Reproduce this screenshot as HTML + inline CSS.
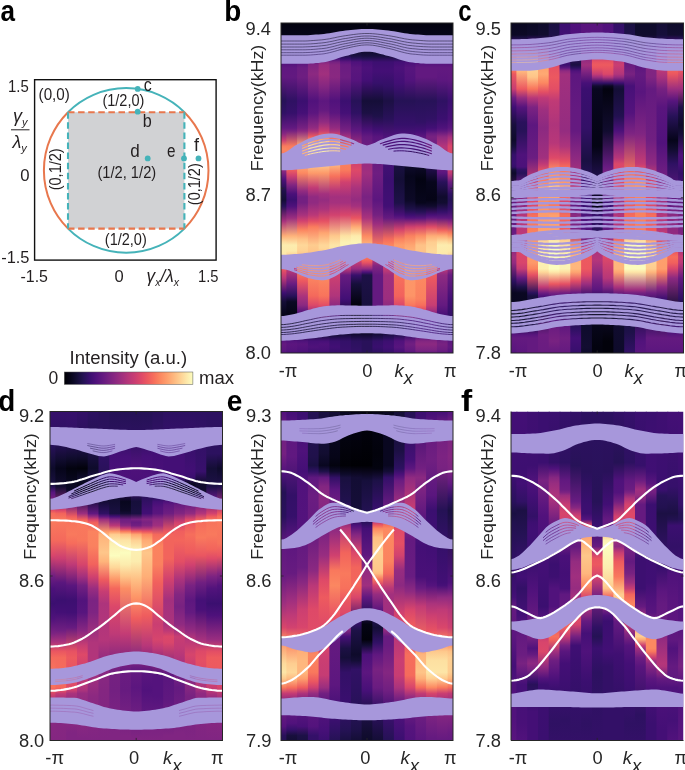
<!DOCTYPE html>
<html><head><meta charset="utf-8"><title>Figure</title>
<style>html,body{margin:0;padding:0;background:#fff}svg{display:block}
text{font-family:"Liberation Sans",sans-serif;fill:#231f20}
.t{font-size:18.3px;fill:#262626}
.pl{font-size:29.6px;font-weight:bold;fill:#000}
.s{font-size:14.5px}
</style></head><body>
<svg width="685" height="770" viewBox="0 0 685 770">
<defs><clipPath id="cpb"><rect x="281" y="23" width="172" height="330"/></clipPath><linearGradient id="b0" x1="0" y1="0" x2="0" y2="1"><stop offset="0" stop-color="#03030f"/><stop offset="0.073" stop-color="#0a0822"/><stop offset="0.1" stop-color="#1e1149"/><stop offset="0.118" stop-color="#4e117b"/><stop offset="0.136" stop-color="#601880"/><stop offset="0.164" stop-color="#621980"/><stop offset="0.236" stop-color="#271258"/><stop offset="0.273" stop-color="#311165"/><stop offset="0.318" stop-color="#621980"/><stop offset="0.336" stop-color="#882781"/><stop offset="0.355" stop-color="#c73d73"/><stop offset="0.373" stop-color="#f97b5d"/><stop offset="0.382" stop-color="#fb8761"/><stop offset="0.409" stop-color="#f7705c"/><stop offset="0.418" stop-color="#ee5b5e"/><stop offset="0.445" stop-color="#932b80"/><stop offset="0.473" stop-color="#51127c"/><stop offset="0.509" stop-color="#20114b"/><stop offset="0.536" stop-color="#140e36"/><stop offset="0.555" stop-color="#271258"/><stop offset="0.6" stop-color="#a6317d"/><stop offset="0.645" stop-color="#feae77"/><stop offset="0.664" stop-color="#fddea0"/><stop offset="0.673" stop-color="#fcecae"/><stop offset="0.7" stop-color="#fde9aa"/><stop offset="0.709" stop-color="#fdda9c"/><stop offset="0.736" stop-color="#f66c5c"/><stop offset="0.755" stop-color="#dc4869"/><stop offset="0.773" stop-color="#ba3878"/><stop offset="0.818" stop-color="#3d0f71"/><stop offset="0.845" stop-color="#140e36"/><stop offset="0.882" stop-color="#06051a"/><stop offset="0.927" stop-color="#0a0822"/><stop offset="0.936" stop-color="#0e0b2b"/><stop offset="0.945" stop-color="#1d1147"/><stop offset="0.964" stop-color="#5a167e"/><stop offset="0.973" stop-color="#641a80"/><stop offset="0.991" stop-color="#5d177f"/><stop offset="1" stop-color="#51127c"/></linearGradient><linearGradient id="b1" x1="0" y1="0" x2="0" y2="1"><stop offset="0" stop-color="#03030f"/><stop offset="0.073" stop-color="#0a0822"/><stop offset="0.1" stop-color="#1e1149"/><stop offset="0.118" stop-color="#4e117b"/><stop offset="0.136" stop-color="#601880"/><stop offset="0.164" stop-color="#621980"/><stop offset="0.236" stop-color="#2f1163"/><stop offset="0.273" stop-color="#36106b"/><stop offset="0.318" stop-color="#621980"/><stop offset="0.327" stop-color="#752181"/><stop offset="0.373" stop-color="#f97b5d"/><stop offset="0.391" stop-color="#fc8961"/><stop offset="0.418" stop-color="#fb835f"/><stop offset="0.445" stop-color="#ef5d5e"/><stop offset="0.464" stop-color="#cc3f71"/><stop offset="0.491" stop-color="#812581"/><stop offset="0.518" stop-color="#4a1079"/><stop offset="0.536" stop-color="#3b0f70"/><stop offset="0.555" stop-color="#4e117b"/><stop offset="0.591" stop-color="#9b2e7f"/><stop offset="0.645" stop-color="#feb27a"/><stop offset="0.673" stop-color="#fcecae"/><stop offset="0.691" stop-color="#fde9aa"/><stop offset="0.709" stop-color="#fec88c"/><stop offset="0.727" stop-color="#f8765c"/><stop offset="0.736" stop-color="#e04c67"/><stop offset="0.745" stop-color="#c23b75"/><stop offset="0.791" stop-color="#681c81"/><stop offset="0.827" stop-color="#29115a"/><stop offset="0.845" stop-color="#0b0924"/><stop offset="0.882" stop-color="#050416"/><stop offset="0.936" stop-color="#0e0b2b"/><stop offset="0.945" stop-color="#1c1044"/><stop offset="0.964" stop-color="#54137d"/><stop offset="0.973" stop-color="#5c167f"/><stop offset="0.991" stop-color="#56147d"/><stop offset="1" stop-color="#471078"/></linearGradient><linearGradient id="b2" x1="0" y1="0" x2="0" y2="1"><stop offset="0" stop-color="#03030f"/><stop offset="0.073" stop-color="#0a0822"/><stop offset="0.1" stop-color="#21114e"/><stop offset="0.109" stop-color="#36106b"/><stop offset="0.118" stop-color="#57157e"/><stop offset="0.136" stop-color="#6b1d81"/><stop offset="0.164" stop-color="#6e1e81"/><stop offset="0.236" stop-color="#3b0f70"/><stop offset="0.273" stop-color="#451077"/><stop offset="0.318" stop-color="#762181"/><stop offset="0.327" stop-color="#892881"/><stop offset="0.373" stop-color="#feaa74"/><stop offset="0.382" stop-color="#feb77e"/><stop offset="0.427" stop-color="#feae77"/><stop offset="0.455" stop-color="#fc8961"/><stop offset="0.509" stop-color="#932b80"/><stop offset="0.527" stop-color="#732081"/><stop offset="0.545" stop-color="#732081"/><stop offset="0.582" stop-color="#a8327d"/><stop offset="0.6" stop-color="#d2426f"/><stop offset="0.627" stop-color="#fb8560"/><stop offset="0.655" stop-color="#fec287"/><stop offset="0.673" stop-color="#fed799"/><stop offset="0.691" stop-color="#fed194"/><stop offset="0.727" stop-color="#fea36f"/><stop offset="0.755" stop-color="#f97b5d"/><stop offset="0.782" stop-color="#ec5860"/><stop offset="0.827" stop-color="#ab337c"/><stop offset="0.855" stop-color="#8b2981"/><stop offset="0.882" stop-color="#4a1079"/><stop offset="0.9" stop-color="#130d34"/><stop offset="0.927" stop-color="#0e0b2b"/><stop offset="0.936" stop-color="#0e0b2b"/><stop offset="0.945" stop-color="#180f3d"/><stop offset="0.964" stop-color="#4f127b"/><stop offset="0.973" stop-color="#59157e"/><stop offset="0.991" stop-color="#51127c"/><stop offset="1" stop-color="#440f76"/></linearGradient><linearGradient id="b3" x1="0" y1="0" x2="0" y2="1"><stop offset="0" stop-color="#03030f"/><stop offset="0.073" stop-color="#0a0822"/><stop offset="0.1" stop-color="#2c115f"/><stop offset="0.109" stop-color="#471078"/><stop offset="0.118" stop-color="#6d1d81"/><stop offset="0.127" stop-color="#802582"/><stop offset="0.155" stop-color="#8c2981"/><stop offset="0.191" stop-color="#752181"/><stop offset="0.236" stop-color="#51127c"/><stop offset="0.273" stop-color="#5c167f"/><stop offset="0.318" stop-color="#912b81"/><stop offset="0.327" stop-color="#a8327d"/><stop offset="0.345" stop-color="#ef5d5e"/><stop offset="0.355" stop-color="#fd9869"/><stop offset="0.364" stop-color="#fec287"/><stop offset="0.373" stop-color="#fde0a1"/><stop offset="0.391" stop-color="#fde3a5"/><stop offset="0.427" stop-color="#fec88c"/><stop offset="0.455" stop-color="#fd9a6a"/><stop offset="0.5" stop-color="#c03a76"/><stop offset="0.527" stop-color="#902a81"/><stop offset="0.545" stop-color="#902a81"/><stop offset="0.582" stop-color="#ba3878"/><stop offset="0.6" stop-color="#e04c67"/><stop offset="0.618" stop-color="#fa7d5e"/><stop offset="0.673" stop-color="#fecc8f"/><stop offset="0.691" stop-color="#fec68a"/><stop offset="0.764" stop-color="#fc8961"/><stop offset="0.827" stop-color="#f4695c"/><stop offset="0.855" stop-color="#dc4869"/><stop offset="0.873" stop-color="#a8327d"/><stop offset="0.882" stop-color="#842681"/><stop offset="0.9" stop-color="#20114b"/><stop offset="0.909" stop-color="#130d34"/><stop offset="0.936" stop-color="#0e0b2b"/><stop offset="0.945" stop-color="#160f3b"/><stop offset="0.964" stop-color="#471078"/><stop offset="0.982" stop-color="#4f127b"/><stop offset="1" stop-color="#3f0f72"/></linearGradient><linearGradient id="b4" x1="0" y1="0" x2="0" y2="1"><stop offset="0" stop-color="#03030f"/><stop offset="0.073" stop-color="#0a0822"/><stop offset="0.091" stop-color="#1e1149"/><stop offset="0.1" stop-color="#331067"/><stop offset="0.109" stop-color="#54137d"/><stop offset="0.118" stop-color="#832681"/><stop offset="0.127" stop-color="#982d80"/><stop offset="0.155" stop-color="#a1307e"/><stop offset="0.191" stop-color="#862781"/><stop offset="0.236" stop-color="#5d177f"/><stop offset="0.264" stop-color="#641a80"/><stop offset="0.3" stop-color="#912b81"/><stop offset="0.327" stop-color="#c83e73"/><stop offset="0.345" stop-color="#f7725c"/><stop offset="0.355" stop-color="#feb77e"/><stop offset="0.364" stop-color="#fddea0"/><stop offset="0.382" stop-color="#fcf0b2"/><stop offset="0.418" stop-color="#fddea0"/><stop offset="0.455" stop-color="#fd9a6a"/><stop offset="0.518" stop-color="#a3307e"/><stop offset="0.536" stop-color="#942c80"/><stop offset="0.564" stop-color="#ab337c"/><stop offset="0.6" stop-color="#e55064"/><stop offset="0.636" stop-color="#fea571"/><stop offset="0.673" stop-color="#fed799"/><stop offset="0.682" stop-color="#fed799"/><stop offset="0.727" stop-color="#fe9d6c"/><stop offset="0.791" stop-color="#fa815f"/><stop offset="0.827" stop-color="#f8745c"/><stop offset="0.855" stop-color="#e34e65"/><stop offset="0.873" stop-color="#b0357b"/><stop offset="0.882" stop-color="#8c2981"/><stop offset="0.9" stop-color="#21114e"/><stop offset="0.909" stop-color="#130d34"/><stop offset="0.936" stop-color="#0e0b2b"/><stop offset="0.945" stop-color="#160f3b"/><stop offset="0.964" stop-color="#471078"/><stop offset="0.973" stop-color="#4f127b"/><stop offset="0.991" stop-color="#491078"/><stop offset="1" stop-color="#3b0f70"/></linearGradient><linearGradient id="b5" x1="0" y1="0" x2="0" y2="1"><stop offset="0" stop-color="#03030f"/><stop offset="0.073" stop-color="#0a0822"/><stop offset="0.1" stop-color="#2a115c"/><stop offset="0.109" stop-color="#4a1079"/><stop offset="0.118" stop-color="#752181"/><stop offset="0.127" stop-color="#862781"/><stop offset="0.164" stop-color="#892881"/><stop offset="0.236" stop-color="#51127c"/><stop offset="0.273" stop-color="#5c167f"/><stop offset="0.318" stop-color="#932b80"/><stop offset="0.327" stop-color="#a6317d"/><stop offset="0.345" stop-color="#e75263"/><stop offset="0.355" stop-color="#fd9467"/><stop offset="0.364" stop-color="#fec185"/><stop offset="0.373" stop-color="#fed597"/><stop offset="0.4" stop-color="#fed395"/><stop offset="0.427" stop-color="#febb81"/><stop offset="0.464" stop-color="#f7725c"/><stop offset="0.509" stop-color="#b83779"/><stop offset="0.527" stop-color="#a3307e"/><stop offset="0.545" stop-color="#a5317e"/><stop offset="0.582" stop-color="#d2426f"/><stop offset="0.645" stop-color="#fec88c"/><stop offset="0.673" stop-color="#fde5a7"/><stop offset="0.682" stop-color="#fde5a7"/><stop offset="0.745" stop-color="#f1605d"/><stop offset="0.764" stop-color="#cd4071"/><stop offset="0.827" stop-color="#b0357b"/><stop offset="0.864" stop-color="#842681"/><stop offset="0.882" stop-color="#5f187f"/><stop offset="0.9" stop-color="#150e38"/><stop offset="0.918" stop-color="#0e0b2b"/><stop offset="0.936" stop-color="#0e0b2b"/><stop offset="0.945" stop-color="#150e38"/><stop offset="0.964" stop-color="#3b0f70"/><stop offset="0.982" stop-color="#420f75"/><stop offset="1" stop-color="#36106b"/></linearGradient><linearGradient id="b6" x1="0" y1="0" x2="0" y2="1"><stop offset="0" stop-color="#03030f"/><stop offset="0.073" stop-color="#0a0822"/><stop offset="0.1" stop-color="#21114e"/><stop offset="0.109" stop-color="#38106c"/><stop offset="0.118" stop-color="#5c167f"/><stop offset="0.127" stop-color="#6a1c81"/><stop offset="0.164" stop-color="#6e1e81"/><stop offset="0.236" stop-color="#3b0f70"/><stop offset="0.273" stop-color="#451077"/><stop offset="0.327" stop-color="#792282"/><stop offset="0.345" stop-color="#a3307e"/><stop offset="0.373" stop-color="#fa7d5e"/><stop offset="0.391" stop-color="#fc8961"/><stop offset="0.445" stop-color="#f97b5d"/><stop offset="0.464" stop-color="#ef5d5e"/><stop offset="0.482" stop-color="#d0416f"/><stop offset="0.527" stop-color="#a3307e"/><stop offset="0.545" stop-color="#a5317e"/><stop offset="0.582" stop-color="#d9466b"/><stop offset="0.645" stop-color="#fde2a3"/><stop offset="0.664" stop-color="#fcf2b4"/><stop offset="0.682" stop-color="#fcf2b4"/><stop offset="0.7" stop-color="#fec287"/><stop offset="0.727" stop-color="#e75263"/><stop offset="0.745" stop-color="#bf3a77"/><stop offset="0.764" stop-color="#671b80"/><stop offset="0.836" stop-color="#420f75"/><stop offset="0.9" stop-color="#0a0822"/><stop offset="0.936" stop-color="#0e0b2b"/><stop offset="0.964" stop-color="#341069"/><stop offset="0.991" stop-color="#38106c"/><stop offset="1" stop-color="#331067"/></linearGradient><linearGradient id="b7" x1="0" y1="0" x2="0" y2="1"><stop offset="0" stop-color="#03030f"/><stop offset="0.073" stop-color="#0a0822"/><stop offset="0.1" stop-color="#1a1042"/><stop offset="0.109" stop-color="#2c115f"/><stop offset="0.118" stop-color="#4e117b"/><stop offset="0.136" stop-color="#5a167e"/><stop offset="0.173" stop-color="#56147d"/><stop offset="0.236" stop-color="#271258"/><stop offset="0.273" stop-color="#2f1163"/><stop offset="0.327" stop-color="#601880"/><stop offset="0.391" stop-color="#bc3978"/><stop offset="0.445" stop-color="#de4968"/><stop offset="0.464" stop-color="#d2426f"/><stop offset="0.5" stop-color="#aa337d"/><stop offset="0.536" stop-color="#942c80"/><stop offset="0.555" stop-color="#a5317e"/><stop offset="0.591" stop-color="#e95462"/><stop offset="0.618" stop-color="#feac76"/><stop offset="0.645" stop-color="#fdebac"/><stop offset="0.664" stop-color="#fcf4b6"/><stop offset="0.682" stop-color="#fcf2b4"/><stop offset="0.691" stop-color="#fde0a1"/><stop offset="0.7" stop-color="#fec287"/><stop offset="0.709" stop-color="#fd9467"/><stop offset="0.718" stop-color="#e34e65"/><stop offset="0.727" stop-color="#c03a76"/><stop offset="0.745" stop-color="#962c80"/><stop offset="0.764" stop-color="#38106c"/><stop offset="0.791" stop-color="#160f3b"/><stop offset="0.855" stop-color="#02020b"/><stop offset="0.936" stop-color="#090720"/><stop offset="0.964" stop-color="#2c115f"/><stop offset="0.991" stop-color="#311165"/><stop offset="1" stop-color="#2d1161"/></linearGradient><linearGradient id="b8" x1="0" y1="0" x2="0" y2="1"><stop offset="0" stop-color="#03030f"/><stop offset="0.073" stop-color="#0a0822"/><stop offset="0.1" stop-color="#180f3d"/><stop offset="0.109" stop-color="#271258"/><stop offset="0.118" stop-color="#440f76"/><stop offset="0.136" stop-color="#4c117a"/><stop offset="0.173" stop-color="#440f76"/><stop offset="0.236" stop-color="#150e38"/><stop offset="0.273" stop-color="#1c1044"/><stop offset="0.327" stop-color="#4e117b"/><stop offset="0.345" stop-color="#641a80"/><stop offset="0.382" stop-color="#6e1e81"/><stop offset="0.427" stop-color="#992d80"/><stop offset="0.455" stop-color="#a02f7f"/><stop offset="0.527" stop-color="#792282"/><stop offset="0.555" stop-color="#802582"/><stop offset="0.591" stop-color="#aa337d"/><stop offset="0.645" stop-color="#fc8a62"/><stop offset="0.673" stop-color="#feb67c"/><stop offset="0.682" stop-color="#feb67c"/><stop offset="0.718" stop-color="#f4675c"/><stop offset="0.727" stop-color="#e55064"/><stop offset="0.745" stop-color="#902a81"/><stop offset="0.755" stop-color="#4c117a"/><stop offset="0.764" stop-color="#1d1147"/><stop offset="0.873" stop-color="#160f3b"/><stop offset="0.909" stop-color="#06051a"/><stop offset="0.936" stop-color="#090720"/><stop offset="0.964" stop-color="#29115a"/><stop offset="1" stop-color="#29115a"/></linearGradient><linearGradient id="b9" x1="0" y1="0" x2="0" y2="1"><stop offset="0" stop-color="#03030f"/><stop offset="0.073" stop-color="#0a0822"/><stop offset="0.1" stop-color="#180f3d"/><stop offset="0.118" stop-color="#3d0f71"/><stop offset="0.145" stop-color="#440f76"/><stop offset="0.182" stop-color="#36106b"/><stop offset="0.236" stop-color="#150e38"/><stop offset="0.282" stop-color="#1e1149"/><stop offset="0.327" stop-color="#440f76"/><stop offset="0.345" stop-color="#59157e"/><stop offset="0.455" stop-color="#6e1e81"/><stop offset="0.536" stop-color="#5c167f"/><stop offset="0.582" stop-color="#752181"/><stop offset="0.609" stop-color="#9c2e7f"/><stop offset="0.673" stop-color="#f8765c"/><stop offset="0.682" stop-color="#f9785d"/><stop offset="0.7" stop-color="#f05f5e"/><stop offset="0.709" stop-color="#df4a68"/><stop offset="0.718" stop-color="#b73779"/><stop offset="0.736" stop-color="#812581"/><stop offset="0.764" stop-color="#641a80"/><stop offset="0.855" stop-color="#641a80"/><stop offset="0.873" stop-color="#4f127b"/><stop offset="0.891" stop-color="#271258"/><stop offset="0.9" stop-color="#130d34"/><stop offset="0.936" stop-color="#0e0b2b"/><stop offset="0.955" stop-color="#221150"/><stop offset="0.964" stop-color="#341069"/><stop offset="0.982" stop-color="#390f6e"/><stop offset="1" stop-color="#2d1161"/></linearGradient><linearGradient id="b10" x1="0" y1="0" x2="0" y2="1"><stop offset="0" stop-color="#03030f"/><stop offset="0.073" stop-color="#0a0822"/><stop offset="0.1" stop-color="#180f3d"/><stop offset="0.118" stop-color="#3d0f71"/><stop offset="0.145" stop-color="#440f76"/><stop offset="0.191" stop-color="#331067"/><stop offset="0.236" stop-color="#1c1044"/><stop offset="0.291" stop-color="#29115a"/><stop offset="0.345" stop-color="#4f127b"/><stop offset="0.473" stop-color="#3b0f70"/><stop offset="0.555" stop-color="#420f75"/><stop offset="0.591" stop-color="#651a80"/><stop offset="0.655" stop-color="#f56b5c"/><stop offset="0.673" stop-color="#fb8560"/><stop offset="0.7" stop-color="#fc8961"/><stop offset="0.709" stop-color="#f97b5d"/><stop offset="0.718" stop-color="#ea5661"/><stop offset="0.727" stop-color="#d9466b"/><stop offset="0.745" stop-color="#c53c74"/><stop offset="0.764" stop-color="#a1307e"/><stop offset="0.836" stop-color="#9c2e7f"/><stop offset="0.864" stop-color="#892881"/><stop offset="0.882" stop-color="#681c81"/><stop offset="0.9" stop-color="#1c1044"/><stop offset="0.909" stop-color="#140e36"/><stop offset="0.936" stop-color="#140e36"/><stop offset="0.955" stop-color="#2a115c"/><stop offset="0.964" stop-color="#3d0f71"/><stop offset="0.982" stop-color="#420f75"/><stop offset="1" stop-color="#36106b"/></linearGradient><linearGradient id="b11" x1="0" y1="0" x2="0" y2="1"><stop offset="0" stop-color="#03030f"/><stop offset="0.073" stop-color="#0a0822"/><stop offset="0.1" stop-color="#180f3d"/><stop offset="0.109" stop-color="#271258"/><stop offset="0.118" stop-color="#440f76"/><stop offset="0.136" stop-color="#4c117a"/><stop offset="0.182" stop-color="#420f75"/><stop offset="0.236" stop-color="#251255"/><stop offset="0.309" stop-color="#36106b"/><stop offset="0.345" stop-color="#4f127b"/><stop offset="0.373" stop-color="#440f76"/><stop offset="0.391" stop-color="#3b0f70"/><stop offset="0.427" stop-color="#1a1042"/><stop offset="0.473" stop-color="#140e36"/><stop offset="0.545" stop-color="#1e1149"/><stop offset="0.582" stop-color="#4a1079"/><stop offset="0.591" stop-color="#5d177f"/><stop offset="0.627" stop-color="#d6456c"/><stop offset="0.655" stop-color="#fb835f"/><stop offset="0.673" stop-color="#fe9d6c"/><stop offset="0.718" stop-color="#fd9a6a"/><stop offset="0.773" stop-color="#f66e5c"/><stop offset="0.827" stop-color="#f2625d"/><stop offset="0.855" stop-color="#dc4869"/><stop offset="0.873" stop-color="#b73779"/><stop offset="0.882" stop-color="#9b2e7f"/><stop offset="0.9" stop-color="#311165"/><stop offset="0.909" stop-color="#20114b"/><stop offset="0.936" stop-color="#1a1042"/><stop offset="0.945" stop-color="#241253"/><stop offset="0.964" stop-color="#51127c"/><stop offset="0.982" stop-color="#57157e"/><stop offset="1" stop-color="#440f76"/></linearGradient><linearGradient id="b12" x1="0" y1="0" x2="0" y2="1"><stop offset="0" stop-color="#03030f"/><stop offset="0.073" stop-color="#0a0822"/><stop offset="0.1" stop-color="#1a1042"/><stop offset="0.109" stop-color="#2c115f"/><stop offset="0.118" stop-color="#4a1079"/><stop offset="0.136" stop-color="#57157e"/><stop offset="0.173" stop-color="#52137c"/><stop offset="0.236" stop-color="#251255"/><stop offset="0.309" stop-color="#36106b"/><stop offset="0.345" stop-color="#4f127b"/><stop offset="0.373" stop-color="#440f76"/><stop offset="0.382" stop-color="#420f75"/><stop offset="0.409" stop-color="#140e36"/><stop offset="0.464" stop-color="#07061c"/><stop offset="0.536" stop-color="#0c0926"/><stop offset="0.564" stop-color="#1e1149"/><stop offset="0.582" stop-color="#3d0f71"/><stop offset="0.591" stop-color="#54137d"/><stop offset="0.618" stop-color="#d0416f"/><stop offset="0.645" stop-color="#fa815f"/><stop offset="0.673" stop-color="#fea571"/><stop offset="0.7" stop-color="#feb77e"/><stop offset="0.773" stop-color="#fd9668"/><stop offset="0.827" stop-color="#fd9467"/><stop offset="0.855" stop-color="#f9785d"/><stop offset="0.864" stop-color="#f1605d"/><stop offset="0.882" stop-color="#b73779"/><stop offset="0.9" stop-color="#451077"/><stop offset="0.909" stop-color="#2f1163"/><stop offset="0.936" stop-color="#251255"/><stop offset="0.945" stop-color="#331067"/><stop offset="0.964" stop-color="#671b80"/><stop offset="0.973" stop-color="#701f81"/><stop offset="0.991" stop-color="#651a80"/><stop offset="1" stop-color="#54137d"/></linearGradient><linearGradient id="b13" x1="0" y1="0" x2="0" y2="1"><stop offset="0" stop-color="#03030f"/><stop offset="0.073" stop-color="#0a0822"/><stop offset="0.1" stop-color="#1e1149"/><stop offset="0.109" stop-color="#311165"/><stop offset="0.118" stop-color="#51127c"/><stop offset="0.136" stop-color="#621980"/><stop offset="0.164" stop-color="#621980"/><stop offset="0.236" stop-color="#271258"/><stop offset="0.3" stop-color="#311165"/><stop offset="0.327" stop-color="#440f76"/><stop offset="0.345" stop-color="#5c167f"/><stop offset="0.382" stop-color="#4a1079"/><stop offset="0.409" stop-color="#140e36"/><stop offset="0.473" stop-color="#030312"/><stop offset="0.545" stop-color="#07061c"/><stop offset="0.573" stop-color="#271258"/><stop offset="0.591" stop-color="#56147d"/><stop offset="0.618" stop-color="#d6456c"/><stop offset="0.645" stop-color="#fc9065"/><stop offset="0.673" stop-color="#fec287"/><stop offset="0.709" stop-color="#fec488"/><stop offset="0.764" stop-color="#fc8961"/><stop offset="0.836" stop-color="#fa815f"/><stop offset="0.855" stop-color="#f66e5c"/><stop offset="0.864" stop-color="#ec5860"/><stop offset="0.882" stop-color="#ae347b"/><stop offset="0.9" stop-color="#491078"/><stop offset="0.909" stop-color="#3b0f70"/><stop offset="0.936" stop-color="#3b0f70"/><stop offset="0.945" stop-color="#491078"/><stop offset="0.964" stop-color="#832681"/><stop offset="0.973" stop-color="#8c2981"/><stop offset="0.991" stop-color="#7b2382"/><stop offset="1" stop-color="#641a80"/></linearGradient><linearGradient id="b14" x1="0" y1="0" x2="0" y2="1"><stop offset="0" stop-color="#03030f"/><stop offset="0.073" stop-color="#0a0822"/><stop offset="0.1" stop-color="#1e1149"/><stop offset="0.109" stop-color="#311165"/><stop offset="0.118" stop-color="#51127c"/><stop offset="0.136" stop-color="#621980"/><stop offset="0.164" stop-color="#621980"/><stop offset="0.236" stop-color="#271258"/><stop offset="0.291" stop-color="#311165"/><stop offset="0.318" stop-color="#420f75"/><stop offset="0.327" stop-color="#52137c"/><stop offset="0.336" stop-color="#6b1d81"/><stop offset="0.345" stop-color="#782281"/><stop offset="0.382" stop-color="#6a1c81"/><stop offset="0.418" stop-color="#311165"/><stop offset="0.482" stop-color="#07061c"/><stop offset="0.536" stop-color="#050416"/><stop offset="0.555" stop-color="#100b2d"/><stop offset="0.582" stop-color="#491078"/><stop offset="0.591" stop-color="#641a80"/><stop offset="0.618" stop-color="#e04c67"/><stop offset="0.645" stop-color="#feac76"/><stop offset="0.664" stop-color="#fecd90"/><stop offset="0.691" stop-color="#fed89a"/><stop offset="0.709" stop-color="#fed597"/><stop offset="0.764" stop-color="#ee5b5e"/><stop offset="0.855" stop-color="#c83e73"/><stop offset="0.873" stop-color="#a02f7f"/><stop offset="0.9" stop-color="#4e117b"/><stop offset="0.918" stop-color="#3f0f72"/><stop offset="0.936" stop-color="#3b0f70"/><stop offset="0.945" stop-color="#491078"/><stop offset="0.964" stop-color="#832681"/><stop offset="0.973" stop-color="#8c2981"/><stop offset="0.991" stop-color="#7b2382"/><stop offset="1" stop-color="#641a80"/></linearGradient><linearGradient id="b15" x1="0" y1="0" x2="0" y2="1"><stop offset="0" stop-color="#03030f"/><stop offset="0.073" stop-color="#0a0822"/><stop offset="0.1" stop-color="#1e1149"/><stop offset="0.109" stop-color="#311165"/><stop offset="0.118" stop-color="#51127c"/><stop offset="0.136" stop-color="#621980"/><stop offset="0.173" stop-color="#5d177f"/><stop offset="0.236" stop-color="#2f1163"/><stop offset="0.291" stop-color="#3b0f70"/><stop offset="0.318" stop-color="#4f127b"/><stop offset="0.327" stop-color="#5d177f"/><stop offset="0.345" stop-color="#8e2a81"/><stop offset="0.373" stop-color="#b2357b"/><stop offset="0.382" stop-color="#b5367a"/><stop offset="0.427" stop-color="#792282"/><stop offset="0.455" stop-color="#5a167e"/><stop offset="0.482" stop-color="#29115a"/><stop offset="0.527" stop-color="#100b2d"/><stop offset="0.545" stop-color="#120d31"/><stop offset="0.573" stop-color="#36106b"/><stop offset="0.591" stop-color="#601880"/><stop offset="0.627" stop-color="#f05f5e"/><stop offset="0.645" stop-color="#feac76"/><stop offset="0.664" stop-color="#fddea0"/><stop offset="0.673" stop-color="#fcecae"/><stop offset="0.7" stop-color="#fde9aa"/><stop offset="0.709" stop-color="#fed799"/><stop offset="0.736" stop-color="#e04c67"/><stop offset="0.755" stop-color="#a3307e"/><stop offset="0.764" stop-color="#8e2a81"/><stop offset="0.855" stop-color="#641a80"/><stop offset="0.891" stop-color="#420f75"/><stop offset="0.909" stop-color="#331067"/><stop offset="0.936" stop-color="#331067"/><stop offset="0.945" stop-color="#3f0f72"/><stop offset="0.964" stop-color="#701f81"/><stop offset="0.973" stop-color="#782281"/><stop offset="0.991" stop-color="#6d1d81"/><stop offset="1" stop-color="#5c167f"/></linearGradient><linearGradient id="b16" x1="0" y1="0" x2="0" y2="1"><stop offset="0" stop-color="#03030f"/><stop offset="0.073" stop-color="#0a0822"/><stop offset="0.1" stop-color="#1e1149"/><stop offset="0.109" stop-color="#311165"/><stop offset="0.118" stop-color="#51127c"/><stop offset="0.136" stop-color="#621980"/><stop offset="0.173" stop-color="#5f187f"/><stop offset="0.236" stop-color="#3b0f70"/><stop offset="0.291" stop-color="#491078"/><stop offset="0.318" stop-color="#5a167e"/><stop offset="0.327" stop-color="#6a1c81"/><stop offset="0.345" stop-color="#a3307e"/><stop offset="0.373" stop-color="#d8456c"/><stop offset="0.409" stop-color="#de4968"/><stop offset="0.445" stop-color="#cc3f71"/><stop offset="0.455" stop-color="#bf3a77"/><stop offset="0.482" stop-color="#6b1d81"/><stop offset="0.518" stop-color="#2f1163"/><stop offset="0.536" stop-color="#251255"/><stop offset="0.564" stop-color="#341069"/><stop offset="0.591" stop-color="#5d177f"/><stop offset="0.609" stop-color="#a5317e"/><stop offset="0.636" stop-color="#f97b5d"/><stop offset="0.655" stop-color="#febf84"/><stop offset="0.673" stop-color="#fdebac"/><stop offset="0.691" stop-color="#fde9aa"/><stop offset="0.7" stop-color="#fddea0"/><stop offset="0.709" stop-color="#fec185"/><stop offset="0.727" stop-color="#e04c67"/><stop offset="0.745" stop-color="#962c80"/><stop offset="0.764" stop-color="#671b80"/><stop offset="0.836" stop-color="#440f76"/><stop offset="0.891" stop-color="#331067"/><stop offset="0.909" stop-color="#251255"/><stop offset="0.936" stop-color="#251255"/><stop offset="0.945" stop-color="#2f1163"/><stop offset="0.964" stop-color="#5d177f"/><stop offset="0.982" stop-color="#621980"/><stop offset="1" stop-color="#51127c"/></linearGradient><mask id="mb0" maskUnits="userSpaceOnUse" x="281" y="23" width="172" height="330"><path d="M281,35.3L283.7,35.3L286.4,35.3L289.1,35.3L291.8,35.3L294.4,35.3L297.1,35.3L299.8,35.3L302.5,35.3L305.2,35.2L307.9,35.2L310.6,35L313.2,34.8L315.9,34.6L318.6,34.4L321.3,34.2L324,33.9L326.7,33.6L329.4,33.2L332.1,32.7L334.8,32.3L337.4,31.8L340.1,31.3L342.8,30.9L345.5,30.6L348.2,30.3L350.9,30L353.6,29.7L356.2,29.4L358.9,29.2L361.6,29.1L364.3,28.9L367,28.9L369.7,28.9L372.4,29.1L375.1,29.2L377.8,29.4L380.4,29.7L383.1,30L385.8,30.3L388.5,30.6L391.2,30.9L393.9,31.3L396.6,31.8L399.2,32.3L401.9,32.7L404.6,33.2L407.3,33.6L410,33.9L412.7,34.2L415.4,34.4L418.1,34.6L420.8,34.8L423.4,35L426.1,35.2L428.8,35.2L431.5,35.3L434.2,35.3L436.9,35.3L439.6,35.3L442.2,35.3L444.9,35.3L447.6,35.3L450.3,35.3L453,35.3L453,63.8L450.3,63.8L447.6,63.8L444.9,63.8L442.2,63.8L439.6,63.8L436.9,63.8L434.2,63.8L431.5,63.8L428.8,63.8L426.1,63.7L423.4,63.5L420.8,63.4L418.1,63.1L415.4,62.9L412.7,62.6L410,62.3L407.3,61.8L404.6,61.1L401.9,60.3L399.2,59.4L396.6,58.5L393.9,57.6L391.2,56.8L388.5,56.1L385.8,55.4L383.1,54.6L380.4,53.9L377.8,53.2L375.1,52.6L372.4,52.1L369.7,51.8L367,51.7L364.3,51.8L361.6,52.1L358.9,52.6L356.2,53.2L353.6,53.9L350.9,54.6L348.2,55.4L345.5,56.1L342.8,56.8L340.1,57.6L337.4,58.5L334.8,59.4L332.1,60.3L329.4,61.1L326.7,61.8L324,62.3L321.3,62.6L318.6,62.9L315.9,63.1L313.2,63.4L310.6,63.5L307.9,63.7L305.2,63.8L302.5,63.8L299.8,63.8L297.1,63.8L294.4,63.8L291.8,63.8L289.1,63.8L286.4,63.8L283.7,63.8L281,63.8Z" fill="#fff"/><path d="M281,41L283.7,41L286.4,41L289.1,41L291.8,41L294.4,41L297.1,41L299.8,41L302.5,41L305.2,41L307.9,40.9L310.6,40.7L313.2,40.5L315.9,40.3L318.6,40.1L321.3,39.9L324,39.6L326.7,39.2L329.4,38.8L332.1,38.2L334.8,37.7L337.4,37.1L340.1,36.6L342.8,36.1L345.5,35.7L348.2,35.3L350.9,34.9L353.6,34.5L356.2,34.2L358.9,33.9L361.6,33.7L364.3,33.5L367,33.5L369.7,33.5L372.4,33.7L375.1,33.9L377.8,34.2L380.4,34.5L383.1,34.9L385.8,35.3L388.5,35.7L391.2,36.1L393.9,36.6L396.6,37.1L399.2,37.7L401.9,38.2L404.6,38.8L407.3,39.2L410,39.6L412.7,39.9L415.4,40.1L418.1,40.3L420.8,40.5L423.4,40.7L426.1,40.9L428.8,41L431.5,41L434.2,41L436.9,41L439.6,41L442.2,41L444.9,41L447.6,41L450.3,41L453,41" fill="none" stroke="#000" stroke-opacity="0.85" stroke-width="0.6" stroke-linecap="round"/><path d="M281,44.1L283.7,44.1L286.4,44.1L289.1,44.1L291.8,44.1L294.4,44.1L297.1,44.1L299.8,44.1L302.5,44.1L305.2,44.1L307.9,44L310.6,43.9L313.2,43.7L315.9,43.5L318.6,43.2L321.3,43L324,42.7L326.7,42.3L329.4,41.8L332.1,41.3L334.8,40.7L337.4,40.1L340.1,39.5L342.8,38.9L345.5,38.5L348.2,38.1L350.9,37.6L353.6,37.2L356.2,36.8L358.9,36.5L361.6,36.2L364.3,36L367,36L369.7,36L372.4,36.2L375.1,36.5L377.8,36.8L380.4,37.2L383.1,37.6L385.8,38.1L388.5,38.5L391.2,38.9L393.9,39.5L396.6,40.1L399.2,40.7L401.9,41.3L404.6,41.8L407.3,42.3L410,42.7L412.7,43L415.4,43.2L418.1,43.5L420.8,43.7L423.4,43.9L426.1,44L428.8,44.1L431.5,44.1L434.2,44.1L436.9,44.1L439.6,44.1L442.2,44.1L444.9,44.1L447.6,44.1L450.3,44.1L453,44.1" fill="none" stroke="#000" stroke-opacity="0.85" stroke-width="0.6" stroke-linecap="round"/><path d="M281,47L283.7,47L286.4,47L289.1,47L291.8,47L294.4,47L297.1,47L299.8,47L302.5,47L305.2,46.9L307.9,46.8L310.6,46.7L313.2,46.5L315.9,46.3L318.6,46.1L321.3,45.8L324,45.5L326.7,45.2L329.4,44.6L332.1,44L334.8,43.4L337.4,42.7L340.1,42.1L342.8,41.5L345.5,41.1L348.2,40.6L350.9,40.1L353.6,39.6L356.2,39.2L358.9,38.8L361.6,38.5L364.3,38.3L367,38.2L369.7,38.3L372.4,38.5L375.1,38.8L377.8,39.2L380.4,39.6L383.1,40.1L385.8,40.6L388.5,41.1L391.2,41.5L393.9,42.1L396.6,42.7L399.2,43.4L401.9,44L404.6,44.6L407.3,45.2L410,45.5L412.7,45.8L415.4,46.1L418.1,46.3L420.8,46.5L423.4,46.7L426.1,46.8L428.8,46.9L431.5,47L434.2,47L436.9,47L439.6,47L442.2,47L444.9,47L447.6,47L450.3,47L453,47" fill="none" stroke="#000" stroke-opacity="0.85" stroke-width="0.6" stroke-linecap="round"/><path d="M281,49.8L283.7,49.8L286.4,49.8L289.1,49.8L291.8,49.8L294.4,49.8L297.1,49.8L299.8,49.8L302.5,49.8L305.2,49.8L307.9,49.7L310.6,49.6L313.2,49.4L315.9,49.2L318.6,48.9L321.3,48.7L324,48.4L326.7,48L329.4,47.4L332.1,46.8L334.8,46.1L337.4,45.4L340.1,44.7L342.8,44.1L345.5,43.6L348.2,43.1L350.9,42.6L353.6,42L356.2,41.6L358.9,41.1L361.6,40.8L364.3,40.6L367,40.5L369.7,40.6L372.4,40.8L375.1,41.1L377.8,41.6L380.4,42L383.1,42.6L385.8,43.1L388.5,43.6L391.2,44.1L393.9,44.7L396.6,45.4L399.2,46.1L401.9,46.8L404.6,47.4L407.3,48L410,48.4L412.7,48.7L415.4,48.9L418.1,49.2L420.8,49.4L423.4,49.6L426.1,49.7L428.8,49.8L431.5,49.8L434.2,49.8L436.9,49.8L439.6,49.8L442.2,49.8L444.9,49.8L447.6,49.8L450.3,49.8L453,49.8" fill="none" stroke="#000" stroke-opacity="0.85" stroke-width="0.6" stroke-linecap="round"/><path d="M281,52.7L283.7,52.7L286.4,52.7L289.1,52.7L291.8,52.7L294.4,52.7L297.1,52.7L299.8,52.7L302.5,52.7L305.2,52.6L307.9,52.5L310.6,52.4L313.2,52.2L315.9,52L318.6,51.8L321.3,51.5L324,51.2L326.7,50.8L329.4,50.2L332.1,49.5L334.8,48.8L337.4,48.1L340.1,47.4L342.8,46.7L345.5,46.1L348.2,45.6L350.9,45L353.6,44.5L356.2,43.9L358.9,43.5L361.6,43.1L364.3,42.9L367,42.8L369.7,42.9L372.4,43.1L375.1,43.5L377.8,43.9L380.4,44.5L383.1,45L385.8,45.6L388.5,46.1L391.2,46.7L393.9,47.4L396.6,48.1L399.2,48.8L401.9,49.5L404.6,50.2L407.3,50.8L410,51.2L412.7,51.5L415.4,51.8L418.1,52L420.8,52.2L423.4,52.4L426.1,52.5L428.8,52.6L431.5,52.7L434.2,52.7L436.9,52.7L439.6,52.7L442.2,52.7L444.9,52.7L447.6,52.7L450.3,52.7L453,52.7" fill="none" stroke="#000" stroke-opacity="0.85" stroke-width="0.6" stroke-linecap="round"/><path d="M281,55.2L283.7,55.2L286.4,55.2L289.1,55.2L291.8,55.2L294.4,55.2L297.1,55.2L299.8,55.2L302.5,55.2L305.2,55.2L307.9,55.1L310.6,55L313.2,54.8L315.9,54.6L318.6,54.3L321.3,54.1L324,53.8L326.7,53.3L329.4,52.7L332.1,52L334.8,51.3L337.4,50.5L340.1,49.7L342.8,49L345.5,48.4L348.2,47.8L350.9,47.2L353.6,46.6L356.2,46.1L358.9,45.6L361.6,45.2L364.3,45L367,44.9L369.7,45L372.4,45.2L375.1,45.6L377.8,46.1L380.4,46.6L383.1,47.2L385.8,47.8L388.5,48.4L391.2,49L393.9,49.7L396.6,50.5L399.2,51.3L401.9,52L404.6,52.7L407.3,53.3L410,53.8L412.7,54.1L415.4,54.3L418.1,54.6L420.8,54.8L423.4,55L426.1,55.1L428.8,55.2L431.5,55.2L434.2,55.2L436.9,55.2L439.6,55.2L442.2,55.2L444.9,55.2L447.6,55.2L450.3,55.2L453,55.2" fill="none" stroke="#000" stroke-opacity="0.85" stroke-width="0.6" stroke-linecap="round"/></mask><mask id="mb1" maskUnits="userSpaceOnUse" x="281" y="23" width="172" height="330"><path d="M281,153.5L283.7,153L286.4,151.7L289.1,149.9L291.8,147.9L294.4,146.1L297.1,144.6L299.8,143.2L302.5,141.7L305.2,140.3L307.9,139.1L310.6,138L313.2,137L315.9,136.1L318.6,135.3L321.3,134.6L324,134.1L326.7,133.8L329.4,133.5L332.1,133.5L334.8,133.8L337.4,134.3L340.1,135L342.8,135.9L345.5,136.9L348.2,138L350.9,139L353.6,140.1L356.2,141.3L358.9,142.7L361.6,143.8L364.3,144.7L367,145.4L369.7,144.7L372.4,143.8L375.1,142.7L377.8,141.3L380.4,140.1L383.1,139L385.8,138L388.5,136.9L391.2,135.9L393.9,135L396.6,134.3L399.2,133.8L401.9,133.5L404.6,133.5L407.3,133.8L410,134.1L412.7,134.6L415.4,135.3L418.1,136.1L420.8,137L423.4,138L426.1,139.1L428.8,140.3L431.5,141.7L434.2,143.2L436.9,144.6L439.6,146.1L442.2,147.9L444.9,149.9L447.6,151.7L450.3,153L453,153.5L453,170.3L450.3,170.3L447.6,170.2L444.9,170.1L442.2,169.9L439.6,169.7L436.9,169.5L434.2,169.2L431.5,169L428.8,168.7L426.1,168.4L423.4,168.1L420.8,167.8L418.1,167.5L415.4,167.3L412.7,167L410,166.8L407.3,166.6L404.6,166.3L401.9,166.1L399.2,165.8L396.6,165.6L393.9,165.3L391.2,165L388.5,164.8L385.8,164.5L383.1,164.3L380.4,164.1L377.8,163.9L375.1,163.8L372.4,163.7L369.7,163.6L367,163.6L364.3,163.6L361.6,163.7L358.9,163.8L356.2,163.9L353.6,164.1L350.9,164.3L348.2,164.5L345.5,164.8L342.8,165L340.1,165.3L337.4,165.6L334.8,165.8L332.1,166.1L329.4,166.3L326.7,166.6L324,166.8L321.3,167L318.6,167.3L315.9,167.5L313.2,167.8L310.6,168.1L307.9,168.4L305.2,168.7L302.5,169L299.8,169.2L297.1,169.5L294.4,169.7L291.8,169.9L289.1,170.1L286.4,170.2L283.7,170.3L281,170.3Z" fill="#fff"/><path d="M380.4,143.7L383.1,142.8L385.8,141.9L388.5,141.1L391.2,140.3L393.9,139.5L396.6,139L399.2,138.6L401.9,138.4L404.6,138.4L407.3,138.7L410,139L412.7,139.5L415.4,140.1L418.1,140.8L420.8,141.6L423.4,142.5L426.1,143.5L428.8,144.6L431.5,145.8" fill="none" stroke="#000" stroke-opacity="1" stroke-width="1.2" stroke-linecap="round"/><path d="M302.5,145.8L305.2,144.6L307.9,143.5L310.6,142.5L313.2,141.6L315.9,140.8L318.6,140.1L321.3,139.5L324,139L326.7,138.7L329.4,138.4L332.1,138.4L334.8,138.6L337.4,139L340.1,139.5L342.8,140.3L345.5,141.1L348.2,141.9L350.9,142.8L353.6,143.7" fill="none" stroke="#000" stroke-opacity="1" stroke-width="1.2" stroke-linecap="round"/><path d="M383.1,145.1L385.8,144.3L388.5,143.6L391.2,142.9L393.9,142.3L396.6,141.8L399.2,141.5L401.9,141.3L404.6,141.4L407.3,141.6L410,142L412.7,142.4L415.4,143L418.1,143.7L420.8,144.4L423.4,145.2L426.1,146.1L428.8,147.1L431.5,148.2" fill="none" stroke="#000" stroke-opacity="1" stroke-width="1.2" stroke-linecap="round"/><path d="M302.5,148.2L305.2,147.1L307.9,146.1L310.6,145.2L313.2,144.4L315.9,143.7L318.6,143L321.3,142.4L324,142L326.7,141.6L329.4,141.4L332.1,141.3L334.8,141.5L337.4,141.8L340.1,142.3L342.8,142.9L345.5,143.6L348.2,144.3L350.9,145.1" fill="none" stroke="#000" stroke-opacity="1" stroke-width="1.2" stroke-linecap="round"/><path d="M385.8,147L388.5,146.4L391.2,145.8L393.9,145.3L396.6,144.9L399.2,144.7L401.9,144.6L404.6,144.7L407.3,144.9L410,145.2L412.7,145.7L415.4,146.2L418.1,146.8L420.8,147.5L423.4,148.2L426.1,149L428.8,150L431.5,151" fill="none" stroke="#000" stroke-opacity="1" stroke-width="1.2" stroke-linecap="round"/><path d="M302.5,151L305.2,150L307.9,149L310.6,148.2L313.2,147.5L315.9,146.8L318.6,146.2L321.3,145.7L324,145.2L326.7,144.9L329.4,144.7L332.1,144.6L334.8,144.7L337.4,144.9L340.1,145.3L342.8,145.8L345.5,146.4L348.2,147" fill="none" stroke="#000" stroke-opacity="1" stroke-width="1.2" stroke-linecap="round"/><path d="M388.5,149.2L391.2,148.7L393.9,148.3L396.6,148.1L399.2,147.9L401.9,147.8L404.6,148L407.3,148.2L410,148.5L412.7,148.9L415.4,149.4L418.1,149.9L420.8,150.6L423.4,151.2L426.1,152L428.8,152.8L431.5,153.7" fill="none" stroke="#000" stroke-opacity="1" stroke-width="1.1" stroke-linecap="round"/><path d="M302.5,153.7L305.2,152.8L307.9,152L310.6,151.2L313.2,150.6L315.9,149.9L318.6,149.4L321.3,148.9L324,148.5L326.7,148.2L329.4,148L332.1,147.8L334.8,147.9L337.4,148.1L340.1,148.3L342.8,148.7L345.5,149.2" fill="none" stroke="#000" stroke-opacity="1" stroke-width="1.1" stroke-linecap="round"/><path d="M393.9,151.1L396.6,150.9L399.2,150.8L401.9,150.8L404.6,150.9L407.3,151.2L410,151.4L412.7,151.8L415.4,152.3L418.1,152.8L420.8,153.3L423.4,153.9L426.1,154.6L428.8,155.4" fill="none" stroke="#000" stroke-opacity="1" stroke-width="1.0" stroke-linecap="round"/><path d="M305.2,155.4L307.9,154.6L310.6,153.9L313.2,153.3L315.9,152.8L318.6,152.3L321.3,151.8L324,151.4L326.7,151.2L329.4,150.9L332.1,150.8L334.8,150.8L337.4,150.9L340.1,151.1" fill="none" stroke="#000" stroke-opacity="1" stroke-width="1.0" stroke-linecap="round"/></mask><mask id="mb2" maskUnits="userSpaceOnUse" x="281" y="23" width="172" height="330"><path d="M281,254.8L283.7,254.8L286.4,254.7L289.1,254.5L291.8,254.3L294.4,254.1L297.1,253.9L299.8,253.7L302.5,253.4L305.2,253.1L307.9,252.8L310.6,252.4L313.2,252L315.9,251.6L318.6,251.1L321.3,250.7L324,250.2L326.7,249.7L329.4,249.1L332.1,248.4L334.8,247.7L337.4,247.1L340.1,246.4L342.8,245.9L345.5,245.4L348.2,245L350.9,244.6L353.6,244.2L356.2,243.9L358.9,243.6L361.6,243.4L364.3,243.2L367,243.2L369.7,243.2L372.4,243.4L375.1,243.6L377.8,243.9L380.4,244.2L383.1,244.6L385.8,245L388.5,245.4L391.2,245.9L393.9,246.4L396.6,247.1L399.2,247.7L401.9,248.4L404.6,249.1L407.3,249.7L410,250.2L412.7,250.7L415.4,251.1L418.1,251.6L420.8,252L423.4,252.4L426.1,252.8L428.8,253.1L431.5,253.4L434.2,253.7L436.9,253.9L439.6,254.1L442.2,254.4L444.9,254.5L447.6,254.7L450.3,254.8L453,254.8L453,269L450.3,269.2L447.6,269.8L444.9,270.6L442.2,271.5L439.6,272.4L436.9,273.5L434.2,274.7L431.5,276L428.8,277.1L426.1,277.9L423.4,278.6L420.8,279.3L418.1,279.8L415.4,280.1L412.7,280.3L410,280.2L407.3,279.7L404.6,278.9L401.9,277.8L399.2,276.6L396.6,275.1L393.9,273.3L391.2,271.5L388.5,269.6L385.8,267.9L383.1,266.3L380.4,264.7L377.8,263.2L375.1,261.7L372.4,260.3L369.7,258.9L367,257.5L364.3,258.9L361.6,260.3L358.9,261.7L356.2,263.2L353.6,264.7L350.9,266.3L348.2,267.9L345.5,269.6L342.8,271.5L340.1,273.3L337.4,275.1L334.8,276.6L332.1,277.8L329.4,278.9L326.7,279.7L324,280.2L321.3,280.3L318.6,280.1L315.9,279.8L313.2,279.3L310.6,278.6L307.9,277.9L305.2,277.1L302.5,276L299.8,274.7L297.1,273.5L294.4,272.4L291.8,271.5L289.1,270.6L286.4,269.8L283.7,269.2L281,269Z" fill="#fff"/><path d="M393.9,259.9L396.6,261.1L399.2,262.2L401.9,263.1L404.6,264L407.3,264.7L410,265.2L412.7,265.5L415.4,265.6L418.1,265.7L420.8,265.6L423.4,265.5L426.1,265.4L428.8,265.1L431.5,264.7" fill="none" stroke="#000" stroke-opacity="1" stroke-width="0.7" stroke-linecap="round"/><path d="M302.5,264.7L305.2,265.1L307.9,265.4L310.6,265.5L313.2,265.6L315.9,265.7L318.6,265.6L321.3,265.5L324,265.2L326.7,264.7L329.4,264L332.1,263.1L334.8,262.2L337.4,261.1L340.1,259.9" fill="none" stroke="#000" stroke-opacity="1" stroke-width="0.7" stroke-linecap="round"/><path d="M391.2,261.2L393.9,262.6L396.6,263.9L399.2,265.1L401.9,266.1L404.6,266.9L407.3,267.7L410,268.2L412.7,268.4L415.4,268.5L418.1,268.5L420.8,268.4L423.4,268.2L426.1,267.9L428.8,267.5L431.5,266.9L434.2,266.3" fill="none" stroke="#000" stroke-opacity="1" stroke-width="0.8" stroke-linecap="round"/><path d="M299.8,266.3L302.5,266.9L305.2,267.5L307.9,267.9L310.6,268.2L313.2,268.4L315.9,268.5L318.6,268.5L321.3,268.4L324,268.2L326.7,267.7L329.4,266.9L332.1,266.1L334.8,265.1L337.4,263.9L340.1,262.6L342.8,261.2" fill="none" stroke="#000" stroke-opacity="1" stroke-width="0.8" stroke-linecap="round"/><path d="M388.5,262.1L391.2,263.5L393.9,265L396.6,266.4L399.2,267.6L401.9,268.7L404.6,269.6L407.3,270.4L410,270.9L412.7,271.1L415.4,271.1L418.1,271L420.8,270.8L423.4,270.5L426.1,270.1L428.8,269.6L431.5,269L434.2,268.2L436.9,267.4" fill="none" stroke="#000" stroke-opacity="1" stroke-width="0.9" stroke-linecap="round"/><path d="M297.1,267.4L299.8,268.2L302.5,269L305.2,269.6L307.9,270.1L310.6,270.5L313.2,270.8L315.9,271L318.6,271.1L321.3,271.1L324,270.9L326.7,270.4L329.4,269.6L332.1,268.7L334.8,267.6L337.4,266.4L340.1,265L342.8,263.5L345.5,262.1" fill="none" stroke="#000" stroke-opacity="1" stroke-width="0.9" stroke-linecap="round"/><path d="M388.5,264.3L391.2,265.9L393.9,267.4L396.6,268.9L399.2,270.2L401.9,271.4L404.6,272.3L407.3,273.1L410,273.6L412.7,273.8L415.4,273.7L418.1,273.6L420.8,273.3L423.4,272.9L426.1,272.4L428.8,271.8L431.5,271L434.2,270.1L436.9,269.2L439.6,268.4" fill="none" stroke="#000" stroke-opacity="1" stroke-width="0.9" stroke-linecap="round"/><path d="M294.4,268.4L297.1,269.2L299.8,270.1L302.5,271L305.2,271.8L307.9,272.4L310.6,272.9L313.2,273.3L315.9,273.6L318.6,273.7L321.3,273.8L324,273.6L326.7,273.1L329.4,272.3L332.1,271.4L334.8,270.2L337.4,268.9L340.1,267.4L342.8,265.9L345.5,264.3" fill="none" stroke="#000" stroke-opacity="1" stroke-width="0.9" stroke-linecap="round"/><path d="M385.8,264.7L388.5,266.2L391.2,267.9L393.9,269.6L396.6,271.1L399.2,272.6L401.9,273.7L404.6,274.7L407.3,275.5L410,276L412.7,276.1L415.4,276.1L418.1,275.8L420.8,275.4L423.4,275L426.1,274.4L428.8,273.7L431.5,272.8L434.2,271.8L436.9,270.7L439.6,269.8" fill="none" stroke="#000" stroke-opacity="1" stroke-width="0.8" stroke-linecap="round"/><path d="M294.4,269.8L297.1,270.7L299.8,271.8L302.5,272.8L305.2,273.7L307.9,274.4L310.6,275L313.2,275.4L315.9,275.8L318.6,276.1L321.3,276.1L324,276L326.7,275.5L329.4,274.7L332.1,273.7L334.8,272.6L337.4,271.1L340.1,269.6L342.8,267.9L345.5,266.2L348.2,264.7" fill="none" stroke="#000" stroke-opacity="1" stroke-width="0.8" stroke-linecap="round"/></mask><mask id="mb3" maskUnits="userSpaceOnUse" x="281" y="23" width="172" height="330"><path d="M281,316L283.7,315.9L286.4,315.6L289.1,315.1L291.8,314.6L294.4,314L297.1,313.3L299.8,312.5L302.5,311.7L305.2,310.8L307.9,310.1L310.6,309.4L313.2,308.6L315.9,307.9L318.6,307.2L321.3,306.7L324,306.3L326.7,306L329.4,305.8L332.1,305.6L334.8,305.4L337.4,305.3L340.1,305.3L342.8,305.3L345.5,305.4L348.2,305.4L350.9,305.5L353.6,305.6L356.2,305.6L358.9,305.7L361.6,305.8L364.3,305.8L367,305.8L369.7,305.8L372.4,305.8L375.1,305.7L377.8,305.6L380.4,305.6L383.1,305.5L385.8,305.4L388.5,305.4L391.2,305.3L393.9,305.3L396.6,305.3L399.2,305.4L401.9,305.6L404.6,305.8L407.3,306L410,306.3L412.7,306.7L415.4,307.2L418.1,307.9L420.8,308.6L423.4,309.4L426.1,310.1L428.8,310.8L431.5,311.7L434.2,312.5L436.9,313.3L439.6,314L442.2,314.6L444.9,315.1L447.6,315.6L450.3,315.9L453,316L453,340.7L450.3,340.7L447.6,340.6L444.9,340.5L442.2,340.3L439.6,340.1L436.9,339.9L434.2,339.7L431.5,339.4L428.8,339.1L426.1,338.8L423.4,338.5L420.8,338.2L418.1,337.9L415.4,337.6L412.7,337.2L410,336.8L407.3,336.4L404.6,336L401.9,335.6L399.2,335.2L396.6,334.9L393.9,334.6L391.2,334.4L388.5,334.2L385.8,334L383.1,333.8L380.4,333.6L377.8,333.5L375.1,333.4L372.4,333.3L369.7,333.2L367,333.2L364.3,333.2L361.6,333.3L358.9,333.4L356.2,333.5L353.6,333.6L350.9,333.8L348.2,334L345.5,334.2L342.8,334.4L340.1,334.6L337.4,334.9L334.8,335.2L332.1,335.6L329.4,336L326.7,336.4L324,336.8L321.3,337.2L318.6,337.6L315.9,337.9L313.2,338.2L310.6,338.5L307.9,338.8L305.2,339.1L302.5,339.4L299.8,339.7L297.1,339.9L294.4,340.1L291.8,340.3L289.1,340.5L286.4,340.6L283.7,340.7L281,340.7Z" fill="#fff"/><path d="M281,324.6L283.7,324.6L286.4,324.3L289.1,324L291.8,323.6L294.4,323.1L297.1,322.6L299.8,322L302.5,321.4L305.2,320.7L307.9,320.2L310.6,319.6L313.2,319L315.9,318.4L318.6,317.9L321.3,317.4L324,317L326.7,316.7L329.4,316.4L332.1,316.1L334.8,315.9L337.4,315.7L340.1,315.5L342.8,315.5L345.5,315.4L348.2,315.4L350.9,315.4L353.6,315.4L356.2,315.4L358.9,315.4L361.6,315.4L364.3,315.4L367,315.4L369.7,315.4L372.4,315.4L375.1,315.4L377.8,315.4L380.4,315.4L383.1,315.4L385.8,315.4L388.5,315.4L391.2,315.5L393.9,315.5L396.6,315.7L399.2,315.9L401.9,316.1L404.6,316.4L407.3,316.7L410,317L412.7,317.4L415.4,317.9L418.1,318.4L420.8,319L423.4,319.6L426.1,320.2L428.8,320.7L431.5,321.4L434.2,322L436.9,322.6L439.6,323.1L442.2,323.6L444.9,324L447.6,324.3L450.3,324.6L453,324.6" fill="none" stroke="#000" stroke-opacity="1" stroke-width="0.75" stroke-linecap="round"/><path d="M281,327.4L283.7,327.3L286.4,327.1L289.1,326.8L291.8,326.4L294.4,326L297.1,325.5L299.8,325L302.5,324.4L305.2,323.8L307.9,323.3L310.6,322.8L313.2,322.2L315.9,321.7L318.6,321.2L321.3,320.7L324,320.4L326.7,320L329.4,319.7L332.1,319.4L334.8,319.1L337.4,318.9L340.1,318.8L342.8,318.7L345.5,318.6L348.2,318.6L350.9,318.5L353.6,318.5L356.2,318.4L358.9,318.4L361.6,318.4L364.3,318.4L367,318.4L369.7,318.4L372.4,318.4L375.1,318.4L377.8,318.4L380.4,318.5L383.1,318.5L385.8,318.6L388.5,318.6L391.2,318.7L393.9,318.8L396.6,318.9L399.2,319.1L401.9,319.4L404.6,319.7L407.3,320L410,320.4L412.7,320.7L415.4,321.2L418.1,321.7L420.8,322.2L423.4,322.8L426.1,323.3L428.8,323.8L431.5,324.4L434.2,325L436.9,325.5L439.6,326L442.2,326.4L444.9,326.8L447.6,327.1L450.3,327.3L453,327.4" fill="none" stroke="#000" stroke-opacity="1" stroke-width="0.75" stroke-linecap="round"/><path d="M281,330.1L283.7,330L286.4,329.8L289.1,329.6L291.8,329.2L294.4,328.9L297.1,328.5L299.8,328L302.5,327.5L305.2,327L307.9,326.5L310.6,326L313.2,325.5L315.9,325L318.6,324.5L321.3,324.1L324,323.7L326.7,323.4L329.4,323L332.1,322.7L334.8,322.4L337.4,322.2L340.1,322L342.8,321.9L345.5,321.8L348.2,321.7L350.9,321.6L353.6,321.6L356.2,321.5L358.9,321.5L361.6,321.4L364.3,321.4L367,321.4L369.7,321.4L372.4,321.4L375.1,321.5L377.8,321.5L380.4,321.6L383.1,321.6L385.8,321.7L388.5,321.8L391.2,321.9L393.9,322L396.6,322.2L399.2,322.4L401.9,322.7L404.6,323L407.3,323.4L410,323.7L412.7,324.1L415.4,324.5L418.1,325L420.8,325.5L423.4,326L426.1,326.5L428.8,327L431.5,327.5L434.2,328L436.9,328.5L439.6,328.9L442.2,329.2L444.9,329.6L447.6,329.8L450.3,330L453,330.1" fill="none" stroke="#000" stroke-opacity="1" stroke-width="0.75" stroke-linecap="round"/><path d="M281,332.5L283.7,332.5L286.4,332.3L289.1,332.1L291.8,331.8L294.4,331.5L297.1,331.1L299.8,330.7L302.5,330.2L305.2,329.8L307.9,329.3L310.6,328.9L313.2,328.5L315.9,328L318.6,327.6L321.3,327.2L324,326.8L326.7,326.4L329.4,326L332.1,325.7L334.8,325.4L337.4,325.1L340.1,324.9L342.8,324.8L345.5,324.7L348.2,324.5L350.9,324.4L353.6,324.4L356.2,324.3L358.9,324.2L361.6,324.2L364.3,324.2L367,324.2L369.7,324.2L372.4,324.2L375.1,324.2L377.8,324.3L380.4,324.4L383.1,324.4L385.8,324.5L388.5,324.7L391.2,324.8L393.9,324.9L396.6,325.1L399.2,325.4L401.9,325.7L404.6,326L407.3,326.4L410,326.8L412.7,327.2L415.4,327.6L418.1,328L420.8,328.5L423.4,328.9L426.1,329.3L428.8,329.8L431.5,330.2L434.2,330.7L436.9,331.1L439.6,331.5L442.2,331.8L444.9,332.1L447.6,332.3L450.3,332.5L453,332.5" fill="none" stroke="#000" stroke-opacity="1" stroke-width="0.75" stroke-linecap="round"/><path d="M281,334.5L283.7,334.5L286.4,334.3L289.1,334.1L291.8,333.9L294.4,333.6L297.1,333.2L299.8,332.9L302.5,332.5L305.2,332L307.9,331.6L310.6,331.2L313.2,330.8L315.9,330.4L318.6,330L321.3,329.6L324,329.2L326.7,328.8L329.4,328.5L332.1,328.1L334.8,327.8L337.4,327.5L340.1,327.3L342.8,327.1L345.5,327L348.2,326.8L350.9,326.7L353.6,326.6L356.2,326.5L358.9,326.4L361.6,326.4L364.3,326.4L367,326.4L369.7,326.4L372.4,326.4L375.1,326.4L377.8,326.5L380.4,326.6L383.1,326.7L385.8,326.8L388.5,327L391.2,327.1L393.9,327.3L396.6,327.5L399.2,327.8L401.9,328.1L404.6,328.5L407.3,328.8L410,329.2L412.7,329.6L415.4,330L418.1,330.4L420.8,330.8L423.4,331.2L426.1,331.6L428.8,332L431.5,332.5L434.2,332.9L436.9,333.2L439.6,333.6L442.2,333.9L444.9,334.1L447.6,334.3L450.3,334.5L453,334.5" fill="none" stroke="#000" stroke-opacity="1" stroke-width="0.75" stroke-linecap="round"/></mask><clipPath id="cpc"><rect x="511" y="23" width="172.5" height="330"/></clipPath><linearGradient id="c0" x1="0" y1="0" x2="0" y2="1"><stop offset="0" stop-color="#090720"/><stop offset="0.036" stop-color="#0b0924"/><stop offset="0.055" stop-color="#2f1163"/><stop offset="0.064" stop-color="#51127c"/><stop offset="0.091" stop-color="#e55064"/><stop offset="0.1" stop-color="#fa7d5e"/><stop offset="0.118" stop-color="#feae77"/><stop offset="0.127" stop-color="#feb77e"/><stop offset="0.136" stop-color="#fe9f6d"/><stop offset="0.145" stop-color="#f7705c"/><stop offset="0.155" stop-color="#eb5760"/><stop offset="0.2" stop-color="#c73d73"/><stop offset="0.227" stop-color="#6b1d81"/><stop offset="0.255" stop-color="#400f74"/><stop offset="0.309" stop-color="#180f3d"/><stop offset="0.355" stop-color="#0e0b2b"/><stop offset="0.373" stop-color="#160f3b"/><stop offset="0.4" stop-color="#36106b"/><stop offset="0.427" stop-color="#3b0f70"/><stop offset="0.436" stop-color="#341069"/><stop offset="0.445" stop-color="#160f3b"/><stop offset="0.455" stop-color="#0e0b2b"/><stop offset="0.545" stop-color="#641a80"/><stop offset="0.636" stop-color="#681c81"/><stop offset="0.709" stop-color="#a1307e"/><stop offset="0.727" stop-color="#932b80"/><stop offset="0.782" stop-color="#2c115f"/><stop offset="0.818" stop-color="#090720"/><stop offset="0.891" stop-color="#0a0822"/><stop offset="0.918" stop-color="#160f3b"/><stop offset="0.945" stop-color="#59157e"/><stop offset="0.955" stop-color="#641a80"/><stop offset="0.991" stop-color="#5a167e"/><stop offset="1" stop-color="#51127c"/></linearGradient><linearGradient id="c1" x1="0" y1="0" x2="0" y2="1"><stop offset="0" stop-color="#090720"/><stop offset="0.036" stop-color="#0c0926"/><stop offset="0.045" stop-color="#1a1042"/><stop offset="0.064" stop-color="#5c167f"/><stop offset="0.082" stop-color="#bf3a77"/><stop offset="0.1" stop-color="#fd9266"/><stop offset="0.118" stop-color="#fecd90"/><stop offset="0.127" stop-color="#fed89a"/><stop offset="0.145" stop-color="#feb97f"/><stop offset="0.2" stop-color="#ec5860"/><stop offset="0.227" stop-color="#942c80"/><stop offset="0.255" stop-color="#56147d"/><stop offset="0.3" stop-color="#2a115c"/><stop offset="0.327" stop-color="#271258"/><stop offset="0.4" stop-color="#4f127b"/><stop offset="0.436" stop-color="#4c117a"/><stop offset="0.445" stop-color="#2f1163"/><stop offset="0.455" stop-color="#271258"/><stop offset="0.491" stop-color="#6b1d81"/><stop offset="0.527" stop-color="#812581"/><stop offset="0.555" stop-color="#902a81"/><stop offset="0.582" stop-color="#b5367a"/><stop offset="0.636" stop-color="#bc3978"/><stop offset="0.691" stop-color="#db476a"/><stop offset="0.727" stop-color="#d8456c"/><stop offset="0.745" stop-color="#c53c74"/><stop offset="0.773" stop-color="#641a80"/><stop offset="0.8" stop-color="#1e1149"/><stop offset="0.818" stop-color="#0a0822"/><stop offset="0.882" stop-color="#07061c"/><stop offset="0.918" stop-color="#160f3b"/><stop offset="0.945" stop-color="#59157e"/><stop offset="0.955" stop-color="#641a80"/><stop offset="1" stop-color="#5c167f"/></linearGradient><linearGradient id="c2" x1="0" y1="0" x2="0" y2="1"><stop offset="0" stop-color="#0b0924"/><stop offset="0.036" stop-color="#0e0b2b"/><stop offset="0.055" stop-color="#3b0f70"/><stop offset="0.073" stop-color="#842681"/><stop offset="0.1" stop-color="#fc8961"/><stop offset="0.118" stop-color="#fecc8f"/><stop offset="0.127" stop-color="#fed89a"/><stop offset="0.164" stop-color="#fec488"/><stop offset="0.2" stop-color="#f8745c"/><stop offset="0.227" stop-color="#b73779"/><stop offset="0.255" stop-color="#7c2382"/><stop offset="0.309" stop-color="#5d177f"/><stop offset="0.409" stop-color="#6b1d81"/><stop offset="0.491" stop-color="#d5446d"/><stop offset="0.5" stop-color="#e24d66"/><stop offset="0.555" stop-color="#df4a68"/><stop offset="0.582" stop-color="#f66e5c"/><stop offset="0.636" stop-color="#fb835f"/><stop offset="0.673" stop-color="#fe9f6d"/><stop offset="0.727" stop-color="#fd9869"/><stop offset="0.745" stop-color="#fb835f"/><stop offset="0.764" stop-color="#e44f64"/><stop offset="0.818" stop-color="#2a115c"/><stop offset="0.827" stop-color="#1a1042"/><stop offset="0.873" stop-color="#0e0b2b"/><stop offset="0.918" stop-color="#1d1147"/><stop offset="0.945" stop-color="#59157e"/><stop offset="0.955" stop-color="#641a80"/><stop offset="1" stop-color="#641a80"/></linearGradient><linearGradient id="c3" x1="0" y1="0" x2="0" y2="1"><stop offset="0" stop-color="#0e0b2b"/><stop offset="0.036" stop-color="#110c2f"/><stop offset="0.055" stop-color="#341069"/><stop offset="0.073" stop-color="#6e1e81"/><stop offset="0.1" stop-color="#e55064"/><stop offset="0.118" stop-color="#fc8e64"/><stop offset="0.127" stop-color="#fe9f6d"/><stop offset="0.155" stop-color="#fea973"/><stop offset="0.182" stop-color="#fb8761"/><stop offset="0.209" stop-color="#e44f64"/><stop offset="0.227" stop-color="#bf3a77"/><stop offset="0.264" stop-color="#9e2f7f"/><stop offset="0.318" stop-color="#8c2981"/><stop offset="0.409" stop-color="#a1307e"/><stop offset="0.427" stop-color="#c03a76"/><stop offset="0.455" stop-color="#f05f5e"/><stop offset="0.482" stop-color="#fb835f"/><stop offset="0.5" stop-color="#feb27a"/><stop offset="0.509" stop-color="#feb67c"/><stop offset="0.545" stop-color="#fc8961"/><stop offset="0.573" stop-color="#fd9a6a"/><stop offset="0.627" stop-color="#fea16e"/><stop offset="0.673" stop-color="#fde3a5"/><stop offset="0.727" stop-color="#fcf0b2"/><stop offset="0.745" stop-color="#fceeb0"/><stop offset="0.755" stop-color="#fed799"/><stop offset="0.8" stop-color="#c23b75"/><stop offset="0.818" stop-color="#6d1d81"/><stop offset="0.827" stop-color="#4f127b"/><stop offset="0.855" stop-color="#21114e"/><stop offset="0.873" stop-color="#1c1044"/><stop offset="0.945" stop-color="#6d1d81"/><stop offset="0.991" stop-color="#6a1c81"/><stop offset="1" stop-color="#641a80"/></linearGradient><linearGradient id="c4" x1="0" y1="0" x2="0" y2="1"><stop offset="0" stop-color="#1a1042"/><stop offset="0.036" stop-color="#1d1147"/><stop offset="0.082" stop-color="#641a80"/><stop offset="0.118" stop-color="#cd4071"/><stop offset="0.136" stop-color="#e75263"/><stop offset="0.164" stop-color="#ec5860"/><stop offset="0.2" stop-color="#e34e65"/><stop offset="0.236" stop-color="#c03a76"/><stop offset="0.309" stop-color="#ae347b"/><stop offset="0.364" stop-color="#b83779"/><stop offset="0.409" stop-color="#de4968"/><stop offset="0.445" stop-color="#fc8c63"/><stop offset="0.482" stop-color="#fea772"/><stop offset="0.491" stop-color="#feb77e"/><stop offset="0.5" stop-color="#fed395"/><stop offset="0.509" stop-color="#fed799"/><stop offset="0.527" stop-color="#feaa74"/><stop offset="0.545" stop-color="#f97b5d"/><stop offset="0.555" stop-color="#f97b5d"/><stop offset="0.582" stop-color="#fe9f6d"/><stop offset="0.627" stop-color="#fea36f"/><stop offset="0.664" stop-color="#fcf0b2"/><stop offset="0.682" stop-color="#fcfdbf"/><stop offset="0.745" stop-color="#fcfdbf"/><stop offset="0.755" stop-color="#fde7a9"/><stop offset="0.791" stop-color="#ea5661"/><stop offset="0.818" stop-color="#782281"/><stop offset="0.827" stop-color="#5a167e"/><stop offset="0.855" stop-color="#2d1161"/><stop offset="0.873" stop-color="#251255"/><stop offset="0.9" stop-color="#4f127b"/><stop offset="0.927" stop-color="#6d1d81"/><stop offset="0.964" stop-color="#782281"/><stop offset="1" stop-color="#641a80"/></linearGradient><linearGradient id="c5" x1="0" y1="0" x2="0" y2="1"><stop offset="0" stop-color="#3b0f70"/><stop offset="0.091" stop-color="#491078"/><stop offset="0.109" stop-color="#4e117b"/><stop offset="0.127" stop-color="#3b0f70"/><stop offset="0.136" stop-color="#5a167e"/><stop offset="0.145" stop-color="#8e2a81"/><stop offset="0.155" stop-color="#a1307e"/><stop offset="0.236" stop-color="#9b2e7f"/><stop offset="0.327" stop-color="#942c80"/><stop offset="0.373" stop-color="#ad347c"/><stop offset="0.418" stop-color="#e44f64"/><stop offset="0.436" stop-color="#f56b5c"/><stop offset="0.491" stop-color="#fea16e"/><stop offset="0.5" stop-color="#feb47b"/><stop offset="0.509" stop-color="#feb47b"/><stop offset="0.518" stop-color="#fd9a6a"/><stop offset="0.536" stop-color="#e34e65"/><stop offset="0.545" stop-color="#cf4070"/><stop offset="0.555" stop-color="#cd4071"/><stop offset="0.582" stop-color="#f66e5c"/><stop offset="0.618" stop-color="#ed5a5f"/><stop offset="0.627" stop-color="#f05f5e"/><stop offset="0.636" stop-color="#f97b5d"/><stop offset="0.655" stop-color="#feca8d"/><stop offset="0.682" stop-color="#fde9aa"/><stop offset="0.727" stop-color="#fcf4b6"/><stop offset="0.745" stop-color="#fcf2b4"/><stop offset="0.755" stop-color="#fddea0"/><stop offset="0.791" stop-color="#e44f64"/><stop offset="0.818" stop-color="#721f81"/><stop offset="0.827" stop-color="#57157e"/><stop offset="0.855" stop-color="#2d1161"/><stop offset="0.873" stop-color="#251255"/><stop offset="0.918" stop-color="#5f187f"/><stop offset="0.955" stop-color="#701f81"/><stop offset="1" stop-color="#641a80"/></linearGradient><linearGradient id="c6" x1="0" y1="0" x2="0" y2="1"><stop offset="0" stop-color="#51127c"/><stop offset="0.073" stop-color="#4c117a"/><stop offset="0.127" stop-color="#1a1042"/><stop offset="0.136" stop-color="#2c115f"/><stop offset="0.145" stop-color="#4f127b"/><stop offset="0.155" stop-color="#5d177f"/><stop offset="0.264" stop-color="#641a80"/><stop offset="0.327" stop-color="#651a80"/><stop offset="0.4" stop-color="#892881"/><stop offset="0.464" stop-color="#aa337d"/><stop offset="0.5" stop-color="#bd3977"/><stop offset="0.509" stop-color="#bc3978"/><stop offset="0.527" stop-color="#912b81"/><stop offset="0.545" stop-color="#671b80"/><stop offset="0.555" stop-color="#651a80"/><stop offset="0.582" stop-color="#8b2981"/><stop offset="0.618" stop-color="#792282"/><stop offset="0.627" stop-color="#7b2382"/><stop offset="0.636" stop-color="#912b81"/><stop offset="0.673" stop-color="#fc9065"/><stop offset="0.691" stop-color="#feae77"/><stop offset="0.736" stop-color="#feb77e"/><stop offset="0.745" stop-color="#feb67c"/><stop offset="0.755" stop-color="#fea571"/><stop offset="0.782" stop-color="#e04c67"/><stop offset="0.818" stop-color="#651a80"/><stop offset="0.855" stop-color="#1d1147"/><stop offset="0.873" stop-color="#140e36"/><stop offset="0.927" stop-color="#2f1163"/><stop offset="0.955" stop-color="#440f76"/><stop offset="0.991" stop-color="#390f6e"/><stop offset="1" stop-color="#331067"/></linearGradient><linearGradient id="c7" x1="0" y1="0" x2="0" y2="1"><stop offset="0" stop-color="#59157e"/><stop offset="0.082" stop-color="#5c167f"/><stop offset="0.1" stop-color="#882781"/><stop offset="0.127" stop-color="#a1307e"/><stop offset="0.145" stop-color="#842681"/><stop offset="0.182" stop-color="#471078"/><stop offset="0.2" stop-color="#3b0f70"/><stop offset="0.318" stop-color="#331067"/><stop offset="0.418" stop-color="#1a1042"/><stop offset="0.445" stop-color="#21114e"/><stop offset="0.482" stop-color="#3b0f70"/><stop offset="0.555" stop-color="#3b0f70"/><stop offset="0.591" stop-color="#51127c"/><stop offset="0.627" stop-color="#51127c"/><stop offset="0.655" stop-color="#732081"/><stop offset="0.664" stop-color="#8e2a81"/><stop offset="0.673" stop-color="#ba3878"/><stop offset="0.691" stop-color="#df4a68"/><stop offset="0.709" stop-color="#ed5a5f"/><stop offset="0.745" stop-color="#ec5860"/><stop offset="0.764" stop-color="#db476a"/><stop offset="0.791" stop-color="#9b2e7f"/><stop offset="0.827" stop-color="#390f6e"/><stop offset="0.855" stop-color="#140e36"/><stop offset="0.891" stop-color="#0e0b2b"/><stop offset="0.982" stop-color="#120d31"/><stop offset="1" stop-color="#0e0b2b"/></linearGradient><linearGradient id="c8" x1="0" y1="0" x2="0" y2="1"><stop offset="0" stop-color="#59157e"/><stop offset="0.073" stop-color="#5c167f"/><stop offset="0.082" stop-color="#641a80"/><stop offset="0.091" stop-color="#892881"/><stop offset="0.1" stop-color="#c03a76"/><stop offset="0.118" stop-color="#e85362"/><stop offset="0.127" stop-color="#ed5a5f"/><stop offset="0.136" stop-color="#e85362"/><stop offset="0.155" stop-color="#c53c74"/><stop offset="0.164" stop-color="#9c2e7f"/><stop offset="0.182" stop-color="#331067"/><stop offset="0.191" stop-color="#110c2f"/><stop offset="0.2" stop-color="#090720"/><stop offset="0.336" stop-color="#050416"/><stop offset="0.373" stop-color="#040414"/><stop offset="0.482" stop-color="#251255"/><stop offset="0.545" stop-color="#030312"/><stop offset="0.555" stop-color="#040414"/><stop offset="0.582" stop-color="#390f6e"/><stop offset="0.627" stop-color="#271258"/><stop offset="0.645" stop-color="#491078"/><stop offset="0.673" stop-color="#962c80"/><stop offset="0.691" stop-color="#ad347c"/><stop offset="0.718" stop-color="#b5367a"/><stop offset="0.755" stop-color="#912b81"/><stop offset="0.782" stop-color="#721f81"/><stop offset="0.809" stop-color="#5a167e"/><stop offset="0.836" stop-color="#221150"/><stop offset="0.864" stop-color="#0b0924"/><stop offset="0.982" stop-color="#03030f"/><stop offset="1" stop-color="#03030f"/></linearGradient><linearGradient id="c9" x1="0" y1="0" x2="0" y2="1"><stop offset="0" stop-color="#51127c"/><stop offset="0.073" stop-color="#54137d"/><stop offset="0.082" stop-color="#5c167f"/><stop offset="0.091" stop-color="#842681"/><stop offset="0.1" stop-color="#bf3a77"/><stop offset="0.118" stop-color="#e85362"/><stop offset="0.127" stop-color="#ed5a5f"/><stop offset="0.155" stop-color="#db476a"/><stop offset="0.164" stop-color="#b3367a"/><stop offset="0.182" stop-color="#331067"/><stop offset="0.191" stop-color="#0a0822"/><stop offset="0.2" stop-color="#03030f"/><stop offset="0.327" stop-color="#110c2f"/><stop offset="0.436" stop-color="#681c81"/><stop offset="0.455" stop-color="#782281"/><stop offset="0.509" stop-color="#762181"/><stop offset="0.545" stop-color="#3d0f71"/><stop offset="0.555" stop-color="#3d0f71"/><stop offset="0.582" stop-color="#641a80"/><stop offset="0.627" stop-color="#5f187f"/><stop offset="0.645" stop-color="#842681"/><stop offset="0.673" stop-color="#c43c75"/><stop offset="0.709" stop-color="#de4968"/><stop offset="0.773" stop-color="#b73779"/><stop offset="0.8" stop-color="#802582"/><stop offset="0.827" stop-color="#390f6e"/><stop offset="0.864" stop-color="#110c2f"/><stop offset="0.964" stop-color="#02020b"/><stop offset="1" stop-color="#02020b"/></linearGradient><linearGradient id="c10" x1="0" y1="0" x2="0" y2="1"><stop offset="0" stop-color="#331067"/><stop offset="0.064" stop-color="#3b0f70"/><stop offset="0.082" stop-color="#440f76"/><stop offset="0.091" stop-color="#651a80"/><stop offset="0.1" stop-color="#962c80"/><stop offset="0.118" stop-color="#c23b75"/><stop offset="0.127" stop-color="#ca3e72"/><stop offset="0.155" stop-color="#b2357b"/><stop offset="0.164" stop-color="#942c80"/><stop offset="0.182" stop-color="#3d0f71"/><stop offset="0.191" stop-color="#1c1044"/><stop offset="0.2" stop-color="#140e36"/><stop offset="0.282" stop-color="#221150"/><stop offset="0.327" stop-color="#4c117a"/><stop offset="0.373" stop-color="#8b2981"/><stop offset="0.409" stop-color="#b73779"/><stop offset="0.427" stop-color="#db476a"/><stop offset="0.509" stop-color="#e34e65"/><stop offset="0.545" stop-color="#a3307e"/><stop offset="0.564" stop-color="#a8327d"/><stop offset="0.591" stop-color="#b73779"/><stop offset="0.627" stop-color="#b83779"/><stop offset="0.645" stop-color="#e55064"/><stop offset="0.673" stop-color="#fd9869"/><stop offset="0.709" stop-color="#feb77e"/><stop offset="0.745" stop-color="#feb67c"/><stop offset="0.755" stop-color="#fea571"/><stop offset="0.8" stop-color="#ab337c"/><stop offset="0.827" stop-color="#4f127b"/><stop offset="0.855" stop-color="#1e1149"/><stop offset="0.891" stop-color="#110c2f"/><stop offset="1" stop-color="#0e0b2b"/></linearGradient><linearGradient id="c11" x1="0" y1="0" x2="0" y2="1"><stop offset="0" stop-color="#1a1042"/><stop offset="0.055" stop-color="#21114e"/><stop offset="0.082" stop-color="#331067"/><stop offset="0.1" stop-color="#59157e"/><stop offset="0.155" stop-color="#782281"/><stop offset="0.191" stop-color="#471078"/><stop offset="0.273" stop-color="#54137d"/><stop offset="0.336" stop-color="#7e2482"/><stop offset="0.455" stop-color="#f7725c"/><stop offset="0.491" stop-color="#fc9065"/><stop offset="0.5" stop-color="#fe9d6c"/><stop offset="0.509" stop-color="#fe9d6c"/><stop offset="0.545" stop-color="#ee5b5e"/><stop offset="0.564" stop-color="#f1605d"/><stop offset="0.591" stop-color="#f7705c"/><stop offset="0.627" stop-color="#f7725c"/><stop offset="0.645" stop-color="#feaa74"/><stop offset="0.673" stop-color="#fcf9bb"/><stop offset="0.745" stop-color="#fcfbbd"/><stop offset="0.755" stop-color="#fde5a7"/><stop offset="0.809" stop-color="#9c2e7f"/><stop offset="0.818" stop-color="#762181"/><stop offset="0.836" stop-color="#471078"/><stop offset="0.855" stop-color="#241253"/><stop offset="0.873" stop-color="#1a1042"/><stop offset="0.936" stop-color="#1e1149"/><stop offset="1" stop-color="#331067"/></linearGradient><linearGradient id="c12" x1="0" y1="0" x2="0" y2="1"><stop offset="0" stop-color="#0e0b2b"/><stop offset="0.036" stop-color="#100b2d"/><stop offset="0.109" stop-color="#54137d"/><stop offset="0.155" stop-color="#641a80"/><stop offset="0.209" stop-color="#59157e"/><stop offset="0.336" stop-color="#802582"/><stop offset="0.427" stop-color="#c53c74"/><stop offset="0.445" stop-color="#e44f64"/><stop offset="0.482" stop-color="#fd9467"/><stop offset="0.509" stop-color="#fe9f6d"/><stop offset="0.545" stop-color="#f7725c"/><stop offset="0.573" stop-color="#fa815f"/><stop offset="0.6" stop-color="#fb835f"/><stop offset="0.627" stop-color="#fa7d5e"/><stop offset="0.645" stop-color="#feb67c"/><stop offset="0.664" stop-color="#fde7a9"/><stop offset="0.673" stop-color="#fcf9bb"/><stop offset="0.745" stop-color="#fcfbbd"/><stop offset="0.755" stop-color="#fde5a7"/><stop offset="0.809" stop-color="#9c2e7f"/><stop offset="0.818" stop-color="#762181"/><stop offset="0.836" stop-color="#471078"/><stop offset="0.855" stop-color="#241253"/><stop offset="0.873" stop-color="#1a1042"/><stop offset="0.964" stop-color="#52137c"/><stop offset="1" stop-color="#59157e"/></linearGradient><linearGradient id="c13" x1="0" y1="0" x2="0" y2="1"><stop offset="0" stop-color="#0e0b2b"/><stop offset="0.036" stop-color="#100b2d"/><stop offset="0.064" stop-color="#331067"/><stop offset="0.091" stop-color="#6a1c81"/><stop offset="0.118" stop-color="#812581"/><stop offset="0.164" stop-color="#802582"/><stop offset="0.2" stop-color="#641a80"/><stop offset="0.355" stop-color="#701f81"/><stop offset="0.427" stop-color="#902a81"/><stop offset="0.482" stop-color="#dc4869"/><stop offset="0.509" stop-color="#e44f64"/><stop offset="0.555" stop-color="#df4a68"/><stop offset="0.582" stop-color="#f66e5c"/><stop offset="0.627" stop-color="#ee5b5e"/><stop offset="0.655" stop-color="#fd9a6a"/><stop offset="0.673" stop-color="#fec88c"/><stop offset="0.709" stop-color="#fed89a"/><stop offset="0.745" stop-color="#fecc8f"/><stop offset="0.755" stop-color="#feb67c"/><stop offset="0.818" stop-color="#6e1e81"/><stop offset="0.845" stop-color="#311165"/><stop offset="0.864" stop-color="#1c1044"/><stop offset="0.891" stop-color="#241253"/><stop offset="0.955" stop-color="#641a80"/><stop offset="0.991" stop-color="#5d177f"/><stop offset="1" stop-color="#59157e"/></linearGradient><linearGradient id="c14" x1="0" y1="0" x2="0" y2="1"><stop offset="0" stop-color="#140e36"/><stop offset="0.036" stop-color="#160f3b"/><stop offset="0.055" stop-color="#2d1161"/><stop offset="0.064" stop-color="#440f76"/><stop offset="0.082" stop-color="#8c2981"/><stop offset="0.1" stop-color="#ba3878"/><stop offset="0.127" stop-color="#ca3e72"/><stop offset="0.164" stop-color="#a8327d"/><stop offset="0.2" stop-color="#762181"/><stop offset="0.255" stop-color="#59157e"/><stop offset="0.364" stop-color="#51127c"/><stop offset="0.455" stop-color="#6e1e81"/><stop offset="0.491" stop-color="#902a81"/><stop offset="0.564" stop-color="#aa337d"/><stop offset="0.591" stop-color="#b73779"/><stop offset="0.627" stop-color="#b73779"/><stop offset="0.655" stop-color="#db476a"/><stop offset="0.682" stop-color="#fa7f5e"/><stop offset="0.709" stop-color="#fe9f6d"/><stop offset="0.745" stop-color="#fe9d6c"/><stop offset="0.755" stop-color="#fb8761"/><stop offset="0.8" stop-color="#8c2981"/><stop offset="0.836" stop-color="#3d0f71"/><stop offset="0.864" stop-color="#150e38"/><stop offset="0.882" stop-color="#180f3d"/><stop offset="0.955" stop-color="#641a80"/><stop offset="0.991" stop-color="#5d177f"/><stop offset="1" stop-color="#59157e"/></linearGradient><linearGradient id="c15" x1="0" y1="0" x2="0" y2="1"><stop offset="0" stop-color="#0e0b2b"/><stop offset="0.036" stop-color="#120d31"/><stop offset="0.055" stop-color="#3d0f71"/><stop offset="0.064" stop-color="#5c167f"/><stop offset="0.082" stop-color="#b73779"/><stop offset="0.1" stop-color="#ea5661"/><stop offset="0.127" stop-color="#f7705c"/><stop offset="0.155" stop-color="#eb5760"/><stop offset="0.2" stop-color="#9c2e7f"/><stop offset="0.236" stop-color="#57157e"/><stop offset="0.282" stop-color="#271258"/><stop offset="0.355" stop-color="#06051a"/><stop offset="0.382" stop-color="#110c2f"/><stop offset="0.427" stop-color="#2f1163"/><stop offset="0.518" stop-color="#5f187f"/><stop offset="0.555" stop-color="#671b80"/><stop offset="0.582" stop-color="#8b2981"/><stop offset="0.636" stop-color="#902a81"/><stop offset="0.664" stop-color="#ab337c"/><stop offset="0.7" stop-color="#f2625d"/><stop offset="0.709" stop-color="#f66e5c"/><stop offset="0.727" stop-color="#f1605d"/><stop offset="0.745" stop-color="#d8456c"/><stop offset="0.773" stop-color="#8c2981"/><stop offset="0.864" stop-color="#150e38"/><stop offset="0.891" stop-color="#1c1044"/><stop offset="0.927" stop-color="#420f75"/><stop offset="0.955" stop-color="#641a80"/><stop offset="0.991" stop-color="#5d177f"/><stop offset="1" stop-color="#59157e"/></linearGradient><linearGradient id="c16" x1="0" y1="0" x2="0" y2="1"><stop offset="0" stop-color="#0e0b2b"/><stop offset="0.036" stop-color="#120d31"/><stop offset="0.045" stop-color="#221150"/><stop offset="0.064" stop-color="#641a80"/><stop offset="0.082" stop-color="#bf3a77"/><stop offset="0.1" stop-color="#f2625d"/><stop offset="0.127" stop-color="#f7705c"/><stop offset="0.145" stop-color="#e85362"/><stop offset="0.2" stop-color="#9c2e7f"/><stop offset="0.255" stop-color="#1e1149"/><stop offset="0.309" stop-color="#0e0b2b"/><stop offset="0.336" stop-color="#150e38"/><stop offset="0.4" stop-color="#4e117b"/><stop offset="0.427" stop-color="#471078"/><stop offset="0.455" stop-color="#331067"/><stop offset="0.518" stop-color="#4c117a"/><stop offset="0.582" stop-color="#782281"/><stop offset="0.636" stop-color="#7c2382"/><stop offset="0.682" stop-color="#a5317e"/><stop offset="0.709" stop-color="#ca3e72"/><stop offset="0.727" stop-color="#bc3978"/><stop offset="0.773" stop-color="#641a80"/><stop offset="0.836" stop-color="#2f1163"/><stop offset="0.864" stop-color="#150e38"/><stop offset="0.891" stop-color="#1c1044"/><stop offset="0.927" stop-color="#420f75"/><stop offset="0.955" stop-color="#641a80"/><stop offset="0.991" stop-color="#5d177f"/><stop offset="1" stop-color="#59157e"/></linearGradient><mask id="mc0" maskUnits="userSpaceOnUse" x="511" y="23" width="172.5" height="330"><path d="M511,39.3L513.7,39.3L516.4,39.2L519.1,39.2L521.8,39.1L524.5,39L527.2,38.9L529.9,38.7L532.6,38.6L535.3,38.4L538,38.2L540.6,38L543.3,37.8L546,37.6L548.7,37.3L551.4,36.9L554.1,36.5L556.8,36L559.5,35.5L562.2,35L564.9,34.6L567.6,34.2L570.3,33.9L573,33.7L575.7,33.5L578.4,33.3L581.1,33.1L583.8,32.9L586.5,32.8L589.2,32.7L591.9,32.6L594.6,32.5L597.2,32.5L599.9,32.5L602.6,32.6L605.3,32.7L608,32.8L610.7,32.9L613.4,33.1L616.1,33.3L618.8,33.5L621.5,33.7L624.2,33.9L626.9,34.2L629.6,34.6L632.3,35L635,35.5L637.7,36L640.4,36.5L643.1,36.9L645.8,37.3L648.5,37.6L651.2,37.8L653.9,38L656.5,38.2L659.2,38.4L661.9,38.6L664.6,38.7L667.3,38.9L670,39L672.7,39.1L675.4,39.2L678.1,39.2L680.8,39.3L683.5,39.3L683.5,70.7L680.8,70.7L678.1,70.7L675.4,70.7L672.7,70.7L670,70.7L667.3,70.7L664.6,70.7L661.9,70.5L659.2,70.2L656.5,69.9L653.9,69.4L651.2,68.9L648.5,68.4L645.8,67.9L643.1,67.4L640.4,66.7L637.7,65.9L635,65.1L632.3,64.2L629.6,63.4L626.9,62.7L624.2,62.1L621.5,61.6L618.8,61.2L616.1,60.9L613.4,60.5L610.7,60.2L608,59.9L605.3,59.7L602.6,59.5L599.9,59.4L597.2,59.4L594.6,59.4L591.9,59.5L589.2,59.7L586.5,59.9L583.8,60.2L581.1,60.5L578.4,60.9L575.7,61.2L573,61.6L570.3,62.1L567.6,62.7L564.9,63.4L562.2,64.2L559.5,65.1L556.8,65.9L554.1,66.7L551.4,67.4L548.7,67.9L546,68.4L543.3,68.9L540.6,69.4L538,69.9L535.3,70.2L532.6,70.5L529.9,70.7L527.2,70.7L524.5,70.7L521.8,70.7L519.1,70.7L516.4,70.7L513.7,70.7L511,70.7Z" fill="#fff"/><path d="M511,45L513.7,44.9L516.4,44.9L519.1,44.9L521.8,44.8L524.5,44.7L527.2,44.6L529.9,44.5L532.6,44.3L535.3,44.1L538,43.9L540.6,43.6L543.3,43.4L546,43.1L548.7,42.8L551.4,42.4L554.1,41.9L556.8,41.4L559.5,40.8L562.2,40.3L564.9,39.8L567.6,39.3L570.3,39L573,38.7L575.7,38.5L578.4,38.2L581.1,38L583.8,37.8L586.5,37.7L589.2,37.5L591.9,37.4L594.6,37.4L597.2,37.3L599.9,37.4L602.6,37.4L605.3,37.5L608,37.7L610.7,37.8L613.4,38L616.1,38.2L618.8,38.5L621.5,38.7L624.2,39L626.9,39.3L629.6,39.8L632.3,40.3L635,40.8L637.7,41.4L640.4,41.9L643.1,42.4L645.8,42.8L648.5,43.1L651.2,43.4L653.9,43.6L656.5,43.9L659.2,44.1L661.9,44.3L664.6,44.5L667.3,44.6L670,44.7L672.7,44.8L675.4,44.9L678.1,44.9L680.8,44.9L683.5,45" fill="none" stroke="#000" stroke-opacity="0.7" stroke-width="0.65" stroke-linecap="round"/><path d="M511,47.8L513.7,47.8L516.4,47.7L519.1,47.7L521.8,47.6L524.5,47.5L527.2,47.5L529.9,47.3L532.6,47.2L535.3,47L538,46.7L540.6,46.5L543.3,46.2L546,45.9L548.7,45.5L551.4,45.1L554.1,44.6L556.8,44.1L559.5,43.5L562.2,42.9L564.9,42.4L567.6,41.9L570.3,41.5L573,41.2L575.7,41L578.4,40.7L581.1,40.5L583.8,40.3L586.5,40.1L589.2,40L591.9,39.9L594.6,39.8L597.2,39.8L599.9,39.8L602.6,39.9L605.3,40L608,40.1L610.7,40.3L613.4,40.5L616.1,40.7L618.8,41L621.5,41.2L624.2,41.5L626.9,41.9L629.6,42.4L632.3,42.9L635,43.5L637.7,44.1L640.4,44.6L643.1,45.1L645.8,45.5L648.5,45.9L651.2,46.2L653.9,46.5L656.5,46.7L659.2,47L661.9,47.2L664.6,47.3L667.3,47.5L670,47.5L672.7,47.6L675.4,47.7L678.1,47.7L680.8,47.8L683.5,47.8" fill="none" stroke="#000" stroke-opacity="0.7" stroke-width="0.65" stroke-linecap="round"/><path d="M511,50.9L513.7,50.9L516.4,50.9L519.1,50.8L521.8,50.8L524.5,50.7L527.2,50.6L529.9,50.5L532.6,50.4L535.3,50.2L538,49.9L540.6,49.6L543.3,49.3L546,49L548.7,48.6L551.4,48.2L554.1,47.6L556.8,47.1L559.5,46.4L562.2,45.8L564.9,45.3L567.6,44.7L570.3,44.3L573,44L575.7,43.7L578.4,43.5L581.1,43.2L583.8,43L586.5,42.8L589.2,42.7L591.9,42.5L594.6,42.5L597.2,42.5L599.9,42.5L602.6,42.5L605.3,42.7L608,42.8L610.7,43L613.4,43.2L616.1,43.5L618.8,43.7L621.5,44L624.2,44.3L626.9,44.7L629.6,45.3L632.3,45.8L635,46.4L637.7,47.1L640.4,47.6L643.1,48.2L645.8,48.6L648.5,49L651.2,49.3L653.9,49.6L656.5,49.9L659.2,50.2L661.9,50.4L664.6,50.5L667.3,50.6L670,50.7L672.7,50.8L675.4,50.8L678.1,50.9L680.8,50.9L683.5,50.9" fill="none" stroke="#000" stroke-opacity="0.7" stroke-width="0.65" stroke-linecap="round"/><path d="M511,54.1L513.7,54.1L516.4,54L519.1,54L521.8,53.9L524.5,53.9L527.2,53.8L529.9,53.7L532.6,53.6L535.3,53.4L538,53.1L540.6,52.8L543.3,52.4L546,52.1L548.7,51.7L551.4,51.2L554.1,50.7L556.8,50.1L559.5,49.4L562.2,48.8L564.9,48.1L567.6,47.6L570.3,47.1L573,46.8L575.7,46.5L578.4,46.2L581.1,46L583.8,45.7L586.5,45.5L589.2,45.4L591.9,45.2L594.6,45.2L597.2,45.1L599.9,45.2L602.6,45.2L605.3,45.4L608,45.5L610.7,45.7L613.4,46L616.1,46.2L618.8,46.5L621.5,46.8L624.2,47.1L626.9,47.6L629.6,48.1L632.3,48.8L635,49.4L637.7,50.1L640.4,50.7L643.1,51.2L645.8,51.7L648.5,52.1L651.2,52.4L653.9,52.8L656.5,53.1L659.2,53.4L661.9,53.6L664.6,53.7L667.3,53.8L670,53.9L672.7,53.9L675.4,54L678.1,54L680.8,54.1L683.5,54.1" fill="none" stroke="#000" stroke-opacity="0.7" stroke-width="0.65" stroke-linecap="round"/><path d="M511,57.2L513.7,57.2L516.4,57.2L519.1,57.1L521.8,57.1L524.5,57.1L527.2,57L529.9,56.9L532.6,56.8L535.3,56.5L538,56.2L540.6,55.9L543.3,55.5L546,55.1L548.7,54.7L551.4,54.3L554.1,53.7L556.8,53L559.5,52.4L562.2,51.7L564.9,51L567.6,50.4L570.3,50L573,49.6L575.7,49.3L578.4,49L581.1,48.7L583.8,48.5L586.5,48.2L589.2,48.1L591.9,47.9L594.6,47.9L597.2,47.8L599.9,47.9L602.6,47.9L605.3,48.1L608,48.2L610.7,48.5L613.4,48.7L616.1,49L618.8,49.3L621.5,49.6L624.2,50L626.9,50.4L629.6,51L632.3,51.7L635,52.4L637.7,53L640.4,53.7L643.1,54.3L645.8,54.7L648.5,55.1L651.2,55.5L653.9,55.9L656.5,56.2L659.2,56.5L661.9,56.8L664.6,56.9L667.3,57L670,57.1L672.7,57.1L675.4,57.1L678.1,57.2L680.8,57.2L683.5,57.2" fill="none" stroke="#000" stroke-opacity="0.7" stroke-width="0.65" stroke-linecap="round"/><path d="M511,60L513.7,60L516.4,60L519.1,60L521.8,60L524.5,59.9L527.2,59.9L529.9,59.8L532.6,59.6L535.3,59.4L538,59.1L540.6,58.7L543.3,58.3L546,57.9L548.7,57.5L551.4,57L554.1,56.4L556.8,55.7L559.5,55L562.2,54.3L564.9,53.6L567.6,53L570.3,52.5L573,52.1L575.7,51.8L578.4,51.5L581.1,51.2L583.8,50.9L586.5,50.7L589.2,50.5L591.9,50.4L594.6,50.3L597.2,50.3L599.9,50.3L602.6,50.4L605.3,50.5L608,50.7L610.7,50.9L613.4,51.2L616.1,51.5L618.8,51.8L621.5,52.1L624.2,52.5L626.9,53L629.6,53.6L632.3,54.3L635,55L637.7,55.7L640.4,56.4L643.1,57L645.8,57.5L648.5,57.9L651.2,58.3L653.9,58.7L656.5,59.1L659.2,59.4L661.9,59.6L664.6,59.8L667.3,59.9L670,59.9L672.7,60L675.4,60L678.1,60L680.8,60L683.5,60" fill="none" stroke="#000" stroke-opacity="0.7" stroke-width="0.65" stroke-linecap="round"/><path d="M511,62.5L513.7,62.5L516.4,62.5L519.1,62.5L521.8,62.5L524.5,62.5L527.2,62.4L529.9,62.4L532.6,62.2L535.3,62L538,61.6L540.6,61.3L543.3,60.8L546,60.4L548.7,59.9L551.4,59.4L554.1,58.8L556.8,58.1L559.5,57.4L562.2,56.6L564.9,55.9L567.6,55.3L570.3,54.8L573,54.4L575.7,54L578.4,53.7L581.1,53.4L583.8,53.1L586.5,52.9L589.2,52.7L591.9,52.5L594.6,52.4L597.2,52.4L599.9,52.4L602.6,52.5L605.3,52.7L608,52.9L610.7,53.1L613.4,53.4L616.1,53.7L618.8,54L621.5,54.4L624.2,54.8L626.9,55.3L629.6,55.9L632.3,56.6L635,57.4L637.7,58.1L640.4,58.8L643.1,59.4L645.8,59.9L648.5,60.4L651.2,60.8L653.9,61.3L656.5,61.6L659.2,62L661.9,62.2L664.6,62.4L667.3,62.4L670,62.5L672.7,62.5L675.4,62.5L678.1,62.5L680.8,62.5L683.5,62.5" fill="none" stroke="#000" stroke-opacity="0.7" stroke-width="0.65" stroke-linecap="round"/></mask><mask id="mc1" maskUnits="userSpaceOnUse" x="511" y="23" width="172.5" height="330"><path d="M511,302L513.7,301.9L516.4,301.7L519.1,301.4L521.8,301L524.5,300.5L527.2,300L529.9,299.4L532.6,298.9L535.3,298.5L538,298L540.6,297.6L543.3,297.2L546,296.7L548.7,296.2L551.4,295.8L554.1,295.4L556.8,295L559.5,294.7L562.2,294.4L564.9,294.3L567.6,294.1L570.3,293.9L573,293.8L575.7,293.7L578.4,293.6L581.1,293.5L583.8,293.4L586.5,293.3L589.2,293.3L591.9,293.2L594.6,293.2L597.2,293.2L599.9,293.2L602.6,293.2L605.3,293.3L608,293.3L610.7,293.4L613.4,293.5L616.1,293.6L618.8,293.7L621.5,293.8L624.2,293.9L626.9,294.1L629.6,294.3L632.3,294.4L635,294.7L637.7,295L640.4,295.4L643.1,295.8L645.8,296.2L648.5,296.7L651.2,297.2L653.9,297.6L656.5,298L659.2,298.5L661.9,298.9L664.6,299.4L667.3,300L670,300.5L672.7,301L675.4,301.4L678.1,301.7L680.8,301.9L683.5,302L683.5,333.4L680.8,333.4L678.1,333.2L675.4,333.1L672.7,332.8L670,332.5L667.3,332.2L664.6,331.8L661.9,331.5L659.2,331.1L656.5,330.7L653.9,330.3L651.2,329.8L648.5,329.3L645.8,328.7L643.1,328.1L640.4,327.6L637.7,327.1L635,326.7L632.3,326.4L629.6,326.1L626.9,325.9L624.2,325.7L621.5,325.5L618.8,325.3L616.1,325.2L613.4,325L610.7,324.9L608,324.8L605.3,324.7L602.6,324.6L599.9,324.6L597.2,324.6L594.6,324.6L591.9,324.6L589.2,324.7L586.5,324.8L583.8,324.9L581.1,325L578.4,325.2L575.7,325.3L573,325.5L570.3,325.7L567.6,325.9L564.9,326.1L562.2,326.4L559.5,326.7L556.8,327.1L554.1,327.6L551.4,328.1L548.7,328.7L546,329.3L543.3,329.8L540.6,330.3L538,330.7L535.3,331.1L532.6,331.5L529.9,331.8L527.2,332.2L524.5,332.5L521.8,332.8L519.1,333.1L516.4,333.2L513.7,333.4L511,333.4Z" fill="#fff"/><path d="M511,310.5L513.7,310.4L516.4,310.2L519.1,309.9L521.8,309.6L524.5,309.1L527.2,308.7L529.9,308.2L532.6,307.7L535.3,307.3L538,306.9L540.6,306.4L543.3,306L546,305.5L548.7,305L551.4,304.5L554.1,304.1L556.8,303.7L559.5,303.3L562.2,303.1L564.9,302.9L567.6,302.7L570.3,302.5L573,302.3L575.7,302.2L578.4,302.1L581.1,302L583.8,301.9L586.5,301.8L589.2,301.8L591.9,301.7L594.6,301.7L597.2,301.7L599.9,301.7L602.6,301.7L605.3,301.8L608,301.8L610.7,301.9L613.4,302L616.1,302.1L618.8,302.2L621.5,302.3L624.2,302.5L626.9,302.7L629.6,302.9L632.3,303.1L635,303.3L637.7,303.7L640.4,304.1L643.1,304.5L645.8,305L648.5,305.5L651.2,306L653.9,306.4L656.5,306.9L659.2,307.3L661.9,307.7L664.6,308.2L667.3,308.7L670,309.1L672.7,309.6L675.4,309.9L678.1,310.2L680.8,310.4L683.5,310.5" fill="none" stroke="#000" stroke-opacity="0.9" stroke-width="1.1" stroke-linecap="round"/><path d="M511,313.9L513.7,313.9L516.4,313.7L519.1,313.4L521.8,313.1L524.5,312.7L527.2,312.2L529.9,311.7L532.6,311.3L535.3,310.9L538,310.5L540.6,310L543.3,309.6L546,309.1L548.7,308.6L551.4,308.1L554.1,307.6L556.8,307.2L559.5,306.8L562.2,306.6L564.9,306.4L567.6,306.2L570.3,306L573,305.8L575.7,305.7L578.4,305.6L581.1,305.4L583.8,305.4L586.5,305.3L589.2,305.2L591.9,305.2L594.6,305.1L597.2,305.1L599.9,305.1L602.6,305.2L605.3,305.2L608,305.3L610.7,305.4L613.4,305.4L616.1,305.6L618.8,305.7L621.5,305.8L624.2,306L626.9,306.2L629.6,306.4L632.3,306.6L635,306.8L637.7,307.2L640.4,307.6L643.1,308.1L645.8,308.6L648.5,309.1L651.2,309.6L653.9,310L656.5,310.5L659.2,310.9L661.9,311.3L664.6,311.7L667.3,312.2L670,312.7L672.7,313.1L675.4,313.4L678.1,313.7L680.8,313.9L683.5,313.9" fill="none" stroke="#000" stroke-opacity="0.9" stroke-width="1.1" stroke-linecap="round"/><path d="M511,317.1L513.7,317L516.4,316.8L519.1,316.6L521.8,316.2L524.5,315.9L527.2,315.4L529.9,315L532.6,314.6L535.3,314.1L538,313.7L540.6,313.3L543.3,312.8L546,312.3L548.7,311.8L551.4,311.3L554.1,310.8L556.8,310.4L559.5,310L562.2,309.8L564.9,309.5L567.6,309.3L570.3,309.2L573,309L575.7,308.9L578.4,308.7L581.1,308.6L583.8,308.5L586.5,308.4L589.2,308.4L591.9,308.3L594.6,308.3L597.2,308.3L599.9,308.3L602.6,308.3L605.3,308.4L608,308.4L610.7,308.5L613.4,308.6L616.1,308.7L618.8,308.9L621.5,309L624.2,309.2L626.9,309.3L629.6,309.5L632.3,309.8L635,310L637.7,310.4L640.4,310.8L643.1,311.3L645.8,311.8L648.5,312.3L651.2,312.8L653.9,313.3L656.5,313.7L659.2,314.1L661.9,314.6L664.6,315L667.3,315.4L670,315.9L672.7,316.2L675.4,316.6L678.1,316.8L680.8,317L683.5,317.1" fill="none" stroke="#000" stroke-opacity="0.9" stroke-width="1.1" stroke-linecap="round"/><path d="M511,320.5L513.7,320.5L516.4,320.3L519.1,320.1L521.8,319.7L524.5,319.4L527.2,319L529.9,318.6L532.6,318.1L535.3,317.7L538,317.3L540.6,316.9L543.3,316.4L546,315.9L548.7,315.4L551.4,314.9L554.1,314.4L556.8,313.9L559.5,313.6L562.2,313.3L564.9,313L567.6,312.8L570.3,312.7L573,312.5L575.7,312.3L578.4,312.2L581.1,312.1L583.8,312L586.5,311.9L589.2,311.8L591.9,311.8L594.6,311.7L597.2,311.7L599.9,311.7L602.6,311.8L605.3,311.8L608,311.9L610.7,312L613.4,312.1L616.1,312.2L618.8,312.3L621.5,312.5L624.2,312.7L626.9,312.8L629.6,313L632.3,313.3L635,313.6L637.7,313.9L640.4,314.4L643.1,314.9L645.8,315.4L648.5,315.9L651.2,316.4L653.9,316.9L656.5,317.3L659.2,317.7L661.9,318.1L664.6,318.6L667.3,319L670,319.4L672.7,319.7L675.4,320.1L678.1,320.3L680.8,320.5L683.5,320.5" fill="none" stroke="#000" stroke-opacity="0.9" stroke-width="1.1" stroke-linecap="round"/><path d="M511,323.4L513.7,323.3L516.4,323.1L519.1,322.9L521.8,322.6L524.5,322.3L527.2,321.9L529.9,321.5L532.6,321.1L535.3,320.7L538,320.3L540.6,319.8L543.3,319.4L546,318.8L548.7,318.3L551.4,317.8L554.1,317.3L556.8,316.8L559.5,316.4L562.2,316.1L564.9,315.9L567.6,315.7L570.3,315.5L573,315.3L575.7,315.2L578.4,315L581.1,314.9L583.8,314.8L586.5,314.7L589.2,314.6L591.9,314.6L594.6,314.6L597.2,314.6L599.9,314.6L602.6,314.6L605.3,314.6L608,314.7L610.7,314.8L613.4,314.9L616.1,315L618.8,315.2L621.5,315.3L624.2,315.5L626.9,315.7L629.6,315.9L632.3,316.1L635,316.4L637.7,316.8L640.4,317.3L643.1,317.8L645.8,318.3L648.5,318.8L651.2,319.4L653.9,319.8L656.5,320.3L659.2,320.7L661.9,321.1L664.6,321.5L667.3,321.9L670,322.3L672.7,322.6L675.4,322.9L678.1,323.1L680.8,323.3L683.5,323.4" fill="none" stroke="#000" stroke-opacity="0.9" stroke-width="1.1" stroke-linecap="round"/><path d="M511,326.8L513.7,326.8L516.4,326.6L519.1,326.4L521.8,326.1L524.5,325.8L527.2,325.4L529.9,325L532.6,324.6L535.3,324.3L538,323.9L540.6,323.4L543.3,323L546,322.4L548.7,321.9L551.4,321.3L554.1,320.8L556.8,320.4L559.5,320L562.2,319.6L564.9,319.4L567.6,319.2L570.3,319L573,318.8L575.7,318.7L578.4,318.5L581.1,318.4L583.8,318.3L586.5,318.2L589.2,318.1L591.9,318L594.6,318L597.2,318L599.9,318L602.6,318L605.3,318.1L608,318.2L610.7,318.3L613.4,318.4L616.1,318.5L618.8,318.7L621.5,318.8L624.2,319L626.9,319.2L629.6,319.4L632.3,319.6L635,320L637.7,320.4L640.4,320.8L643.1,321.3L645.8,321.9L648.5,322.4L651.2,323L653.9,323.4L656.5,323.9L659.2,324.3L661.9,324.6L664.6,325L667.3,325.4L670,325.8L672.7,326.1L675.4,326.4L678.1,326.6L680.8,326.8L683.5,326.8" fill="none" stroke="#000" stroke-opacity="0.9" stroke-width="1.1" stroke-linecap="round"/></mask><clipPath id="cpd"><rect x="50" y="411.5" width="172.5" height="329"/></clipPath><linearGradient id="d0" x1="0" y1="0" x2="0" y2="1"><stop offset="0" stop-color="#36106b"/><stop offset="0.091" stop-color="#2d1161"/><stop offset="0.146" stop-color="#180f3d"/><stop offset="0.173" stop-color="#0e0b2b"/><stop offset="0.219" stop-color="#19103f"/><stop offset="0.228" stop-color="#21114e"/><stop offset="0.246" stop-color="#57157e"/><stop offset="0.283" stop-color="#902a81"/><stop offset="0.301" stop-color="#e44f64"/><stop offset="0.31" stop-color="#f66c5c"/><stop offset="0.337" stop-color="#f9795d"/><stop offset="0.392" stop-color="#f4695c"/><stop offset="0.438" stop-color="#d8456c"/><stop offset="0.502" stop-color="#6e1e81"/><stop offset="0.538" stop-color="#4c117a"/><stop offset="0.584" stop-color="#3b0f70"/><stop offset="0.629" stop-color="#4f127b"/><stop offset="0.675" stop-color="#7c2382"/><stop offset="0.702" stop-color="#ad347c"/><stop offset="0.729" stop-color="#ea5661"/><stop offset="0.748" stop-color="#f4695c"/><stop offset="0.812" stop-color="#f9795d"/><stop offset="0.839" stop-color="#f7705c"/><stop offset="0.848" stop-color="#ee5b5e"/><stop offset="0.857" stop-color="#d6456c"/><stop offset="0.884" stop-color="#a1307e"/><stop offset="0.921" stop-color="#892881"/><stop offset="1" stop-color="#842681"/></linearGradient><linearGradient id="d1" x1="0" y1="0" x2="0" y2="1"><stop offset="0" stop-color="#36106b"/><stop offset="0.082" stop-color="#2d1161"/><stop offset="0.146" stop-color="#110c2f"/><stop offset="0.173" stop-color="#06051a"/><stop offset="0.228" stop-color="#110c2f"/><stop offset="0.283" stop-color="#892881"/><stop offset="0.301" stop-color="#dc4869"/><stop offset="0.31" stop-color="#f2645c"/><stop offset="0.328" stop-color="#f9795d"/><stop offset="0.392" stop-color="#f4695c"/><stop offset="0.447" stop-color="#cc3f71"/><stop offset="0.52" stop-color="#5a167e"/><stop offset="0.574" stop-color="#3b0f70"/><stop offset="0.611" stop-color="#440f76"/><stop offset="0.666" stop-color="#701f81"/><stop offset="0.702" stop-color="#ad347c"/><stop offset="0.729" stop-color="#ea5661"/><stop offset="0.748" stop-color="#f4695c"/><stop offset="0.821" stop-color="#f66e5c"/><stop offset="0.839" stop-color="#f4675c"/><stop offset="0.848" stop-color="#e44f64"/><stop offset="0.857" stop-color="#c23b75"/><stop offset="0.875" stop-color="#a5317e"/><stop offset="0.93" stop-color="#862781"/><stop offset="1" stop-color="#842681"/></linearGradient><linearGradient id="d2" x1="0" y1="0" x2="0" y2="1"><stop offset="0" stop-color="#36106b"/><stop offset="0.073" stop-color="#311165"/><stop offset="0.137" stop-color="#120d31"/><stop offset="0.173" stop-color="#03030f"/><stop offset="0.21" stop-color="#08071e"/><stop offset="0.237" stop-color="#0b0924"/><stop offset="0.255" stop-color="#1e1149"/><stop offset="0.283" stop-color="#701f81"/><stop offset="0.319" stop-color="#ef5d5e"/><stop offset="0.328" stop-color="#f7725c"/><stop offset="0.374" stop-color="#f9795d"/><stop offset="0.401" stop-color="#f66c5c"/><stop offset="0.465" stop-color="#bf3a77"/><stop offset="0.529" stop-color="#5a167e"/><stop offset="0.574" stop-color="#3d0f71"/><stop offset="0.611" stop-color="#420f75"/><stop offset="0.657" stop-color="#671b80"/><stop offset="0.729" stop-color="#e75263"/><stop offset="0.748" stop-color="#ed5a5f"/><stop offset="0.83" stop-color="#e04c67"/><stop offset="0.839" stop-color="#de4968"/><stop offset="0.848" stop-color="#ca3e72"/><stop offset="0.857" stop-color="#aa337d"/><stop offset="0.875" stop-color="#9b2e7f"/><stop offset="0.976" stop-color="#802582"/><stop offset="1" stop-color="#802582"/></linearGradient><linearGradient id="d3" x1="0" y1="0" x2="0" y2="1"><stop offset="0" stop-color="#331067"/><stop offset="0.082" stop-color="#2a115c"/><stop offset="0.137" stop-color="#110c2f"/><stop offset="0.173" stop-color="#02020b"/><stop offset="0.201" stop-color="#0e0b2b"/><stop offset="0.228" stop-color="#050416"/><stop offset="0.246" stop-color="#08071e"/><stop offset="0.264" stop-color="#221150"/><stop offset="0.31" stop-color="#9b2e7f"/><stop offset="0.328" stop-color="#f05f5e"/><stop offset="0.337" stop-color="#f9785d"/><stop offset="0.392" stop-color="#f8765c"/><stop offset="0.465" stop-color="#d6456c"/><stop offset="0.502" stop-color="#a3307e"/><stop offset="0.529" stop-color="#732081"/><stop offset="0.574" stop-color="#52137c"/><stop offset="0.611" stop-color="#57157e"/><stop offset="0.666" stop-color="#882781"/><stop offset="0.711" stop-color="#c83e73"/><stop offset="0.739" stop-color="#de4968"/><stop offset="0.784" stop-color="#cc3f71"/><stop offset="0.83" stop-color="#b83779"/><stop offset="0.848" stop-color="#aa337d"/><stop offset="0.857" stop-color="#982d80"/><stop offset="0.994" stop-color="#802582"/><stop offset="1" stop-color="#802582"/></linearGradient><linearGradient id="d4" x1="0" y1="0" x2="0" y2="1"><stop offset="0" stop-color="#2d1161"/><stop offset="0.091" stop-color="#251255"/><stop offset="0.173" stop-color="#0e0b2b"/><stop offset="0.201" stop-color="#1a1042"/><stop offset="0.228" stop-color="#060518"/><stop offset="0.246" stop-color="#050416"/><stop offset="0.264" stop-color="#150e38"/><stop offset="0.31" stop-color="#601880"/><stop offset="0.319" stop-color="#932b80"/><stop offset="0.328" stop-color="#d2426f"/><stop offset="0.337" stop-color="#f05f5e"/><stop offset="0.365" stop-color="#fb835f"/><stop offset="0.41" stop-color="#fa815f"/><stop offset="0.465" stop-color="#f2625d"/><stop offset="0.502" stop-color="#d0416f"/><stop offset="0.538" stop-color="#992d80"/><stop offset="0.574" stop-color="#7b2382"/><stop offset="0.611" stop-color="#7e2482"/><stop offset="0.702" stop-color="#b0357b"/><stop offset="0.757" stop-color="#b2357b"/><stop offset="0.866" stop-color="#8c2981"/><stop offset="1" stop-color="#802582"/></linearGradient><linearGradient id="d5" x1="0" y1="0" x2="0" y2="1"><stop offset="0" stop-color="#29115a"/><stop offset="0.137" stop-color="#2f1163"/><stop offset="0.182" stop-color="#29115a"/><stop offset="0.201" stop-color="#331067"/><stop offset="0.21" stop-color="#251255"/><stop offset="0.219" stop-color="#130d34"/><stop offset="0.237" stop-color="#07061c"/><stop offset="0.264" stop-color="#0e0b2b"/><stop offset="0.31" stop-color="#2f1163"/><stop offset="0.319" stop-color="#5d177f"/><stop offset="0.328" stop-color="#9b2e7f"/><stop offset="0.365" stop-color="#fd9869"/><stop offset="0.374" stop-color="#feb27a"/><stop offset="0.429" stop-color="#fec68a"/><stop offset="0.456" stop-color="#feb47b"/><stop offset="0.511" stop-color="#ee5b5e"/><stop offset="0.547" stop-color="#c73d73"/><stop offset="0.584" stop-color="#ad347c"/><stop offset="0.693" stop-color="#b5367a"/><stop offset="0.766" stop-color="#8c2981"/><stop offset="0.848" stop-color="#842681"/><stop offset="1" stop-color="#802582"/></linearGradient><linearGradient id="d6" x1="0" y1="0" x2="0" y2="1"><stop offset="0" stop-color="#251255"/><stop offset="0.064" stop-color="#2a115c"/><stop offset="0.119" stop-color="#440f76"/><stop offset="0.191" stop-color="#491078"/><stop offset="0.201" stop-color="#4c117a"/><stop offset="0.21" stop-color="#420f75"/><stop offset="0.237" stop-color="#120d31"/><stop offset="0.274" stop-color="#130d34"/><stop offset="0.31" stop-color="#1a1042"/><stop offset="0.319" stop-color="#440f76"/><stop offset="0.328" stop-color="#7e2482"/><stop offset="0.337" stop-color="#982d80"/><stop offset="0.347" stop-color="#bd3977"/><stop offset="0.365" stop-color="#fe9d6c"/><stop offset="0.374" stop-color="#fecd90"/><stop offset="0.401" stop-color="#fcf0b2"/><stop offset="0.438" stop-color="#fcfdbf"/><stop offset="0.474" stop-color="#fed799"/><stop offset="0.511" stop-color="#fd9668"/><stop offset="0.538" stop-color="#f4675c"/><stop offset="0.593" stop-color="#db476a"/><stop offset="0.675" stop-color="#bf3a77"/><stop offset="0.784" stop-color="#752181"/><stop offset="0.848" stop-color="#732081"/><stop offset="0.976" stop-color="#802582"/><stop offset="1" stop-color="#802582"/></linearGradient><linearGradient id="d7" x1="0" y1="0" x2="0" y2="1"><stop offset="0" stop-color="#251255"/><stop offset="0.073" stop-color="#2d1161"/><stop offset="0.137" stop-color="#471078"/><stop offset="0.21" stop-color="#4e117b"/><stop offset="0.228" stop-color="#3f0f72"/><stop offset="0.274" stop-color="#08071e"/><stop offset="0.301" stop-color="#0c0926"/><stop offset="0.31" stop-color="#130d34"/><stop offset="0.328" stop-color="#6e1e81"/><stop offset="0.337" stop-color="#752181"/><stop offset="0.347" stop-color="#8c2981"/><stop offset="0.356" stop-color="#ca3e72"/><stop offset="0.365" stop-color="#fa7d5e"/><stop offset="0.374" stop-color="#fec185"/><stop offset="0.392" stop-color="#fde3a5"/><stop offset="0.429" stop-color="#fcfdbf"/><stop offset="0.465" stop-color="#fcecae"/><stop offset="0.502" stop-color="#fec488"/><stop offset="0.538" stop-color="#fc8e64"/><stop offset="0.675" stop-color="#c43c75"/><stop offset="0.784" stop-color="#6a1c81"/><stop offset="0.848" stop-color="#671b80"/><stop offset="0.985" stop-color="#802582"/><stop offset="1" stop-color="#802582"/></linearGradient><linearGradient id="d8" x1="0" y1="0" x2="0" y2="1"><stop offset="0" stop-color="#251255"/><stop offset="0.073" stop-color="#2c115f"/><stop offset="0.164" stop-color="#4f127b"/><stop offset="0.228" stop-color="#491078"/><stop offset="0.274" stop-color="#160f3b"/><stop offset="0.31" stop-color="#1a1042"/><stop offset="0.328" stop-color="#782281"/><stop offset="0.337" stop-color="#671b80"/><stop offset="0.347" stop-color="#721f81"/><stop offset="0.356" stop-color="#ad347c"/><stop offset="0.365" stop-color="#f05f5e"/><stop offset="0.374" stop-color="#fea772"/><stop offset="0.392" stop-color="#fed194"/><stop offset="0.419" stop-color="#fcf0b2"/><stop offset="0.456" stop-color="#fcecae"/><stop offset="0.511" stop-color="#febf84"/><stop offset="0.565" stop-color="#fd9467"/><stop offset="0.629" stop-color="#ef5d5e"/><stop offset="0.748" stop-color="#862781"/><stop offset="0.784" stop-color="#641a80"/><stop offset="0.839" stop-color="#5c167f"/><stop offset="0.921" stop-color="#6e1e81"/><stop offset="0.994" stop-color="#802582"/><stop offset="1" stop-color="#802582"/></linearGradient><linearGradient id="d9" x1="0" y1="0" x2="0" y2="1"><stop offset="0" stop-color="#251255"/><stop offset="0.073" stop-color="#2d1161"/><stop offset="0.137" stop-color="#471078"/><stop offset="0.21" stop-color="#4e117b"/><stop offset="0.228" stop-color="#3d0f71"/><stop offset="0.237" stop-color="#2a115c"/><stop offset="0.255" stop-color="#29115a"/><stop offset="0.301" stop-color="#3f0f72"/><stop offset="0.31" stop-color="#420f75"/><stop offset="0.328" stop-color="#842681"/><stop offset="0.337" stop-color="#792282"/><stop offset="0.347" stop-color="#832681"/><stop offset="0.356" stop-color="#b2357b"/><stop offset="0.365" stop-color="#e95462"/><stop offset="0.374" stop-color="#fc8961"/><stop offset="0.392" stop-color="#feaa74"/><stop offset="0.429" stop-color="#fec68a"/><stop offset="0.502" stop-color="#feae77"/><stop offset="0.62" stop-color="#ef5d5e"/><stop offset="0.711" stop-color="#b83779"/><stop offset="0.793" stop-color="#59157e"/><stop offset="0.848" stop-color="#51127c"/><stop offset="0.912" stop-color="#5f187f"/><stop offset="0.967" stop-color="#7c2382"/><stop offset="1" stop-color="#802582"/></linearGradient><linearGradient id="d10" x1="0" y1="0" x2="0" y2="1"><stop offset="0" stop-color="#29115a"/><stop offset="0.073" stop-color="#311165"/><stop offset="0.128" stop-color="#440f76"/><stop offset="0.191" stop-color="#491078"/><stop offset="0.201" stop-color="#4c117a"/><stop offset="0.21" stop-color="#420f75"/><stop offset="0.237" stop-color="#120d31"/><stop offset="0.246" stop-color="#100b2d"/><stop offset="0.264" stop-color="#2f1163"/><stop offset="0.274" stop-color="#451077"/><stop offset="0.292" stop-color="#54137d"/><stop offset="0.31" stop-color="#5a167e"/><stop offset="0.328" stop-color="#8e2a81"/><stop offset="0.347" stop-color="#a02f7f"/><stop offset="0.374" stop-color="#f4695c"/><stop offset="0.41" stop-color="#fb835f"/><stop offset="0.465" stop-color="#fa815f"/><stop offset="0.52" stop-color="#f1605d"/><stop offset="0.647" stop-color="#ca3e72"/><stop offset="0.693" stop-color="#d6456c"/><stop offset="0.72" stop-color="#bf3a77"/><stop offset="0.802" stop-color="#54137d"/><stop offset="0.866" stop-color="#54137d"/><stop offset="0.912" stop-color="#5f187f"/><stop offset="0.967" stop-color="#7c2382"/><stop offset="1" stop-color="#802582"/></linearGradient><linearGradient id="d11" x1="0" y1="0" x2="0" y2="1"><stop offset="0" stop-color="#2d1161"/><stop offset="0.073" stop-color="#341069"/><stop offset="0.137" stop-color="#440f76"/><stop offset="0.201" stop-color="#440f76"/><stop offset="0.21" stop-color="#311165"/><stop offset="0.219" stop-color="#150e38"/><stop offset="0.237" stop-color="#07061c"/><stop offset="0.246" stop-color="#07061c"/><stop offset="0.255" stop-color="#140e36"/><stop offset="0.274" stop-color="#4e117b"/><stop offset="0.283" stop-color="#5d177f"/><stop offset="0.31" stop-color="#6e1e81"/><stop offset="0.365" stop-color="#eb5760"/><stop offset="0.374" stop-color="#f2645c"/><stop offset="0.447" stop-color="#f2645c"/><stop offset="0.511" stop-color="#d0416f"/><stop offset="0.574" stop-color="#a3307e"/><stop offset="0.647" stop-color="#ab337c"/><stop offset="0.666" stop-color="#bd3977"/><stop offset="0.684" stop-color="#db476a"/><stop offset="0.702" stop-color="#d9466b"/><stop offset="0.775" stop-color="#882781"/><stop offset="0.793" stop-color="#651a80"/><stop offset="0.812" stop-color="#5a167e"/><stop offset="0.875" stop-color="#5f187f"/><stop offset="0.985" stop-color="#802582"/><stop offset="1" stop-color="#802582"/></linearGradient><linearGradient id="d12" x1="0" y1="0" x2="0" y2="1"><stop offset="0" stop-color="#2d1161"/><stop offset="0.073" stop-color="#341069"/><stop offset="0.137" stop-color="#440f76"/><stop offset="0.201" stop-color="#440f76"/><stop offset="0.21" stop-color="#2c115f"/><stop offset="0.219" stop-color="#0c0926"/><stop offset="0.237" stop-color="#050416"/><stop offset="0.246" stop-color="#060518"/><stop offset="0.255" stop-color="#130d34"/><stop offset="0.274" stop-color="#52137c"/><stop offset="0.283" stop-color="#671b80"/><stop offset="0.31" stop-color="#812581"/><stop offset="0.337" stop-color="#d0416f"/><stop offset="0.365" stop-color="#f05f5e"/><stop offset="0.392" stop-color="#f3655c"/><stop offset="0.456" stop-color="#e34e65"/><stop offset="0.511" stop-color="#ab337c"/><stop offset="0.556" stop-color="#832681"/><stop offset="0.593" stop-color="#782281"/><stop offset="0.647" stop-color="#902a81"/><stop offset="0.666" stop-color="#a6317d"/><stop offset="0.684" stop-color="#c73d73"/><stop offset="0.72" stop-color="#c03a76"/><stop offset="0.775" stop-color="#a5317e"/><stop offset="0.802" stop-color="#752181"/><stop offset="0.839" stop-color="#641a80"/><stop offset="0.903" stop-color="#6e1e81"/><stop offset="0.976" stop-color="#802582"/><stop offset="1" stop-color="#802582"/></linearGradient><linearGradient id="d13" x1="0" y1="0" x2="0" y2="1"><stop offset="0" stop-color="#2d1161"/><stop offset="0.109" stop-color="#38106c"/><stop offset="0.182" stop-color="#420f75"/><stop offset="0.201" stop-color="#3b0f70"/><stop offset="0.219" stop-color="#0a0822"/><stop offset="0.246" stop-color="#07061c"/><stop offset="0.255" stop-color="#150e38"/><stop offset="0.274" stop-color="#59157e"/><stop offset="0.283" stop-color="#6e1e81"/><stop offset="0.31" stop-color="#912b81"/><stop offset="0.328" stop-color="#db476a"/><stop offset="0.337" stop-color="#ea5661"/><stop offset="0.374" stop-color="#f66e5c"/><stop offset="0.429" stop-color="#ee5b5e"/><stop offset="0.465" stop-color="#d2426f"/><stop offset="0.529" stop-color="#792282"/><stop offset="0.574" stop-color="#5d177f"/><stop offset="0.611" stop-color="#641a80"/><stop offset="0.666" stop-color="#932b80"/><stop offset="0.693" stop-color="#b83779"/><stop offset="0.739" stop-color="#d6456c"/><stop offset="0.766" stop-color="#cc3f71"/><stop offset="0.802" stop-color="#962c80"/><stop offset="0.866" stop-color="#782281"/><stop offset="1" stop-color="#802582"/></linearGradient><linearGradient id="d14" x1="0" y1="0" x2="0" y2="1"><stop offset="0" stop-color="#2d1161"/><stop offset="0.182" stop-color="#38106c"/><stop offset="0.219" stop-color="#100b2d"/><stop offset="0.246" stop-color="#100b2d"/><stop offset="0.255" stop-color="#1e1149"/><stop offset="0.283" stop-color="#7b2382"/><stop offset="0.31" stop-color="#b2357b"/><stop offset="0.328" stop-color="#ef5d5e"/><stop offset="0.337" stop-color="#f66c5c"/><stop offset="0.383" stop-color="#f9795d"/><stop offset="0.438" stop-color="#ea5661"/><stop offset="0.52" stop-color="#701f81"/><stop offset="0.574" stop-color="#451077"/><stop offset="0.602" stop-color="#491078"/><stop offset="0.693" stop-color="#a5317e"/><stop offset="0.729" stop-color="#de4968"/><stop offset="0.757" stop-color="#e44f64"/><stop offset="0.775" stop-color="#e04c67"/><stop offset="0.802" stop-color="#bf3a77"/><stop offset="0.839" stop-color="#ad347c"/><stop offset="0.857" stop-color="#902a81"/><stop offset="0.903" stop-color="#842681"/><stop offset="1" stop-color="#802582"/></linearGradient><linearGradient id="d15" x1="0" y1="0" x2="0" y2="1"><stop offset="0" stop-color="#2d1161"/><stop offset="0.128" stop-color="#2c115f"/><stop offset="0.173" stop-color="#140e36"/><stop offset="0.228" stop-color="#1d1147"/><stop offset="0.264" stop-color="#5d177f"/><stop offset="0.31" stop-color="#d2426f"/><stop offset="0.319" stop-color="#ed5a5f"/><stop offset="0.328" stop-color="#f7725c"/><stop offset="0.374" stop-color="#f9795d"/><stop offset="0.419" stop-color="#f2645c"/><stop offset="0.447" stop-color="#df4a68"/><stop offset="0.502" stop-color="#7c2382"/><stop offset="0.538" stop-color="#52137c"/><stop offset="0.584" stop-color="#3b0f70"/><stop offset="0.62" stop-color="#4e117b"/><stop offset="0.693" stop-color="#992d80"/><stop offset="0.729" stop-color="#e34e65"/><stop offset="0.748" stop-color="#ee5b5e"/><stop offset="0.775" stop-color="#ed5a5f"/><stop offset="0.812" stop-color="#d3436e"/><stop offset="0.839" stop-color="#ca3e72"/><stop offset="0.866" stop-color="#9c2e7f"/><stop offset="0.921" stop-color="#882781"/><stop offset="1" stop-color="#802582"/></linearGradient><linearGradient id="d16" x1="0" y1="0" x2="0" y2="1"><stop offset="0" stop-color="#2d1161"/><stop offset="0.128" stop-color="#2c115f"/><stop offset="0.173" stop-color="#0e0b2b"/><stop offset="0.228" stop-color="#20114b"/><stop offset="0.283" stop-color="#992d80"/><stop offset="0.31" stop-color="#eb5760"/><stop offset="0.319" stop-color="#f66e5c"/><stop offset="0.328" stop-color="#f9795d"/><stop offset="0.401" stop-color="#f7725c"/><stop offset="0.438" stop-color="#e95462"/><stop offset="0.492" stop-color="#812581"/><stop offset="0.529" stop-color="#52137c"/><stop offset="0.584" stop-color="#3b0f70"/><stop offset="0.62" stop-color="#4e117b"/><stop offset="0.693" stop-color="#992d80"/><stop offset="0.729" stop-color="#e34e65"/><stop offset="0.748" stop-color="#ee5b5e"/><stop offset="0.775" stop-color="#ee5b5e"/><stop offset="0.812" stop-color="#dc4869"/><stop offset="0.839" stop-color="#d6456c"/><stop offset="0.875" stop-color="#9c2e7f"/><stop offset="0.903" stop-color="#8b2981"/><stop offset="1" stop-color="#802582"/></linearGradient><mask id="md0" maskUnits="userSpaceOnUse" x="50" y="411.5" width="172.5" height="329"><path d="M50,427L52.7,427L55.4,427L58.1,427.1L60.8,427.2L63.5,427.2L66.2,427.3L68.9,427.4L71.6,427.6L74.3,427.7L77,427.8L79.6,427.9L82.3,428.1L85,428.2L87.7,428.3L90.4,428.4L93.1,428.5L95.8,428.6L98.5,428.7L101.2,428.8L103.9,428.9L106.6,429.1L109.3,429.2L112,429.3L114.7,429.4L117.4,429.6L120.1,429.7L122.8,429.8L125.5,429.8L128.2,429.9L130.9,430L133.6,430L136.2,430L138.9,430L141.6,430L144.3,429.9L147,429.8L149.7,429.8L152.4,429.7L155.1,429.6L157.8,429.4L160.5,429.3L163.2,429.2L165.9,429.1L168.6,428.9L171.3,428.8L174,428.7L176.7,428.6L179.4,428.5L182.1,428.4L184.8,428.3L187.5,428.2L190.2,428.1L192.9,427.9L195.5,427.8L198.2,427.7L200.9,427.6L203.6,427.4L206.3,427.3L209,427.2L211.7,427.2L214.4,427.1L217.1,427L219.8,427L222.5,427L222.5,444.8L219.8,444.9L217.1,445.2L214.4,445.6L211.7,446.1L209,446.6L206.3,447.1L203.6,447.7L200.9,448.4L198.2,449.1L195.5,449.8L192.9,450.5L190.2,451.4L187.5,452.2L184.8,453L182.1,453.8L179.4,454.5L176.7,455.2L174,455.9L171.3,456.3L168.6,456.5L165.9,456.1L163.2,455.3L160.5,454.5L157.8,453.6L155.1,452.6L152.4,451.6L149.7,450.7L147,449.9L144.3,449.1L141.6,448.3L138.9,447.6L136.2,447L133.6,447.6L130.9,448.3L128.2,449.1L125.5,449.9L122.8,450.7L120.1,451.6L117.4,452.6L114.7,453.6L112,454.5L109.3,455.3L106.6,456.1L103.9,456.5L101.2,456.3L98.5,455.9L95.8,455.2L93.1,454.5L90.4,453.8L87.7,453L85,452.2L82.3,451.4L79.6,450.5L77,449.8L74.3,449.1L71.6,448.4L68.9,447.7L66.2,447.1L63.5,446.6L60.8,446.1L58.1,445.6L55.4,445.2L52.7,444.9L50,444.8Z" fill="#fff"/><path d="M157.8,444.4L160.5,444.9L163.2,445.4L165.9,445.8L168.6,446L171.3,445.9L174,445.5L176.7,445.1L179.4,444.6L182.1,444.1L184.8,443.6" fill="none" stroke="#000" stroke-opacity="0.6" stroke-width="0.6" stroke-linecap="round"/><path d="M87.7,443.6L90.4,444.1L93.1,444.6L95.8,445.1L98.5,445.5L101.2,445.9L103.9,446L106.6,445.8L109.3,445.4L112,444.9L114.7,444.4" fill="none" stroke="#000" stroke-opacity="0.6" stroke-width="0.6" stroke-linecap="round"/><path d="M157.8,446.3L160.5,447L163.2,447.5L165.9,448L168.6,448.2L171.3,448.1L174,447.7L176.7,447.2L179.4,446.7L182.1,446.2L184.8,445.6" fill="none" stroke="#000" stroke-opacity="0.7" stroke-width="0.7" stroke-linecap="round"/><path d="M87.7,445.6L90.4,446.2L93.1,446.7L95.8,447.2L98.5,447.7L101.2,448.1L103.9,448.2L106.6,448L109.3,447.5L112,447L114.7,446.3" fill="none" stroke="#000" stroke-opacity="0.7" stroke-width="0.7" stroke-linecap="round"/><path d="M157.8,448.3L160.5,449L163.2,449.6L165.9,450.1L168.6,450.4L171.3,450.3L174,449.9L176.7,449.3L179.4,448.8L182.1,448.2" fill="none" stroke="#000" stroke-opacity="0.7" stroke-width="0.7" stroke-linecap="round"/><path d="M90.4,448.2L93.1,448.8L95.8,449.3L98.5,449.9L101.2,450.3L103.9,450.4L106.6,450.1L109.3,449.6L112,449L114.7,448.3" fill="none" stroke="#000" stroke-opacity="0.7" stroke-width="0.7" stroke-linecap="round"/><path d="M160.5,451L163.2,451.7L165.9,452.3L168.6,452.6L171.3,452.5L174,452.1L176.7,451.5L179.4,450.9" fill="none" stroke="#000" stroke-opacity="0.7" stroke-width="0.6" stroke-linecap="round"/><path d="M93.1,450.9L95.8,451.5L98.5,452.1L101.2,452.5L103.9,452.6L106.6,452.3L109.3,451.7L112,451" fill="none" stroke="#000" stroke-opacity="0.7" stroke-width="0.6" stroke-linecap="round"/></mask><mask id="md1" maskUnits="userSpaceOnUse" x="50" y="411.5" width="172.5" height="329"><path d="M50,498.8L52.7,498.5L55.4,497.6L58.1,496.5L60.8,495.3L63.5,494.1L66.2,492.7L68.9,491.3L71.6,489.9L74.3,488.5L77,487.2L79.6,485.8L82.3,484.5L85,483.1L87.7,481.8L90.4,480.5L93.1,479.2L95.8,477.9L98.5,476.7L101.2,475.6L103.9,474.7L106.6,473.8L109.3,473.3L112,473.4L114.7,473.9L117.4,474.7L120.1,475.5L122.8,476.5L125.5,477.4L128.2,478.4L130.9,479.5L133.6,480.7L136.2,482L138.9,480.7L141.6,479.5L144.3,478.4L147,477.4L149.7,476.5L152.4,475.5L155.1,474.7L157.8,473.9L160.5,473.4L163.2,473.3L165.9,473.8L168.6,474.7L171.3,475.6L174,476.7L176.7,477.9L179.4,479.2L182.1,480.5L184.8,481.8L187.5,483.1L190.2,484.5L192.9,485.8L195.5,487.2L198.2,488.5L200.9,489.9L203.6,491.3L206.3,492.7L209,494.1L211.7,495.3L214.4,496.5L217.1,497.6L219.8,498.5L222.5,498.8L222.5,509.8L219.8,509.7L217.1,509.6L214.4,509.3L211.7,509L209,508.7L206.3,508.4L203.6,508.1L200.9,507.7L198.2,507.3L195.5,506.8L192.9,506.4L190.2,505.9L187.5,505.4L184.8,504.9L182.1,504.4L179.4,503.8L176.7,503.1L174,502.4L171.3,501.7L168.6,501L165.9,500.4L163.2,499.8L160.5,499.3L157.8,498.8L155.1,498.3L152.4,497.8L149.7,497.4L147,497L144.3,496.7L141.6,496.4L138.9,496.3L136.2,496.2L133.6,496.3L130.9,496.4L128.2,496.7L125.5,497L122.8,497.4L120.1,497.8L117.4,498.3L114.7,498.8L112,499.3L109.3,499.8L106.6,500.4L103.9,501L101.2,501.7L98.5,502.4L95.8,503.1L93.1,503.8L90.4,504.4L87.7,504.9L85,505.4L82.3,505.9L79.6,506.4L77,506.8L74.3,507.3L71.6,507.7L68.9,508.1L66.2,508.4L63.5,508.7L60.8,509L58.1,509.3L55.4,509.6L52.7,509.7L50,509.8Z" fill="#fff"/><path d="M147,480L149.7,479.2L152.4,478.4L155.1,477.7L157.8,477.2L160.5,476.8L163.2,476.8L165.9,477.3L168.6,478.1L171.3,479L174,480.1L176.7,481.2L179.4,482.4L182.1,483.6L184.8,484.8L187.5,486L190.2,487.3L192.9,488.5L195.5,489.7L198.2,491" fill="none" stroke="#000" stroke-opacity="1" stroke-width="1.0" stroke-linecap="round"/><path d="M74.3,491L77,489.7L79.6,488.5L82.3,487.3L85,486L87.7,484.8L90.4,483.6L93.1,482.4L95.8,481.2L98.5,480.1L101.2,479L103.9,478.1L106.6,477.3L109.3,476.8L112,476.8L114.7,477.2L117.4,477.7L120.1,478.4L122.8,479.2L125.5,480" fill="none" stroke="#000" stroke-opacity="1" stroke-width="1.0" stroke-linecap="round"/><path d="M147,481.7L149.7,481.1L152.4,480.5L155.1,479.9L157.8,479.4L160.5,479.1L163.2,479.1L165.9,479.7L168.6,480.5L171.3,481.4L174,482.4L176.7,483.5L179.4,484.6L182.1,485.8L184.8,486.9L187.5,488L190.2,489.2L192.9,490.4L195.5,491.5L198.2,492.7L200.9,493.8" fill="none" stroke="#000" stroke-opacity="1" stroke-width="1.0" stroke-linecap="round"/><path d="M71.6,493.8L74.3,492.7L77,491.5L79.6,490.4L82.3,489.2L85,488L87.7,486.9L90.4,485.8L93.1,484.6L95.8,483.5L98.5,482.4L101.2,481.4L103.9,480.5L106.6,479.7L109.3,479.1L112,479.1L114.7,479.4L117.4,479.9L120.1,480.5L122.8,481.1L125.5,481.7" fill="none" stroke="#000" stroke-opacity="1" stroke-width="1.0" stroke-linecap="round"/><path d="M147,483.5L149.7,483L152.4,482.5L155.1,482L157.8,481.6L160.5,481.5L163.2,481.5L165.9,482L168.6,482.8L171.3,483.7L174,484.7L176.7,485.7L179.4,486.8L182.1,487.9L184.8,489L187.5,490L190.2,491.1L192.9,492.2L195.5,493.3L198.2,494.4L200.9,495.4L203.6,496.5" fill="none" stroke="#000" stroke-opacity="1" stroke-width="1.0" stroke-linecap="round"/><path d="M68.9,496.5L71.6,495.4L74.3,494.4L77,493.3L79.6,492.2L82.3,491.1L85,490L87.7,489L90.4,487.9L93.1,486.8L95.8,485.7L98.5,484.7L101.2,483.7L103.9,482.8L106.6,482L109.3,481.5L112,481.5L114.7,481.6L117.4,482L120.1,482.5L122.8,483L125.5,483.5" fill="none" stroke="#000" stroke-opacity="1" stroke-width="1.0" stroke-linecap="round"/><path d="M149.7,484.9L152.4,484.5L155.1,484.1L157.8,483.9L160.5,483.8L163.2,483.9L165.9,484.4L168.6,485.2L171.3,486L174,487L176.7,488L179.4,489L182.1,490.1L184.8,491L187.5,492L190.2,493L192.9,494.1L195.5,495.1L198.2,496L200.9,497L203.6,498" fill="none" stroke="#000" stroke-opacity="1" stroke-width="0.9" stroke-linecap="round"/><path d="M68.9,498L71.6,497L74.3,496L77,495.1L79.6,494.1L82.3,493L85,492L87.7,491L90.4,490.1L93.1,489L95.8,488L98.5,487L101.2,486L103.9,485.2L106.6,484.4L109.3,483.9L112,483.8L114.7,483.9L117.4,484.1L120.1,484.5L122.8,484.9" fill="none" stroke="#000" stroke-opacity="1" stroke-width="0.9" stroke-linecap="round"/><path d="M155.1,486.2L157.8,486.1L160.5,486.1L163.2,486.3L165.9,486.8L168.6,487.6L171.3,488.4L174,489.3L176.7,490.3L179.4,491.3L182.1,492.2L184.8,493.1L187.5,494L190.2,495L192.9,495.9L195.5,496.8L198.2,497.7L200.9,498.6" fill="none" stroke="#000" stroke-opacity="1" stroke-width="0.8" stroke-linecap="round"/><path d="M71.6,498.6L74.3,497.7L77,496.8L79.6,495.9L82.3,495L85,494L87.7,493.1L90.4,492.2L93.1,491.3L95.8,490.3L98.5,489.3L101.2,488.4L103.9,487.6L106.6,486.8L109.3,486.3L112,486.1L114.7,486.1L117.4,486.2" fill="none" stroke="#000" stroke-opacity="1" stroke-width="0.8" stroke-linecap="round"/></mask><mask id="md2" maskUnits="userSpaceOnUse" x="50" y="411.5" width="172.5" height="329"><path d="M50,668.7L52.7,668.7L55.4,668.6L58.1,668.4L60.8,668.2L63.5,668L66.2,667.6L68.9,667.2L71.6,666.7L74.3,666.1L77,665.4L79.6,664.8L82.3,664.1L85,663.4L87.7,662.6L90.4,661.7L93.1,660.7L95.8,659.7L98.5,658.7L101.2,657.7L103.9,656.8L106.6,655.9L109.3,655.2L112,654.7L114.7,654.1L117.4,653.6L120.1,653.1L122.8,652.7L125.5,652.3L128.2,652L130.9,651.8L133.6,651.6L136.2,651.6L138.9,651.6L141.6,651.8L144.3,652L147,652.3L149.7,652.7L152.4,653.1L155.1,653.6L157.8,654.1L160.5,654.7L163.2,655.2L165.9,655.9L168.6,656.8L171.3,657.7L174,658.7L176.7,659.7L179.4,660.7L182.1,661.7L184.8,662.6L187.5,663.4L190.2,664.1L192.9,664.8L195.5,665.4L198.2,666.1L200.9,666.7L203.6,667.2L206.3,667.6L209,668L211.7,668.2L214.4,668.4L217.1,668.6L219.8,668.7L222.5,668.7L222.5,685L219.8,685L217.1,684.9L214.4,684.7L211.7,684.5L209,684.3L206.3,684L203.6,683.7L200.9,683.3L198.2,682.8L195.5,682.2L192.9,681.5L190.2,680.6L187.5,679.7L184.8,678.7L182.1,677.8L179.4,676.8L176.7,675.8L174,674.6L171.3,673.4L168.6,672.2L165.9,671L163.2,669.9L160.5,668.8L157.8,668L155.1,667.3L152.4,666.6L149.7,665.9L147,665.4L144.3,664.9L141.6,664.5L138.9,664.3L136.2,664.2L133.6,664.3L130.9,664.5L128.2,664.9L125.5,665.4L122.8,665.9L120.1,666.6L117.4,667.3L114.7,668L112,668.8L109.3,669.9L106.6,671L103.9,672.2L101.2,673.4L98.5,674.6L95.8,675.8L93.1,676.8L90.4,677.8L87.7,678.7L85,679.7L82.3,680.6L79.6,681.5L77,682.2L74.3,682.8L71.6,683.3L68.9,683.7L66.2,684L63.5,684.3L60.8,684.5L58.1,684.7L55.4,684.9L52.7,685L50,685Z" fill="#fff"/><path d="M190.2,675.7L192.9,676.5L195.5,677.2L198.2,677.8L200.9,678.3L203.6,678.7L206.3,679.1L209,679.4L211.7,679.6L214.4,679.8L217.1,680" fill="none" stroke="#000" stroke-opacity="0.6" stroke-width="0.5" stroke-linecap="round"/><path d="M55.4,680L58.1,679.8L60.8,679.6L63.5,679.4L66.2,679.1L68.9,678.7L71.6,678.3L74.3,677.8L77,677.2L79.6,676.5L82.3,675.7" fill="none" stroke="#000" stroke-opacity="0.6" stroke-width="0.5" stroke-linecap="round"/><path d="M190.2,677.3L192.9,678.1L195.5,678.9L198.2,679.5L200.9,680L203.6,680.4L206.3,680.7L209,681L211.7,681.2L214.4,681.5L217.1,681.6" fill="none" stroke="#000" stroke-opacity="0.6" stroke-width="0.5" stroke-linecap="round"/><path d="M55.4,681.6L58.1,681.5L60.8,681.2L63.5,681L66.2,680.7L68.9,680.4L71.6,680L74.3,679.5L77,678.9L79.6,678.1L82.3,677.3" fill="none" stroke="#000" stroke-opacity="0.6" stroke-width="0.5" stroke-linecap="round"/></mask><mask id="md3" maskUnits="userSpaceOnUse" x="50" y="411.5" width="172.5" height="329"><path d="M50,697.6L52.7,697.6L55.4,697.6L58.1,697.6L60.8,697.6L63.5,697.6L66.2,697.7L68.9,697.7L71.6,697.7L74.3,697.8L77,698.1L79.6,698.8L82.3,699.7L85,700.6L87.7,701.6L90.4,702.4L93.1,703.3L95.8,704.2L98.5,705.1L101.2,706L103.9,706.9L106.6,707.6L109.3,708.3L112,708.8L114.7,709.3L117.4,709.7L120.1,710.1L122.8,710.5L125.5,710.8L128.2,711.1L130.9,711.2L133.6,711.4L136.2,711.4L138.9,711.4L141.6,711.2L144.3,711.1L147,710.8L149.7,710.5L152.4,710.1L155.1,709.7L157.8,709.3L160.5,708.8L163.2,708.3L165.9,707.6L168.6,706.9L171.3,706L174,705.1L176.7,704.2L179.4,703.3L182.1,702.4L184.8,701.6L187.5,700.6L190.2,699.7L192.9,698.8L195.5,698.1L198.2,697.8L200.9,697.7L203.6,697.7L206.3,697.7L209,697.6L211.7,697.6L214.4,697.6L217.1,697.6L219.8,697.6L222.5,697.6L222.5,722.7L219.8,722.7L217.1,722.8L214.4,722.9L211.7,723.1L209,723.3L206.3,723.5L203.6,723.8L200.9,724.1L198.2,724.3L195.5,724.6L192.9,725L190.2,725.4L187.5,725.8L184.8,726.3L182.1,726.8L179.4,727.2L176.7,727.6L174,728L171.3,728.3L168.6,728.5L165.9,728.6L163.2,728.8L160.5,729L157.8,729.1L155.1,729.2L152.4,729.4L149.7,729.5L147,729.5L144.3,729.6L141.6,729.7L138.9,729.7L136.2,729.7L133.6,729.7L130.9,729.7L128.2,729.6L125.5,729.5L122.8,729.5L120.1,729.4L117.4,729.2L114.7,729.1L112,729L109.3,728.8L106.6,728.6L103.9,728.5L101.2,728.3L98.5,728L95.8,727.6L93.1,727.2L90.4,726.8L87.7,726.3L85,725.8L82.3,725.4L79.6,725L77,724.6L74.3,724.3L71.6,724.1L68.9,723.8L66.2,723.5L63.5,723.3L60.8,723.1L58.1,722.9L55.4,722.8L52.7,722.7L50,722.7Z" fill="#fff"/><path d="M179.4,710.5L182.1,709.7L184.8,709L187.5,708.2L190.2,707.4L192.9,706.6L195.5,706.1L198.2,705.8L200.9,705.6L203.6,705.5L206.3,705.4L209,705.3L211.7,705.3L214.4,705.2L217.1,705.2L219.8,705.1L222.5,705.1" fill="none" stroke="#000" stroke-opacity="0.5" stroke-width="0.5" stroke-linecap="round"/><path d="M50,705.1L52.7,705.1L55.4,705.2L58.1,705.2L60.8,705.3L63.5,705.3L66.2,705.4L68.9,705.5L71.6,705.6L74.3,705.8L77,706.1L79.6,706.6L82.3,707.4L85,708.2L87.7,709L90.4,709.7L93.1,710.5" fill="none" stroke="#000" stroke-opacity="0.5" stroke-width="0.5" stroke-linecap="round"/><path d="M179.4,713.3L182.1,712.6L184.8,712L187.5,711.2L190.2,710.5L192.9,709.8L195.5,709.2L198.2,708.9L200.9,708.8L203.6,708.7L206.3,708.5L209,708.4L211.7,708.3L214.4,708.3L217.1,708.2L219.8,708.2L222.5,708.1" fill="none" stroke="#000" stroke-opacity="0.5" stroke-width="0.5" stroke-linecap="round"/><path d="M50,708.1L52.7,708.2L55.4,708.2L58.1,708.3L60.8,708.3L63.5,708.4L66.2,708.5L68.9,708.7L71.6,708.8L74.3,708.9L77,709.2L79.6,709.8L82.3,710.5L85,711.2L87.7,712L90.4,712.6L93.1,713.3" fill="none" stroke="#000" stroke-opacity="0.5" stroke-width="0.5" stroke-linecap="round"/><path d="M179.4,716.2L182.1,715.6L184.8,714.9L187.5,714.2L190.2,713.5L192.9,712.9L195.5,712.4L198.2,712.1L200.9,712L203.6,711.8L206.3,711.6L209,711.5L211.7,711.4L214.4,711.3L217.1,711.2L219.8,711.2L222.5,711.2" fill="none" stroke="#000" stroke-opacity="0.5" stroke-width="0.5" stroke-linecap="round"/><path d="M50,711.2L52.7,711.2L55.4,711.2L58.1,711.3L60.8,711.4L63.5,711.5L66.2,711.6L68.9,711.8L71.6,712L74.3,712.1L77,712.4L79.6,712.9L82.3,713.5L85,714.2L87.7,714.9L90.4,715.6L93.1,716.2" fill="none" stroke="#000" stroke-opacity="0.5" stroke-width="0.5" stroke-linecap="round"/></mask><clipPath id="cpe"><rect x="281" y="411.5" width="172" height="329"/></clipPath><linearGradient id="e0" x1="0" y1="0" x2="0" y2="1"><stop offset="0" stop-color="#51127c"/><stop offset="0.055" stop-color="#701f81"/><stop offset="0.128" stop-color="#752181"/><stop offset="0.191" stop-color="#4e117b"/><stop offset="0.246" stop-color="#251255"/><stop offset="0.319" stop-color="#2a115c"/><stop offset="0.401" stop-color="#5f187f"/><stop offset="0.502" stop-color="#6a1c81"/><stop offset="0.584" stop-color="#9e2f7f"/><stop offset="0.657" stop-color="#d9466b"/><stop offset="0.693" stop-color="#fc8c63"/><stop offset="0.766" stop-color="#fdda9c"/><stop offset="0.793" stop-color="#fde5a7"/><stop offset="0.812" stop-color="#feca8d"/><stop offset="0.839" stop-color="#f97b5d"/><stop offset="0.857" stop-color="#c53c74"/><stop offset="0.884" stop-color="#812581"/><stop offset="0.903" stop-color="#6b1d81"/><stop offset="0.957" stop-color="#56147d"/><stop offset="0.985" stop-color="#29115a"/><stop offset="1" stop-color="#251255"/></linearGradient><linearGradient id="e1" x1="0" y1="0" x2="0" y2="1"><stop offset="0" stop-color="#440f76"/><stop offset="0.073" stop-color="#5f187f"/><stop offset="0.137" stop-color="#601880"/><stop offset="0.255" stop-color="#331067"/><stop offset="0.319" stop-color="#36106b"/><stop offset="0.392" stop-color="#5c167f"/><stop offset="0.492" stop-color="#671b80"/><stop offset="0.574" stop-color="#a02f7f"/><stop offset="0.62" stop-color="#bf3a77"/><stop offset="0.657" stop-color="#d2426f"/><stop offset="0.693" stop-color="#fa7d5e"/><stop offset="0.766" stop-color="#fecd90"/><stop offset="0.793" stop-color="#fed799"/><stop offset="0.812" stop-color="#febb81"/><stop offset="0.839" stop-color="#f66e5c"/><stop offset="0.857" stop-color="#c43c75"/><stop offset="0.884" stop-color="#7c2382"/><stop offset="0.903" stop-color="#641a80"/><stop offset="0.948" stop-color="#51127c"/><stop offset="0.967" stop-color="#36106b"/><stop offset="0.985" stop-color="#180f3d"/><stop offset="1" stop-color="#140e36"/></linearGradient><linearGradient id="e2" x1="0" y1="0" x2="0" y2="1"><stop offset="0" stop-color="#3b0f70"/><stop offset="0.119" stop-color="#4f127b"/><stop offset="0.182" stop-color="#440f76"/><stop offset="0.21" stop-color="#51127c"/><stop offset="0.356" stop-color="#54137d"/><stop offset="0.401" stop-color="#641a80"/><stop offset="0.474" stop-color="#6b1d81"/><stop offset="0.52" stop-color="#892881"/><stop offset="0.602" stop-color="#cc3f71"/><stop offset="0.657" stop-color="#d8456c"/><stop offset="0.702" stop-color="#f97b5d"/><stop offset="0.729" stop-color="#feae77"/><stop offset="0.757" stop-color="#feb77e"/><stop offset="0.793" stop-color="#feb77e"/><stop offset="0.812" stop-color="#fe9f6d"/><stop offset="0.839" stop-color="#ee5b5e"/><stop offset="0.857" stop-color="#ae347b"/><stop offset="0.884" stop-color="#6e1e81"/><stop offset="0.903" stop-color="#5c167f"/><stop offset="0.957" stop-color="#491078"/><stop offset="0.985" stop-color="#1d1147"/><stop offset="1" stop-color="#1a1042"/></linearGradient><linearGradient id="e3" x1="0" y1="0" x2="0" y2="1"><stop offset="0" stop-color="#251255"/><stop offset="0.137" stop-color="#20114b"/><stop offset="0.164" stop-color="#1a1042"/><stop offset="0.182" stop-color="#2f1163"/><stop offset="0.201" stop-color="#5f187f"/><stop offset="0.255" stop-color="#6b1d81"/><stop offset="0.356" stop-color="#641a80"/><stop offset="0.483" stop-color="#8b2981"/><stop offset="0.529" stop-color="#ba3878"/><stop offset="0.602" stop-color="#de4968"/><stop offset="0.666" stop-color="#e04c67"/><stop offset="0.739" stop-color="#fb8761"/><stop offset="0.793" stop-color="#f9785d"/><stop offset="0.821" stop-color="#ea5661"/><stop offset="0.839" stop-color="#cf4070"/><stop offset="0.857" stop-color="#962c80"/><stop offset="0.884" stop-color="#681c81"/><stop offset="0.912" stop-color="#5a167e"/><stop offset="0.957" stop-color="#54137d"/><stop offset="0.985" stop-color="#341069"/><stop offset="1" stop-color="#331067"/></linearGradient><linearGradient id="e4" x1="0" y1="0" x2="0" y2="1"><stop offset="0" stop-color="#1a1042"/><stop offset="0.128" stop-color="#120d31"/><stop offset="0.164" stop-color="#090720"/><stop offset="0.182" stop-color="#1e1149"/><stop offset="0.201" stop-color="#641a80"/><stop offset="0.228" stop-color="#832681"/><stop offset="0.264" stop-color="#8b2981"/><stop offset="0.365" stop-color="#792282"/><stop offset="0.438" stop-color="#982d80"/><stop offset="0.511" stop-color="#de4968"/><stop offset="0.565" stop-color="#ed5a5f"/><stop offset="0.657" stop-color="#de4968"/><stop offset="0.711" stop-color="#d8456c"/><stop offset="0.757" stop-color="#ca3e72"/><stop offset="0.802" stop-color="#c53c74"/><stop offset="0.839" stop-color="#9b2e7f"/><stop offset="0.857" stop-color="#721f81"/><stop offset="0.894" stop-color="#56147d"/><stop offset="0.967" stop-color="#471078"/><stop offset="1" stop-color="#3b0f70"/></linearGradient><linearGradient id="e5" x1="0" y1="0" x2="0" y2="1"><stop offset="0" stop-color="#140e36"/><stop offset="0.064" stop-color="#090720"/><stop offset="0.137" stop-color="#060518"/><stop offset="0.164" stop-color="#03030f"/><stop offset="0.182" stop-color="#0d0a29"/><stop offset="0.201" stop-color="#331067"/><stop offset="0.237" stop-color="#5c167f"/><stop offset="0.365" stop-color="#932b80"/><stop offset="0.438" stop-color="#d0416f"/><stop offset="0.483" stop-color="#f9785d"/><stop offset="0.529" stop-color="#fb8761"/><stop offset="0.62" stop-color="#e95462"/><stop offset="0.657" stop-color="#d9466b"/><stop offset="0.666" stop-color="#bc3978"/><stop offset="0.684" stop-color="#6d1d81"/><stop offset="0.702" stop-color="#641a80"/><stop offset="0.83" stop-color="#5d177f"/><stop offset="0.921" stop-color="#400f74"/><stop offset="0.967" stop-color="#311165"/><stop offset="1" stop-color="#251255"/></linearGradient><linearGradient id="e6" x1="0" y1="0" x2="0" y2="1"><stop offset="0" stop-color="#090720"/><stop offset="0.082" stop-color="#03030f"/><stop offset="0.164" stop-color="#010106"/><stop offset="0.191" stop-color="#0e0b2b"/><stop offset="0.201" stop-color="#19103f"/><stop offset="0.274" stop-color="#21114e"/><stop offset="0.31" stop-color="#451077"/><stop offset="0.356" stop-color="#b73779"/><stop offset="0.429" stop-color="#f2645c"/><stop offset="0.492" stop-color="#f9795d"/><stop offset="0.538" stop-color="#f7705c"/><stop offset="0.574" stop-color="#ea5661"/><stop offset="0.611" stop-color="#df4a68"/><stop offset="0.647" stop-color="#ad347c"/><stop offset="0.666" stop-color="#802582"/><stop offset="0.684" stop-color="#471078"/><stop offset="0.72" stop-color="#1c1044"/><stop offset="0.748" stop-color="#150e38"/><stop offset="0.793" stop-color="#331067"/><stop offset="0.875" stop-color="#390f6e"/><stop offset="0.967" stop-color="#251255"/><stop offset="1" stop-color="#1a1042"/></linearGradient><linearGradient id="e7" x1="0" y1="0" x2="0" y2="1"><stop offset="0" stop-color="#050416"/><stop offset="0.164" stop-color="#000004"/><stop offset="0.201" stop-color="#130d34"/><stop offset="0.31" stop-color="#150e38"/><stop offset="0.328" stop-color="#241253"/><stop offset="0.347" stop-color="#4e117b"/><stop offset="0.374" stop-color="#832681"/><stop offset="0.429" stop-color="#db476a"/><stop offset="0.474" stop-color="#f2645c"/><stop offset="0.529" stop-color="#f3655c"/><stop offset="0.565" stop-color="#d9466b"/><stop offset="0.638" stop-color="#3b0f70"/><stop offset="0.666" stop-color="#1d1147"/><stop offset="0.739" stop-color="#0e0b2b"/><stop offset="0.757" stop-color="#140e36"/><stop offset="0.784" stop-color="#311165"/><stop offset="0.848" stop-color="#2c115f"/><stop offset="0.921" stop-color="#251255"/><stop offset="0.967" stop-color="#1e1149"/><stop offset="1" stop-color="#140e36"/></linearGradient><linearGradient id="e8" x1="0" y1="0" x2="0" y2="1"><stop offset="0" stop-color="#03030f"/><stop offset="0.164" stop-color="#000004"/><stop offset="0.21" stop-color="#160f3b"/><stop offset="0.319" stop-color="#251255"/><stop offset="0.337" stop-color="#2a115c"/><stop offset="0.356" stop-color="#440f76"/><stop offset="0.438" stop-color="#5f187f"/><stop offset="0.483" stop-color="#932b80"/><stop offset="0.529" stop-color="#9e2f7f"/><stop offset="0.565" stop-color="#601880"/><stop offset="0.611" stop-color="#2a115c"/><stop offset="0.647" stop-color="#040414"/><stop offset="0.693" stop-color="#02020b"/><stop offset="0.711" stop-color="#130d34"/><stop offset="0.739" stop-color="#4c117a"/><stop offset="0.793" stop-color="#5c167f"/><stop offset="0.848" stop-color="#471078"/><stop offset="0.903" stop-color="#21114e"/><stop offset="0.976" stop-color="#120d31"/><stop offset="1" stop-color="#0e0b2b"/></linearGradient><linearGradient id="e9" x1="0" y1="0" x2="0" y2="1"><stop offset="0" stop-color="#050416"/><stop offset="0.128" stop-color="#02020b"/><stop offset="0.173" stop-color="#03030f"/><stop offset="0.21" stop-color="#1d1147"/><stop offset="0.301" stop-color="#390f6e"/><stop offset="0.31" stop-color="#471078"/><stop offset="0.337" stop-color="#c83e73"/><stop offset="0.347" stop-color="#f1605d"/><stop offset="0.356" stop-color="#fc8961"/><stop offset="0.383" stop-color="#febd82"/><stop offset="0.429" stop-color="#fecf92"/><stop offset="0.483" stop-color="#fec68a"/><stop offset="0.492" stop-color="#febd82"/><stop offset="0.511" stop-color="#f8745c"/><stop offset="0.529" stop-color="#d2426f"/><stop offset="0.556" stop-color="#962c80"/><stop offset="0.611" stop-color="#54137d"/><stop offset="0.638" stop-color="#1e1149"/><stop offset="0.657" stop-color="#140e36"/><stop offset="0.702" stop-color="#311165"/><stop offset="0.739" stop-color="#601880"/><stop offset="0.784" stop-color="#782281"/><stop offset="0.839" stop-color="#6a1c81"/><stop offset="0.903" stop-color="#311165"/><stop offset="1" stop-color="#140e36"/></linearGradient><linearGradient id="e10" x1="0" y1="0" x2="0" y2="1"><stop offset="0" stop-color="#090720"/><stop offset="0.164" stop-color="#090720"/><stop offset="0.182" stop-color="#130d34"/><stop offset="0.201" stop-color="#341069"/><stop offset="0.292" stop-color="#6a1c81"/><stop offset="0.31" stop-color="#842681"/><stop offset="0.347" stop-color="#f8745c"/><stop offset="0.356" stop-color="#fc8961"/><stop offset="0.456" stop-color="#fb835f"/><stop offset="0.492" stop-color="#f4695c"/><stop offset="0.538" stop-color="#b73779"/><stop offset="0.556" stop-color="#a3307e"/><stop offset="0.657" stop-color="#a02f7f"/><stop offset="0.684" stop-color="#681c81"/><stop offset="0.711" stop-color="#6a1c81"/><stop offset="0.793" stop-color="#842681"/><stop offset="0.848" stop-color="#701f81"/><stop offset="0.912" stop-color="#3f0f72"/><stop offset="1" stop-color="#251255"/></linearGradient><linearGradient id="e11" x1="0" y1="0" x2="0" y2="1"><stop offset="0" stop-color="#140e36"/><stop offset="0.119" stop-color="#1c1044"/><stop offset="0.173" stop-color="#2d1161"/><stop offset="0.191" stop-color="#4a1079"/><stop offset="0.21" stop-color="#6a1c81"/><stop offset="0.283" stop-color="#a1307e"/><stop offset="0.356" stop-color="#de4968"/><stop offset="0.401" stop-color="#e44f64"/><stop offset="0.438" stop-color="#d2426f"/><stop offset="0.483" stop-color="#962c80"/><stop offset="0.529" stop-color="#8c2981"/><stop offset="0.611" stop-color="#d0416f"/><stop offset="0.657" stop-color="#de4968"/><stop offset="0.684" stop-color="#b83779"/><stop offset="0.711" stop-color="#bd3977"/><stop offset="0.757" stop-color="#ca3e72"/><stop offset="0.802" stop-color="#c73d73"/><stop offset="0.839" stop-color="#aa337d"/><stop offset="0.875" stop-color="#732081"/><stop offset="0.93" stop-color="#4c117a"/><stop offset="1" stop-color="#3b0f70"/></linearGradient><linearGradient id="e12" x1="0" y1="0" x2="0" y2="1"><stop offset="0" stop-color="#251255"/><stop offset="0.146" stop-color="#451077"/><stop offset="0.173" stop-color="#5c167f"/><stop offset="0.201" stop-color="#902a81"/><stop offset="0.301" stop-color="#ca3e72"/><stop offset="0.31" stop-color="#c73d73"/><stop offset="0.356" stop-color="#782281"/><stop offset="0.392" stop-color="#641a80"/><stop offset="0.502" stop-color="#681c81"/><stop offset="0.547" stop-color="#8e2a81"/><stop offset="0.602" stop-color="#d8456c"/><stop offset="0.647" stop-color="#ed5a5f"/><stop offset="0.693" stop-color="#e44f64"/><stop offset="0.739" stop-color="#f66e5c"/><stop offset="0.802" stop-color="#f56b5c"/><stop offset="0.839" stop-color="#d8456c"/><stop offset="0.866" stop-color="#992d80"/><stop offset="0.894" stop-color="#721f81"/><stop offset="0.957" stop-color="#56147d"/><stop offset="1" stop-color="#51127c"/></linearGradient><linearGradient id="e13" x1="0" y1="0" x2="0" y2="1"><stop offset="0" stop-color="#3b0f70"/><stop offset="0.173" stop-color="#721f81"/><stop offset="0.201" stop-color="#8b2981"/><stop offset="0.246" stop-color="#792282"/><stop offset="0.347" stop-color="#51127c"/><stop offset="0.41" stop-color="#440f76"/><stop offset="0.502" stop-color="#491078"/><stop offset="0.538" stop-color="#6a1c81"/><stop offset="0.593" stop-color="#c43c75"/><stop offset="0.693" stop-color="#f4695c"/><stop offset="0.739" stop-color="#feb47b"/><stop offset="0.793" stop-color="#fec488"/><stop offset="0.812" stop-color="#feb078"/><stop offset="0.839" stop-color="#f66e5c"/><stop offset="0.857" stop-color="#c23b75"/><stop offset="0.884" stop-color="#8e2a81"/><stop offset="0.93" stop-color="#6b1d81"/><stop offset="1" stop-color="#5c167f"/></linearGradient><linearGradient id="e14" x1="0" y1="0" x2="0" y2="1"><stop offset="0" stop-color="#440f76"/><stop offset="0.064" stop-color="#671b80"/><stop offset="0.146" stop-color="#701f81"/><stop offset="0.255" stop-color="#5a167e"/><stop offset="0.301" stop-color="#3b0f70"/><stop offset="0.419" stop-color="#420f75"/><stop offset="0.511" stop-color="#4a1079"/><stop offset="0.529" stop-color="#54137d"/><stop offset="0.584" stop-color="#ab337c"/><stop offset="0.62" stop-color="#cc3f71"/><stop offset="0.666" stop-color="#e75263"/><stop offset="0.702" stop-color="#fc8961"/><stop offset="0.729" stop-color="#fec88c"/><stop offset="0.757" stop-color="#fde0a1"/><stop offset="0.793" stop-color="#fde5a7"/><stop offset="0.812" stop-color="#fecf92"/><stop offset="0.839" stop-color="#fc8a62"/><stop offset="0.857" stop-color="#d6456c"/><stop offset="0.884" stop-color="#a02f7f"/><stop offset="0.921" stop-color="#7e2482"/><stop offset="0.994" stop-color="#641a80"/><stop offset="1" stop-color="#641a80"/></linearGradient><linearGradient id="e15" x1="0" y1="0" x2="0" y2="1"><stop offset="0" stop-color="#440f76"/><stop offset="0.046" stop-color="#701f81"/><stop offset="0.137" stop-color="#7c2382"/><stop offset="0.173" stop-color="#782281"/><stop offset="0.301" stop-color="#251255"/><stop offset="0.401" stop-color="#341069"/><stop offset="0.52" stop-color="#420f75"/><stop offset="0.529" stop-color="#471078"/><stop offset="0.565" stop-color="#912b81"/><stop offset="0.602" stop-color="#bf3a77"/><stop offset="0.657" stop-color="#d9466b"/><stop offset="0.702" stop-color="#fc8961"/><stop offset="0.729" stop-color="#fec88c"/><stop offset="0.757" stop-color="#fde0a1"/><stop offset="0.793" stop-color="#fde5a7"/><stop offset="0.812" stop-color="#feca8d"/><stop offset="0.839" stop-color="#f97b5d"/><stop offset="0.857" stop-color="#ca3e72"/><stop offset="0.884" stop-color="#9b2e7f"/><stop offset="0.921" stop-color="#842681"/><stop offset="0.967" stop-color="#721f81"/><stop offset="1" stop-color="#641a80"/></linearGradient><linearGradient id="e16" x1="0" y1="0" x2="0" y2="1"><stop offset="0" stop-color="#51127c"/><stop offset="0.046" stop-color="#782281"/><stop offset="0.137" stop-color="#842681"/><stop offset="0.182" stop-color="#7c2382"/><stop offset="0.219" stop-color="#621980"/><stop offset="0.264" stop-color="#2f1163"/><stop offset="0.301" stop-color="#1a1042"/><stop offset="0.52" stop-color="#4e117b"/><stop offset="0.538" stop-color="#621980"/><stop offset="0.565" stop-color="#912b81"/><stop offset="0.602" stop-color="#b73779"/><stop offset="0.657" stop-color="#cd4071"/><stop offset="0.702" stop-color="#fa815f"/><stop offset="0.729" stop-color="#fec287"/><stop offset="0.748" stop-color="#fecf92"/><stop offset="0.793" stop-color="#fecd90"/><stop offset="0.812" stop-color="#feb67c"/><stop offset="0.839" stop-color="#f66e5c"/><stop offset="0.857" stop-color="#c03a76"/><stop offset="0.884" stop-color="#982d80"/><stop offset="0.976" stop-color="#6a1c81"/><stop offset="1" stop-color="#641a80"/></linearGradient><mask id="me0" maskUnits="userSpaceOnUse" x="281" y="411.5" width="172" height="329"><path d="M281,420.5L283.7,420.5L286.4,420.5L289.1,420.4L291.8,420.3L294.4,420.2L297.1,420.1L299.8,420L302.5,419.8L305.2,419.7L307.9,419.5L310.6,419.3L313.2,419.2L315.9,419L318.6,418.7L321.3,418.4L324,418L326.7,417.6L329.4,417.1L332.1,416.7L334.8,416.3L337.4,415.9L340.1,415.6L342.8,415.4L345.5,415.1L348.2,414.9L350.9,414.7L353.6,414.5L356.2,414.3L358.9,414.2L361.6,414.1L364.3,414L367,414L369.7,414L372.4,414.1L375.1,414.2L377.8,414.3L380.4,414.5L383.1,414.7L385.8,414.9L388.5,415.1L391.2,415.4L393.9,415.6L396.6,415.9L399.2,416.3L401.9,416.7L404.6,417.1L407.3,417.6L410,418L412.7,418.4L415.4,418.7L418.1,419L420.8,419.2L423.4,419.3L426.1,419.5L428.8,419.7L431.5,419.8L434.2,420L436.9,420.1L439.6,420.2L442.2,420.3L444.9,420.4L447.6,420.5L450.3,420.5L453,420.5L453,440.6L450.3,440.6L447.6,440.8L444.9,440.9L442.2,441.2L439.6,441.4L436.9,441.6L434.2,441.8L431.5,442.1L428.8,442.3L426.1,442.6L423.4,442.9L420.8,443.2L418.1,443.4L415.4,443.6L412.7,443.8L410,443.7L407.3,443.4L404.6,443L401.9,442.5L399.2,441.8L396.6,440.8L393.9,439.5L391.2,438.1L388.5,436.7L385.8,435.5L383.1,434.5L380.4,433.6L377.8,432.7L375.1,431.9L372.4,431.2L369.7,430.8L367,430.6L364.3,430.8L361.6,431.2L358.9,431.9L356.2,432.7L353.6,433.6L350.9,434.5L348.2,435.5L345.5,436.7L342.8,438.1L340.1,439.5L337.4,440.8L334.8,441.8L332.1,442.5L329.4,443L326.7,443.4L324,443.7L321.3,443.8L318.6,443.6L315.9,443.4L313.2,443.2L310.6,442.9L307.9,442.6L305.2,442.3L302.5,442.1L299.8,441.8L297.1,441.6L294.4,441.4L291.8,441.2L289.1,440.9L286.4,440.8L283.7,440.6L281,440.6Z" fill="#fff"/><path d="M393.9,425.2L396.6,425.9L399.2,426.5L401.9,427L404.6,427.5L407.3,427.9L410,428.3L412.7,428.5L415.4,428.7L418.1,428.7L420.8,428.8L423.4,428.8L426.1,428.8L428.8,428.8L431.5,428.7L434.2,428.7" fill="none" stroke="#000" stroke-opacity="0.5" stroke-width="0.4" stroke-linecap="round"/><path d="M299.8,428.7L302.5,428.7L305.2,428.8L307.9,428.8L310.6,428.8L313.2,428.8L315.9,428.7L318.6,428.7L321.3,428.5L324,428.3L326.7,427.9L329.4,427.5L332.1,427L334.8,426.5L337.4,425.9L340.1,425.2" fill="none" stroke="#000" stroke-opacity="0.5" stroke-width="0.4" stroke-linecap="round"/><path d="M393.9,427.6L396.6,428.4L399.2,429.1L401.9,429.6L404.6,430.1L407.3,430.5L410,430.8L412.7,431.1L415.4,431.2L418.1,431.2L420.8,431.2L423.4,431.1L426.1,431.1L428.8,431L431.5,431L434.2,430.9" fill="none" stroke="#000" stroke-opacity="0.5" stroke-width="0.4" stroke-linecap="round"/><path d="M299.8,430.9L302.5,431L305.2,431L307.9,431.1L310.6,431.1L313.2,431.2L315.9,431.2L318.6,431.2L321.3,431.1L324,430.8L326.7,430.5L329.4,430.1L332.1,429.6L334.8,429.1L337.4,428.4L340.1,427.6" fill="none" stroke="#000" stroke-opacity="0.5" stroke-width="0.4" stroke-linecap="round"/><path d="M396.6,430.8L399.2,431.6L401.9,432.2L404.6,432.6L407.3,433.1L410,433.4L412.7,433.6L415.4,433.7L418.1,433.6L420.8,433.6L423.4,433.5L426.1,433.4L428.8,433.3L431.5,433.2" fill="none" stroke="#000" stroke-opacity="0.5" stroke-width="0.4" stroke-linecap="round"/><path d="M302.5,433.2L305.2,433.3L307.9,433.4L310.6,433.5L313.2,433.6L315.9,433.6L318.6,433.7L321.3,433.6L324,433.4L326.7,433.1L329.4,432.6L332.1,432.2L334.8,431.6L337.4,430.8" fill="none" stroke="#000" stroke-opacity="0.5" stroke-width="0.4" stroke-linecap="round"/></mask><mask id="me1" maskUnits="userSpaceOnUse" x="281" y="411.5" width="172" height="329"><path d="M281,539.6L283.7,539.2L286.4,538L289.1,536.3L291.8,534.4L294.4,532.5L297.1,530.4L299.8,528.1L302.5,525.6L305.2,523.1L307.9,520.6L310.6,517.8L313.2,514.9L315.9,512.2L318.6,509.8L321.3,507.9L324,506.1L326.7,504.5L329.4,503.3L332.1,502.7L334.8,502.7L337.4,503L340.1,503.5L342.8,504.2L345.5,505.1L348.2,506.4L350.9,507.7L353.6,509L356.2,510.1L358.9,510.9L361.6,511.7L364.3,512.4L367,512.8L369.7,512.4L372.4,511.7L375.1,510.9L377.8,510.1L380.4,509L383.1,507.7L385.8,506.4L388.5,505.1L391.2,504.2L393.9,503.5L396.6,503L399.2,502.7L401.9,502.7L404.6,503.3L407.3,504.5L410,506.1L412.7,507.9L415.4,509.8L418.1,512.2L420.8,514.9L423.4,517.8L426.1,520.6L428.8,523.1L431.5,525.6L434.2,528.1L436.9,530.4L439.6,532.5L442.2,534.4L444.9,536.3L447.6,538L450.3,539.2L453,539.6L453,549.1L450.3,549L447.6,548.8L444.9,548.6L442.2,548.3L439.6,547.9L436.9,547.5L434.2,546.9L431.5,546.1L428.8,545.2L426.1,544.1L423.4,542.8L420.8,541.3L418.1,539.6L415.4,538L412.7,536.3L410,534.8L407.3,533.3L404.6,531.8L401.9,530.3L399.2,529L396.6,527.8L393.9,526.8L391.2,525.8L388.5,525L385.8,524.2L383.1,523.6L380.4,523.1L377.8,522.7L375.1,522.4L372.4,522.1L369.7,521.9L367,521.8L364.3,521.9L361.6,522.1L358.9,522.4L356.2,522.7L353.6,523.1L350.9,523.6L348.2,524.2L345.5,525L342.8,525.8L340.1,526.8L337.4,527.8L334.8,529L332.1,530.3L329.4,531.8L326.7,533.3L324,534.8L321.3,536.3L318.6,538L315.9,539.6L313.2,541.3L310.6,542.8L307.9,544.1L305.2,545.2L302.5,546.1L299.8,546.9L297.1,547.5L294.4,547.9L291.8,548.3L289.1,548.6L286.4,548.8L283.7,549L281,549.1Z" fill="#fff"/><path d="M380.4,511.1L383.1,510.1L385.8,509L388.5,508.1L391.2,507.4L393.9,507L396.6,506.7L399.2,506.6L401.9,506.9L404.6,507.6L407.3,508.8L410,510.4L412.7,512.1L415.4,514L418.1,516.3" fill="none" stroke="#000" stroke-opacity="1" stroke-width="0.8" stroke-linecap="round"/><path d="M315.9,516.3L318.6,514L321.3,512.1L324,510.4L326.7,508.8L329.4,507.6L332.1,506.9L334.8,506.6L337.4,506.7L340.1,507L342.8,507.4L345.5,508.1L348.2,509L350.9,510.1L353.6,511.1" fill="none" stroke="#000" stroke-opacity="1" stroke-width="0.8" stroke-linecap="round"/><path d="M383.1,511.7L385.8,510.8L388.5,510.1L391.2,509.6L393.9,509.3L396.6,509.2L399.2,509.3L401.9,509.6L404.6,510.5L407.3,511.7L410,513.3L412.7,515L415.4,516.8L418.1,519.1L420.8,521.5" fill="none" stroke="#000" stroke-opacity="1" stroke-width="0.8" stroke-linecap="round"/><path d="M313.2,521.5L315.9,519.1L318.6,516.8L321.3,515L324,513.3L326.7,511.7L329.4,510.5L332.1,509.6L334.8,509.3L337.4,509.2L340.1,509.3L342.8,509.6L345.5,510.1L348.2,510.8L350.9,511.7" fill="none" stroke="#000" stroke-opacity="1" stroke-width="0.8" stroke-linecap="round"/><path d="M385.8,512.6L388.5,512.1L391.2,511.8L393.9,511.6L396.6,511.6L399.2,511.9L401.9,512.4L404.6,513.3L407.3,514.6L410,516.1L412.7,517.8L415.4,519.7L418.1,521.8L420.8,524.2" fill="none" stroke="#000" stroke-opacity="1" stroke-width="0.8" stroke-linecap="round"/><path d="M313.2,524.2L315.9,521.8L318.6,519.7L321.3,517.8L324,516.1L326.7,514.6L329.4,513.3L332.1,512.4L334.8,511.9L337.4,511.6L340.1,511.6L342.8,511.8L345.5,512.1L348.2,512.6" fill="none" stroke="#000" stroke-opacity="1" stroke-width="0.8" stroke-linecap="round"/><path d="M388.5,514.1L391.2,513.9L393.9,513.9L396.6,514.1L399.2,514.5L401.9,515.2L404.6,516.2L407.3,517.5L410,519L412.7,520.7L415.4,522.5L418.1,524.5" fill="none" stroke="#000" stroke-opacity="1" stroke-width="0.7" stroke-linecap="round"/><path d="M315.9,524.5L318.6,522.5L321.3,520.7L324,519L326.7,517.5L329.4,516.2L332.1,515.2L334.8,514.5L337.4,514.1L340.1,513.9L342.8,513.9L345.5,514.1" fill="none" stroke="#000" stroke-opacity="1" stroke-width="0.7" stroke-linecap="round"/><path d="M388.5,516L391.2,516.1L393.9,516.3L396.6,516.6L399.2,517.1L401.9,517.9L404.6,519L407.3,520.4L410,521.9L412.7,523.5L415.4,525.3L418.1,527.3" fill="none" stroke="#000" stroke-opacity="1" stroke-width="0.6" stroke-linecap="round"/><path d="M315.9,527.3L318.6,525.3L321.3,523.5L324,521.9L326.7,520.4L329.4,519L332.1,517.9L334.8,517.1L337.4,516.6L340.1,516.3L342.8,516.1L345.5,516" fill="none" stroke="#000" stroke-opacity="1" stroke-width="0.6" stroke-linecap="round"/></mask><clipPath id="cpf"><rect x="511" y="411.5" width="172.5" height="329"/></clipPath><linearGradient id="f0" x1="0" y1="0" x2="0" y2="1"><stop offset="0" stop-color="#440f76"/><stop offset="0.201" stop-color="#3d0f71"/><stop offset="0.274" stop-color="#2a115c"/><stop offset="0.31" stop-color="#1a1042"/><stop offset="0.337" stop-color="#21114e"/><stop offset="0.465" stop-color="#331067"/><stop offset="0.547" stop-color="#3f0f72"/><stop offset="0.565" stop-color="#451077"/><stop offset="0.593" stop-color="#641a80"/><stop offset="0.684" stop-color="#5c167f"/><stop offset="0.775" stop-color="#451077"/><stop offset="0.83" stop-color="#51127c"/><stop offset="0.93" stop-color="#51127c"/><stop offset="1" stop-color="#59157e"/></linearGradient><linearGradient id="f1" x1="0" y1="0" x2="0" y2="1"><stop offset="0" stop-color="#440f76"/><stop offset="0.173" stop-color="#3d0f71"/><stop offset="0.219" stop-color="#420f75"/><stop offset="0.274" stop-color="#311165"/><stop offset="0.301" stop-color="#1c1044"/><stop offset="0.374" stop-color="#251255"/><stop offset="0.474" stop-color="#3b0f70"/><stop offset="0.502" stop-color="#420f75"/><stop offset="0.538" stop-color="#331067"/><stop offset="0.62" stop-color="#451077"/><stop offset="0.684" stop-color="#641a80"/><stop offset="0.739" stop-color="#6b1d81"/><stop offset="0.766" stop-color="#782281"/><stop offset="0.793" stop-color="#641a80"/><stop offset="0.83" stop-color="#451077"/><stop offset="0.948" stop-color="#491078"/><stop offset="1" stop-color="#51127c"/></linearGradient><linearGradient id="f2" x1="0" y1="0" x2="0" y2="1"><stop offset="0" stop-color="#3f0f72"/><stop offset="0.164" stop-color="#3d0f71"/><stop offset="0.21" stop-color="#4f127b"/><stop offset="0.255" stop-color="#440f76"/><stop offset="0.319" stop-color="#331067"/><stop offset="0.337" stop-color="#3d0f71"/><stop offset="0.356" stop-color="#400f74"/><stop offset="0.456" stop-color="#3b0f70"/><stop offset="0.547" stop-color="#51127c"/><stop offset="0.657" stop-color="#6d1d81"/><stop offset="0.684" stop-color="#782281"/><stop offset="0.72" stop-color="#51127c"/><stop offset="0.739" stop-color="#651a80"/><stop offset="0.757" stop-color="#842681"/><stop offset="0.766" stop-color="#8c2981"/><stop offset="0.784" stop-color="#792282"/><stop offset="0.821" stop-color="#341069"/><stop offset="0.83" stop-color="#29115a"/><stop offset="0.857" stop-color="#2f1163"/><stop offset="0.912" stop-color="#440f76"/><stop offset="1" stop-color="#440f76"/></linearGradient><linearGradient id="f3" x1="0" y1="0" x2="0" y2="1"><stop offset="0" stop-color="#3b0f70"/><stop offset="0.155" stop-color="#3b0f70"/><stop offset="0.21" stop-color="#782281"/><stop offset="0.292" stop-color="#59157e"/><stop offset="0.319" stop-color="#51127c"/><stop offset="0.465" stop-color="#440f76"/><stop offset="0.593" stop-color="#3b0f70"/><stop offset="0.62" stop-color="#4e117b"/><stop offset="0.647" stop-color="#752181"/><stop offset="0.675" stop-color="#bf3a77"/><stop offset="0.702" stop-color="#d8456c"/><stop offset="0.729" stop-color="#db476a"/><stop offset="0.775" stop-color="#932b80"/><stop offset="0.812" stop-color="#51127c"/><stop offset="0.83" stop-color="#3d0f71"/><stop offset="1" stop-color="#3b0f70"/></linearGradient><linearGradient id="f4" x1="0" y1="0" x2="0" y2="1"><stop offset="0" stop-color="#3b0f70"/><stop offset="0.155" stop-color="#331067"/><stop offset="0.173" stop-color="#4e117b"/><stop offset="0.201" stop-color="#862781"/><stop offset="0.219" stop-color="#982d80"/><stop offset="0.255" stop-color="#ad347c"/><stop offset="0.274" stop-color="#a3307e"/><stop offset="0.347" stop-color="#641a80"/><stop offset="0.465" stop-color="#3b0f70"/><stop offset="0.502" stop-color="#3d0f71"/><stop offset="0.538" stop-color="#51127c"/><stop offset="0.593" stop-color="#51127c"/><stop offset="0.611" stop-color="#641a80"/><stop offset="0.647" stop-color="#b83779"/><stop offset="0.666" stop-color="#ea5661"/><stop offset="0.675" stop-color="#f4695c"/><stop offset="0.684" stop-color="#f7705c"/><stop offset="0.693" stop-color="#f2645c"/><stop offset="0.729" stop-color="#a3307e"/><stop offset="0.757" stop-color="#6e1e81"/><stop offset="0.793" stop-color="#59157e"/><stop offset="0.821" stop-color="#471078"/><stop offset="0.848" stop-color="#390f6e"/><stop offset="0.948" stop-color="#2f1163"/><stop offset="1" stop-color="#331067"/></linearGradient><linearGradient id="f5" x1="0" y1="0" x2="0" y2="1"><stop offset="0" stop-color="#36106b"/><stop offset="0.155" stop-color="#2d1161"/><stop offset="0.21" stop-color="#621980"/><stop offset="0.237" stop-color="#6b1d81"/><stop offset="0.246" stop-color="#7c2382"/><stop offset="0.255" stop-color="#9b2e7f"/><stop offset="0.283" stop-color="#c73d73"/><stop offset="0.31" stop-color="#d6456c"/><stop offset="0.337" stop-color="#d2426f"/><stop offset="0.356" stop-color="#b83779"/><stop offset="0.383" stop-color="#812581"/><stop offset="0.438" stop-color="#4a1079"/><stop offset="0.492" stop-color="#440f76"/><stop offset="0.538" stop-color="#471078"/><stop offset="0.556" stop-color="#601880"/><stop offset="0.593" stop-color="#641a80"/><stop offset="0.602" stop-color="#752181"/><stop offset="0.629" stop-color="#ef5d5e"/><stop offset="0.638" stop-color="#f7705c"/><stop offset="0.657" stop-color="#f1605d"/><stop offset="0.684" stop-color="#c73d73"/><stop offset="0.711" stop-color="#762181"/><stop offset="0.729" stop-color="#5a167e"/><stop offset="0.766" stop-color="#440f76"/><stop offset="0.83" stop-color="#3d0f71"/><stop offset="0.939" stop-color="#2f1163"/><stop offset="1" stop-color="#331067"/></linearGradient><linearGradient id="f6" x1="0" y1="0" x2="0" y2="1"><stop offset="0" stop-color="#331067"/><stop offset="0.164" stop-color="#271258"/><stop offset="0.274" stop-color="#681c81"/><stop offset="0.292" stop-color="#862781"/><stop offset="0.31" stop-color="#bd3977"/><stop offset="0.319" stop-color="#d0416f"/><stop offset="0.328" stop-color="#d6456c"/><stop offset="0.347" stop-color="#c83e73"/><stop offset="0.383" stop-color="#802582"/><stop offset="0.401" stop-color="#671b80"/><stop offset="0.41" stop-color="#641a80"/><stop offset="0.456" stop-color="#942c80"/><stop offset="0.502" stop-color="#a02f7f"/><stop offset="0.538" stop-color="#962c80"/><stop offset="0.602" stop-color="#bf3a77"/><stop offset="0.629" stop-color="#db476a"/><stop offset="0.638" stop-color="#de4968"/><stop offset="0.647" stop-color="#d6456c"/><stop offset="0.684" stop-color="#752181"/><stop offset="0.711" stop-color="#400f74"/><stop offset="0.757" stop-color="#3b0f70"/><stop offset="0.866" stop-color="#341069"/><stop offset="0.967" stop-color="#311165"/><stop offset="1" stop-color="#331067"/></linearGradient><linearGradient id="f7" x1="0" y1="0" x2="0" y2="1"><stop offset="0" stop-color="#2d1161"/><stop offset="0.182" stop-color="#29115a"/><stop offset="0.283" stop-color="#3b0f70"/><stop offset="0.31" stop-color="#3d0f71"/><stop offset="0.328" stop-color="#54137d"/><stop offset="0.347" stop-color="#e34e65"/><stop offset="0.365" stop-color="#fc8a62"/><stop offset="0.383" stop-color="#fea772"/><stop offset="0.438" stop-color="#fec68a"/><stop offset="0.492" stop-color="#feb77e"/><stop offset="0.529" stop-color="#fc8c63"/><stop offset="0.565" stop-color="#d9466b"/><stop offset="0.602" stop-color="#a5317e"/><stop offset="0.638" stop-color="#641a80"/><stop offset="0.675" stop-color="#451077"/><stop offset="0.729" stop-color="#4f127b"/><stop offset="0.821" stop-color="#3b0f70"/><stop offset="0.948" stop-color="#2f1163"/><stop offset="1" stop-color="#331067"/></linearGradient><linearGradient id="f8" x1="0" y1="0" x2="0" y2="1"><stop offset="0" stop-color="#2d1161"/><stop offset="0.274" stop-color="#271258"/><stop offset="0.347" stop-color="#3b0f70"/><stop offset="0.41" stop-color="#671b80"/><stop offset="0.429" stop-color="#c53c74"/><stop offset="0.447" stop-color="#e95462"/><stop offset="0.465" stop-color="#ec5860"/><stop offset="0.502" stop-color="#d5446d"/><stop offset="0.556" stop-color="#7e2482"/><stop offset="0.657" stop-color="#2f1163"/><stop offset="0.684" stop-color="#251255"/><stop offset="0.72" stop-color="#3b0f70"/><stop offset="0.793" stop-color="#2d1161"/><stop offset="1" stop-color="#331067"/></linearGradient><linearGradient id="f9" x1="0" y1="0" x2="0" y2="1"><stop offset="0" stop-color="#2d1161"/><stop offset="0.182" stop-color="#29115a"/><stop offset="0.283" stop-color="#420f75"/><stop offset="0.328" stop-color="#641a80"/><stop offset="0.347" stop-color="#651a80"/><stop offset="0.356" stop-color="#a3307e"/><stop offset="0.365" stop-color="#f8745c"/><stop offset="0.374" stop-color="#feca8d"/><stop offset="0.392" stop-color="#fcf0b2"/><stop offset="0.41" stop-color="#fcfdbf"/><stop offset="0.474" stop-color="#fceeb0"/><stop offset="0.529" stop-color="#fed194"/><stop offset="0.538" stop-color="#fec488"/><stop offset="0.565" stop-color="#f2625d"/><stop offset="0.584" stop-color="#ab337c"/><stop offset="0.602" stop-color="#752181"/><stop offset="0.62" stop-color="#4e117b"/><stop offset="0.638" stop-color="#3b0f70"/><stop offset="0.729" stop-color="#420f75"/><stop offset="0.775" stop-color="#331067"/><stop offset="1" stop-color="#331067"/></linearGradient><linearGradient id="f10" x1="0" y1="0" x2="0" y2="1"><stop offset="0" stop-color="#331067"/><stop offset="0.155" stop-color="#251255"/><stop offset="0.21" stop-color="#4f127b"/><stop offset="0.246" stop-color="#52137c"/><stop offset="0.274" stop-color="#732081"/><stop offset="0.319" stop-color="#d2426f"/><stop offset="0.328" stop-color="#d6456c"/><stop offset="0.356" stop-color="#ca3e72"/><stop offset="0.374" stop-color="#ca3e72"/><stop offset="0.383" stop-color="#c23b75"/><stop offset="0.401" stop-color="#942c80"/><stop offset="0.41" stop-color="#8c2981"/><stop offset="0.429" stop-color="#c73d73"/><stop offset="0.456" stop-color="#ed5a5f"/><stop offset="0.502" stop-color="#f9785d"/><stop offset="0.547" stop-color="#febd82"/><stop offset="0.556" stop-color="#fecc8f"/><stop offset="0.565" stop-color="#fecd90"/><stop offset="0.584" stop-color="#fea571"/><stop offset="0.602" stop-color="#f1605d"/><stop offset="0.62" stop-color="#9e2f7f"/><stop offset="0.629" stop-color="#782281"/><stop offset="0.638" stop-color="#641a80"/><stop offset="0.739" stop-color="#3f0f72"/><stop offset="0.875" stop-color="#331067"/><stop offset="1" stop-color="#331067"/></linearGradient><linearGradient id="f11" x1="0" y1="0" x2="0" y2="1"><stop offset="0" stop-color="#36106b"/><stop offset="0.155" stop-color="#2d1161"/><stop offset="0.21" stop-color="#621980"/><stop offset="0.237" stop-color="#6b1d81"/><stop offset="0.246" stop-color="#7b2382"/><stop offset="0.264" stop-color="#b0357b"/><stop offset="0.283" stop-color="#d3436e"/><stop offset="0.31" stop-color="#de4968"/><stop offset="0.347" stop-color="#de4968"/><stop offset="0.356" stop-color="#d2426f"/><stop offset="0.374" stop-color="#a3307e"/><stop offset="0.41" stop-color="#762181"/><stop offset="0.456" stop-color="#641a80"/><stop offset="0.492" stop-color="#782281"/><stop offset="0.52" stop-color="#9e2f7f"/><stop offset="0.538" stop-color="#c73d73"/><stop offset="0.556" stop-color="#f3655c"/><stop offset="0.584" stop-color="#fb8560"/><stop offset="0.602" stop-color="#fb835f"/><stop offset="0.638" stop-color="#de4968"/><stop offset="0.675" stop-color="#862781"/><stop offset="0.711" stop-color="#56147d"/><stop offset="0.766" stop-color="#440f76"/><stop offset="0.83" stop-color="#3d0f71"/><stop offset="0.948" stop-color="#2f1163"/><stop offset="1" stop-color="#331067"/></linearGradient><linearGradient id="f12" x1="0" y1="0" x2="0" y2="1"><stop offset="0" stop-color="#3b0f70"/><stop offset="0.164" stop-color="#36106b"/><stop offset="0.21" stop-color="#6d1d81"/><stop offset="0.237" stop-color="#a02f7f"/><stop offset="0.255" stop-color="#982d80"/><stop offset="0.283" stop-color="#651a80"/><stop offset="0.328" stop-color="#651a80"/><stop offset="0.347" stop-color="#782281"/><stop offset="0.447" stop-color="#3d0f71"/><stop offset="0.538" stop-color="#3d0f71"/><stop offset="0.593" stop-color="#651a80"/><stop offset="0.611" stop-color="#892881"/><stop offset="0.657" stop-color="#fc8961"/><stop offset="0.675" stop-color="#fec88c"/><stop offset="0.684" stop-color="#fecd90"/><stop offset="0.693" stop-color="#feac76"/><stop offset="0.711" stop-color="#ca3e72"/><stop offset="0.72" stop-color="#a1307e"/><stop offset="0.748" stop-color="#6d1d81"/><stop offset="0.775" stop-color="#59157e"/><stop offset="0.921" stop-color="#2d1161"/><stop offset="1" stop-color="#331067"/></linearGradient><linearGradient id="f13" x1="0" y1="0" x2="0" y2="1"><stop offset="0" stop-color="#3b0f70"/><stop offset="0.182" stop-color="#400f74"/><stop offset="0.219" stop-color="#59157e"/><stop offset="0.237" stop-color="#782281"/><stop offset="0.246" stop-color="#721f81"/><stop offset="0.283" stop-color="#3b0f70"/><stop offset="0.52" stop-color="#400f74"/><stop offset="0.574" stop-color="#51127c"/><stop offset="0.611" stop-color="#59157e"/><stop offset="0.638" stop-color="#782281"/><stop offset="0.647" stop-color="#932b80"/><stop offset="0.666" stop-color="#e95462"/><stop offset="0.675" stop-color="#f9795d"/><stop offset="0.684" stop-color="#fc8961"/><stop offset="0.72" stop-color="#fc8961"/><stop offset="0.729" stop-color="#f9795d"/><stop offset="0.748" stop-color="#cc3f71"/><stop offset="0.757" stop-color="#a6317d"/><stop offset="0.766" stop-color="#8e2a81"/><stop offset="0.812" stop-color="#5c167f"/><stop offset="0.848" stop-color="#491078"/><stop offset="0.948" stop-color="#3b0f70"/><stop offset="1" stop-color="#3b0f70"/></linearGradient><linearGradient id="f14" x1="0" y1="0" x2="0" y2="1"><stop offset="0" stop-color="#3f0f72"/><stop offset="0.237" stop-color="#3b0f70"/><stop offset="0.255" stop-color="#271258"/><stop offset="0.292" stop-color="#221150"/><stop offset="0.31" stop-color="#1c1044"/><stop offset="0.429" stop-color="#331067"/><stop offset="0.474" stop-color="#390f6e"/><stop offset="0.547" stop-color="#5c167f"/><stop offset="0.584" stop-color="#641a80"/><stop offset="0.647" stop-color="#681c81"/><stop offset="0.693" stop-color="#932b80"/><stop offset="0.766" stop-color="#b5367a"/><stop offset="0.775" stop-color="#b0357b"/><stop offset="0.812" stop-color="#651a80"/><stop offset="0.839" stop-color="#4f127b"/><stop offset="0.967" stop-color="#440f76"/><stop offset="1" stop-color="#440f76"/></linearGradient><linearGradient id="f15" x1="0" y1="0" x2="0" y2="1"><stop offset="0" stop-color="#440f76"/><stop offset="0.228" stop-color="#36106b"/><stop offset="0.274" stop-color="#241253"/><stop offset="0.31" stop-color="#1c1044"/><stop offset="0.328" stop-color="#221150"/><stop offset="0.347" stop-color="#3b0f70"/><stop offset="0.41" stop-color="#331067"/><stop offset="0.465" stop-color="#38106c"/><stop offset="0.492" stop-color="#4f127b"/><stop offset="0.565" stop-color="#59157e"/><stop offset="0.693" stop-color="#601880"/><stop offset="0.72" stop-color="#51127c"/><stop offset="0.775" stop-color="#641a80"/><stop offset="0.821" stop-color="#5f187f"/><stop offset="0.839" stop-color="#4f127b"/><stop offset="0.939" stop-color="#451077"/><stop offset="1" stop-color="#51127c"/></linearGradient><linearGradient id="f16" x1="0" y1="0" x2="0" y2="1"><stop offset="0" stop-color="#440f76"/><stop offset="0.191" stop-color="#3d0f71"/><stop offset="0.283" stop-color="#341069"/><stop offset="0.31" stop-color="#251255"/><stop offset="0.328" stop-color="#251255"/><stop offset="0.347" stop-color="#3b0f70"/><stop offset="0.41" stop-color="#331067"/><stop offset="0.456" stop-color="#3b0f70"/><stop offset="0.492" stop-color="#4f127b"/><stop offset="0.657" stop-color="#57157e"/><stop offset="0.739" stop-color="#6d1d81"/><stop offset="0.775" stop-color="#762181"/><stop offset="0.821" stop-color="#5c167f"/><stop offset="0.848" stop-color="#4e117b"/><stop offset="1" stop-color="#59157e"/></linearGradient><mask id="mf1" maskUnits="userSpaceOnUse" x="511" y="411.5" width="172.5" height="329"><path d="M511,559.2L513.7,558.6L516.4,557.1L519.1,555.4L521.8,553.2L524.5,550.7L527.2,548.1L529.9,545.4L532.6,542.5L535.3,539.6L538,536.6L540.6,533.6L543.3,530.6L546,527.6L548.7,525.3L551.4,523.5L554.1,522L556.8,520.7L559.5,519.4L562.2,518.4L564.9,517.9L567.6,518.2L570.3,519L573,520.1L575.7,521.3L578.4,522.9L581.1,524.5L583.8,525.8L586.5,526.7L589.2,527.5L591.9,528.1L594.6,528.6L597.2,528.8L599.9,528.6L602.6,528.1L605.3,527.5L608,526.7L610.7,525.8L613.4,524.5L616.1,522.9L618.8,521.3L621.5,520.1L624.2,519L626.9,518.2L629.6,517.9L632.3,518.4L635,519.4L637.7,520.7L640.4,522L643.1,523.5L645.8,525.3L648.5,527.6L651.2,530.6L653.9,533.6L656.5,536.6L659.2,539.6L661.9,542.5L664.6,545.4L667.3,548.1L670,550.7L672.7,553.2L675.4,555.4L678.1,557.1L680.8,558.6L683.5,559.2L683.5,570L680.8,569.8L678.1,569.3L675.4,568.6L672.7,567.9L670,566.9L667.3,565.8L664.6,564.6L661.9,563.5L659.2,562.4L656.5,561.2L653.9,560L651.2,558.8L648.5,557.5L645.8,556.1L643.1,554.7L640.4,553.2L637.7,551.7L635,550.1L632.3,548.6L629.6,547.1L626.9,545.5L624.2,543.8L621.5,542.3L618.8,540.9L616.1,539.7L613.4,538.6L610.7,537.8L608,537.2L605.3,537L602.6,536.8L599.9,536.7L597.2,536.6L594.6,536.7L591.9,536.8L589.2,537L586.5,537.2L583.8,537.8L581.1,538.6L578.4,539.7L575.7,540.9L573,542.3L570.3,543.8L567.6,545.5L564.9,547.1L562.2,548.6L559.5,550.1L556.8,551.7L554.1,553.2L551.4,554.7L548.7,556.1L546,557.5L543.3,558.8L540.6,560L538,561.2L535.3,562.4L532.6,563.5L529.9,564.6L527.2,565.8L524.5,566.9L521.8,567.9L519.1,568.6L516.4,569.3L513.7,569.8L511,570Z" fill="#fff"/><path d="M616.1,525.4L618.8,524.3L621.5,523.4L624.2,522.7L626.9,522.3L629.6,522.3L632.3,522.9L635,524L637.7,525.3L640.4,526.7L643.1,528.1L645.8,529.9L648.5,532.1" fill="none" stroke="#000" stroke-opacity="1" stroke-width="0.7" stroke-linecap="round"/><path d="M546,532.1L548.7,529.9L551.4,528.1L554.1,526.7L556.8,525.3L559.5,524L562.2,522.9L564.9,522.3L567.6,522.3L570.3,522.7L573,523.4L575.7,524.3L578.4,525.4" fill="none" stroke="#000" stroke-opacity="1" stroke-width="0.7" stroke-linecap="round"/><path d="M618.8,526.2L621.5,525.6L624.2,525.2L626.9,525L629.6,525.2L632.3,525.9L635,527.1L637.7,528.4L640.4,529.8L643.1,531.3L645.8,533L648.5,535.1L651.2,537.6" fill="none" stroke="#000" stroke-opacity="1" stroke-width="0.7" stroke-linecap="round"/><path d="M543.3,537.6L546,535.1L548.7,533L551.4,531.3L554.1,529.8L556.8,528.4L559.5,527.1L562.2,525.9L564.9,525.2L567.6,525L570.3,525.2L573,525.6L575.7,526.2" fill="none" stroke="#000" stroke-opacity="1" stroke-width="0.7" stroke-linecap="round"/><path d="M618.8,528.2L621.5,527.9L624.2,527.7L626.9,527.7L629.6,528.1L632.3,529L635,530.1L637.7,531.5L640.4,532.9L643.1,534.4L645.8,536.1L648.5,538.1L651.2,540.4" fill="none" stroke="#000" stroke-opacity="1" stroke-width="0.7" stroke-linecap="round"/><path d="M543.3,540.4L546,538.1L548.7,536.1L551.4,534.4L554.1,532.9L556.8,531.5L559.5,530.1L562.2,529L564.9,528.1L567.6,527.7L570.3,527.7L573,527.9L575.7,528.2" fill="none" stroke="#000" stroke-opacity="1" stroke-width="0.7" stroke-linecap="round"/><path d="M621.5,530.1L624.2,530.2L626.9,530.4L629.6,531L632.3,532L635,533.2L637.7,534.6L640.4,536L643.1,537.5L645.8,539.2L648.5,541" fill="none" stroke="#000" stroke-opacity="1" stroke-width="0.6" stroke-linecap="round"/><path d="M546,541L548.7,539.2L551.4,537.5L554.1,536L556.8,534.6L559.5,533.2L562.2,532L564.9,531L567.6,530.4L570.3,530.2L573,530.1" fill="none" stroke="#000" stroke-opacity="1" stroke-width="0.6" stroke-linecap="round"/><path d="M624.2,532.7L626.9,533.2L629.6,533.9L632.3,535L635,536.3L637.7,537.7L640.4,539.2L643.1,540.6L645.8,542.3L648.5,544" fill="none" stroke="#000" stroke-opacity="1" stroke-width="0.5" stroke-linecap="round"/><path d="M546,544L548.7,542.3L551.4,540.6L554.1,539.2L556.8,537.7L559.5,536.3L562.2,535L564.9,533.9L567.6,533.2L570.3,532.7" fill="none" stroke="#000" stroke-opacity="1" stroke-width="0.5" stroke-linecap="round"/></mask><linearGradient id="cb" x1="0" y1="0" x2="1" y2="0"><stop offset="0%" stop-color="#000004"/><stop offset="5%" stop-color="#06051a"/><stop offset="10%" stop-color="#140e36"/><stop offset="15%" stop-color="#251255"/><stop offset="20%" stop-color="#3b0f70"/><stop offset="25%" stop-color="#51127c"/><stop offset="30%" stop-color="#641a80"/><stop offset="35%" stop-color="#782281"/><stop offset="40%" stop-color="#8c2981"/><stop offset="45%" stop-color="#a1307e"/><stop offset="50%" stop-color="#b73779"/><stop offset="55%" stop-color="#ca3e72"/><stop offset="60%" stop-color="#de4968"/><stop offset="65%" stop-color="#ed5a5f"/><stop offset="70%" stop-color="#f7705c"/><stop offset="75%" stop-color="#fc8961"/><stop offset="80%" stop-color="#fe9f6d"/><stop offset="85%" stop-color="#feb77e"/><stop offset="90%" stop-color="#fecf92"/><stop offset="95%" stop-color="#fde7a9"/><stop offset="100%" stop-color="#fcfdbf"/></linearGradient></defs>
<g clip-path="url(#cpb)"><rect x="281" y="23" width="6.4" height="330" fill="url(#b0)"/><rect x="286.4" y="23" width="11.8" height="330" fill="url(#b1)"/><rect x="297.1" y="23" width="11.8" height="330" fill="url(#b2)"/><rect x="307.9" y="23" width="11.8" height="330" fill="url(#b3)"/><rect x="318.6" y="23" width="11.8" height="330" fill="url(#b4)"/><rect x="329.4" y="23" width="11.8" height="330" fill="url(#b5)"/><rect x="340.1" y="23" width="11.8" height="330" fill="url(#b6)"/><rect x="350.9" y="23" width="11.8" height="330" fill="url(#b7)"/><rect x="361.6" y="23" width="11.8" height="330" fill="url(#b8)"/><rect x="372.4" y="23" width="11.8" height="330" fill="url(#b9)"/><rect x="383.1" y="23" width="11.8" height="330" fill="url(#b10)"/><rect x="393.9" y="23" width="11.8" height="330" fill="url(#b11)"/><rect x="404.6" y="23" width="11.8" height="330" fill="url(#b12)"/><rect x="415.4" y="23" width="11.8" height="330" fill="url(#b13)"/><rect x="426.1" y="23" width="11.8" height="330" fill="url(#b14)"/><rect x="436.9" y="23" width="11.8" height="330" fill="url(#b15)"/><rect x="447.6" y="23" width="5.4" height="330" fill="url(#b16)"/><rect x="281" y="23" width="172" height="330" fill="#a797db" mask="url(#mb0)"/><rect x="281" y="23" width="172" height="330" fill="#a797db" mask="url(#mb1)"/><rect x="281" y="23" width="172" height="330" fill="#a797db" mask="url(#mb2)"/><rect x="281" y="23" width="172" height="330" fill="#a797db" mask="url(#mb3)"/></g><rect x="281" y="23" width="172" height="330" fill="none" stroke="#262626" stroke-width="1"/>
<g clip-path="url(#cpc)"><rect x="511" y="23" width="6.4" height="330" fill="url(#c0)"/><rect x="516.4" y="23" width="11.8" height="330" fill="url(#c1)"/><rect x="527.2" y="23" width="11.8" height="330" fill="url(#c2)"/><rect x="538" y="23" width="11.8" height="330" fill="url(#c3)"/><rect x="548.7" y="23" width="11.8" height="330" fill="url(#c4)"/><rect x="559.5" y="23" width="11.8" height="330" fill="url(#c5)"/><rect x="570.3" y="23" width="11.8" height="330" fill="url(#c6)"/><rect x="581.1" y="23" width="11.8" height="330" fill="url(#c7)"/><rect x="591.9" y="23" width="11.8" height="330" fill="url(#c8)"/><rect x="602.6" y="23" width="11.8" height="330" fill="url(#c9)"/><rect x="613.4" y="23" width="11.8" height="330" fill="url(#c10)"/><rect x="624.2" y="23" width="11.8" height="330" fill="url(#c11)"/><rect x="635" y="23" width="11.8" height="330" fill="url(#c12)"/><rect x="645.8" y="23" width="11.8" height="330" fill="url(#c13)"/><rect x="656.5" y="23" width="11.8" height="330" fill="url(#c14)"/><rect x="667.3" y="23" width="11.8" height="330" fill="url(#c15)"/><rect x="678.1" y="23" width="5.4" height="330" fill="url(#c16)"/><rect x="511" y="23" width="172.5" height="330" fill="#a797db" mask="url(#mc0)"/><rect x="511" y="23" width="172.5" height="330" fill="#a797db" mask="url(#mc1)"/><path d="M511,183L513.7,182.9L516.4,182.7L519.1,182.6L521.8,181.7L524.5,179.9L527.2,178.3L529.9,177L532.6,175.7L535.3,174.6L538,173.6L540.6,172.6L543.3,171.8L546,171.1L548.7,170.4L551.4,169.9L554.1,169.5L556.8,169.2L559.5,169.1L562.2,169L564.9,169L567.6,169.2L570.3,169.5L573,169.8L575.7,170.3L578.4,170.9L581.1,171.6L583.8,172.4L586.5,173.3L589.2,174.3L591.9,175.4L594.6,176.7L597.2,178.5L599.9,176.7L602.6,175.4L605.3,174.3L608,173.3L610.7,172.4L613.4,171.6L616.1,170.9L618.8,170.3L621.5,169.8L624.2,169.5L626.9,169.2L629.6,169L632.3,169L635,169.1L637.7,169.2L640.4,169.5L643.1,169.9L645.8,170.4L648.5,171.1L651.2,171.8L653.9,172.6L656.5,173.6L659.2,174.6L661.9,175.7L664.6,177L667.3,178.3L670,179.9L672.7,181.7L675.4,182.6L678.1,182.7L680.8,182.9L683.5,183" fill="none" stroke="#a797db" stroke-width="4.2"/><path d="M511,184.9L513.7,184.8L516.4,184.6L519.1,184.5L521.8,183.7L524.5,182.3L527.2,181L529.9,179.9L532.6,178.8L535.3,177.9L538,177L540.6,176.3L543.3,175.6L546,175L548.7,174.4L551.4,174L554.1,173.7L556.8,173.4L559.5,173.3L562.2,173.2L564.9,173.2L567.6,173.4L570.3,173.6L573,173.9L575.7,174.3L578.4,174.7L581.1,175.3L583.8,175.9L586.5,176.6L589.2,177.4L591.9,178.4L594.6,179.4L597.2,180.9L599.9,179.4L602.6,178.4L605.3,177.4L608,176.6L610.7,175.9L613.4,175.3L616.1,174.7L618.8,174.3L621.5,173.9L624.2,173.6L626.9,173.4L629.6,173.2L632.3,173.2L635,173.3L637.7,173.4L640.4,173.7L643.1,174L645.8,174.4L648.5,175L651.2,175.6L653.9,176.3L656.5,177L659.2,177.9L661.9,178.8L664.6,179.9L667.3,181L670,182.3L672.7,183.7L675.4,184.5L678.1,184.6L680.8,184.8L683.5,184.9" fill="none" stroke="#a797db" stroke-width="2.1"/><path d="M511,186.4L513.7,186.3L516.4,186.2L519.1,186.1L521.8,185.4L524.5,184.2L527.2,183.2L529.9,182.2L532.6,181.4L535.3,180.6L538,179.9L540.6,179.2L543.3,178.6L546,178.1L548.7,177.7L551.4,177.3L554.1,177L556.8,176.8L559.5,176.7L562.2,176.6L564.9,176.6L567.6,176.7L570.3,176.9L573,177.1L575.7,177.4L578.4,177.8L581.1,178.3L583.8,178.8L586.5,179.4L589.2,180L591.9,180.8L594.6,181.6L597.2,182.9L599.9,181.6L602.6,180.8L605.3,180L608,179.4L610.7,178.8L613.4,178.3L616.1,177.8L618.8,177.4L621.5,177.1L624.2,176.9L626.9,176.7L629.6,176.6L632.3,176.6L635,176.7L637.7,176.8L640.4,177L643.1,177.3L645.8,177.7L648.5,178.1L651.2,178.6L653.9,179.2L656.5,179.9L659.2,180.6L661.9,181.4L664.6,182.2L667.3,183.2L670,184.2L672.7,185.4L675.4,186.1L678.1,186.2L680.8,186.3L683.5,186.4" fill="none" stroke="#a797db" stroke-width="2.1"/><path d="M511,188.2L513.7,188.1L516.4,188L519.1,187.9L521.8,187.4L524.5,186.4L527.2,185.6L529.9,184.9L532.6,184.3L535.3,183.7L538,183.1L540.6,182.6L543.3,182.1L546,181.8L548.7,181.4L551.4,181.1L554.1,180.9L556.8,180.7L559.5,180.6L562.2,180.5L564.9,180.5L567.6,180.6L570.3,180.7L573,180.9L575.7,181.1L578.4,181.4L581.1,181.7L583.8,182.1L586.5,182.5L589.2,183L591.9,183.5L594.6,184.2L597.2,185.1L599.9,184.2L602.6,183.5L605.3,183L608,182.5L610.7,182.1L613.4,181.7L616.1,181.4L618.8,181.1L621.5,180.9L624.2,180.7L626.9,180.6L629.6,180.5L632.3,180.5L635,180.6L637.7,180.7L640.4,180.9L643.1,181.1L645.8,181.4L648.5,181.8L651.2,182.1L653.9,182.6L656.5,183.1L659.2,183.7L661.9,184.3L664.6,184.9L667.3,185.6L670,186.4L672.7,187.4L675.4,187.9L678.1,188L680.8,188.1L683.5,188.2" fill="none" stroke="#a797db" stroke-width="2.1"/><path d="M511,189.8L513.7,189.7L516.4,189.6L519.1,189.6L521.8,189.2L524.5,188.5L527.2,187.9L529.9,187.4L532.6,186.9L535.3,186.5L538,186.1L540.6,185.7L543.3,185.4L546,185.1L548.7,184.8L551.4,184.6L554.1,184.4L556.8,184.3L559.5,184.2L562.2,184.2L564.9,184.1L567.6,184.2L570.3,184.2L573,184.3L575.7,184.5L578.4,184.7L581.1,184.9L583.8,185.1L586.5,185.4L589.2,185.7L591.9,186.1L594.6,186.5L597.2,187.2L599.9,186.5L602.6,186.1L605.3,185.7L608,185.4L610.7,185.1L613.4,184.9L616.1,184.7L618.8,184.5L621.5,184.3L624.2,184.2L626.9,184.2L629.6,184.1L632.3,184.2L635,184.2L637.7,184.3L640.4,184.4L643.1,184.6L645.8,184.8L648.5,185.1L651.2,185.4L653.9,185.7L656.5,186.1L659.2,186.5L661.9,186.9L664.6,187.4L667.3,187.9L670,188.5L672.7,189.2L675.4,189.6L678.1,189.6L680.8,189.7L683.5,189.8" fill="none" stroke="#a797db" stroke-width="2.1"/><path d="M511,191.5L513.7,191.4L516.4,191.3L519.1,191.3L521.8,191L524.5,190.6L527.2,190.3L529.9,190L532.6,189.7L535.3,189.4L538,189.2L540.6,188.9L543.3,188.7L546,188.5L548.7,188.4L551.4,188.2L554.1,188.1L556.8,188L559.5,187.9L562.2,187.9L564.9,187.8L567.6,187.8L570.3,187.9L573,187.9L575.7,187.9L578.4,188L581.1,188.1L583.8,188.2L586.5,188.4L589.2,188.5L591.9,188.7L594.6,189L597.2,189.3L599.9,189L602.6,188.7L605.3,188.5L608,188.4L610.7,188.2L613.4,188.1L616.1,188L618.8,187.9L621.5,187.9L624.2,187.9L626.9,187.8L629.6,187.8L632.3,187.9L635,187.9L637.7,188L640.4,188.1L643.1,188.2L645.8,188.4L648.5,188.5L651.2,188.7L653.9,188.9L656.5,189.2L659.2,189.4L661.9,189.7L664.6,190L667.3,190.3L670,190.6L672.7,191L675.4,191.3L678.1,191.3L680.8,191.4L683.5,191.5" fill="none" stroke="#a797db" stroke-width="2.5"/><path d="M511,192.8L513.7,192.8L516.4,192.7L519.1,192.7L521.8,192.5L524.5,192.4L527.2,192.2L529.9,192L532.6,191.9L535.3,191.8L538,191.7L540.6,191.5L543.3,191.4L546,191.3L548.7,191.2L551.4,191.1L554.1,191.1L556.8,191L559.5,190.9L562.2,190.9L564.9,190.8L567.6,190.8L570.3,190.8L573,190.8L575.7,190.8L578.4,190.8L581.1,190.8L583.8,190.8L586.5,190.8L589.2,190.8L591.9,190.9L594.6,190.9L597.2,191L599.9,190.9L602.6,190.9L605.3,190.8L608,190.8L610.7,190.8L613.4,190.8L616.1,190.8L618.8,190.8L621.5,190.8L624.2,190.8L626.9,190.8L629.6,190.8L632.3,190.9L635,190.9L637.7,191L640.4,191.1L643.1,191.1L645.8,191.2L648.5,191.3L651.2,191.4L653.9,191.5L656.5,191.7L659.2,191.8L661.9,191.9L664.6,192L667.3,192.2L670,192.4L672.7,192.5L675.4,192.7L678.1,192.7L680.8,192.8L683.5,192.8" fill="none" stroke="#a797db" stroke-width="3.2"/><path d="M511,194L513.7,194L516.4,193.9L519.1,193.9L521.8,193.8L524.5,193.9L527.2,193.9L529.9,193.8L532.6,193.8L535.3,193.8L538,193.8L540.6,193.8L543.3,193.8L546,193.7L548.7,193.7L551.4,193.7L554.1,193.6L556.8,193.6L559.5,193.6L562.2,193.5L564.9,193.4L567.6,193.4L570.3,193.3L573,193.3L575.7,193.2L578.4,193.1L581.1,193L583.8,193L586.5,192.9L589.2,192.8L591.9,192.7L594.6,192.6L597.2,192.5L599.9,192.6L602.6,192.7L605.3,192.8L608,192.9L610.7,193L613.4,193L616.1,193.1L618.8,193.2L621.5,193.3L624.2,193.3L626.9,193.4L629.6,193.4L632.3,193.5L635,193.6L637.7,193.6L640.4,193.6L643.1,193.7L645.8,193.7L648.5,193.7L651.2,193.8L653.9,193.8L656.5,193.8L659.2,193.8L661.9,193.8L664.6,193.8L667.3,193.9L670,193.9L672.7,193.8L675.4,193.9L678.1,193.9L680.8,194L683.5,194" fill="none" stroke="#a797db" stroke-width="4"/><path d="M511,236.5L513.7,236.4L516.4,236.2L519.1,236.1L521.8,235.8L524.5,235.3L527.2,234.8L529.9,234.4L532.6,233.9L535.3,233.6L538,233.2L540.6,232.9L543.3,232.6L546,232.3L548.7,232.1L551.4,231.9L554.1,231.7L556.8,231.5L559.5,231.4L562.2,231.3L564.9,231.2L567.6,231.1L570.3,231.1L573,231.1L575.7,231.2L578.4,231.2L581.1,231.3L583.8,231.4L586.5,231.5L589.2,231.7L591.9,231.9L594.6,232.1L597.2,232.5L599.9,232.1L602.6,231.9L605.3,231.7L608,231.5L610.7,231.4L613.4,231.3L616.1,231.2L618.8,231.2L621.5,231.1L624.2,231.1L626.9,231.1L629.6,231.2L632.3,231.3L635,231.4L637.7,231.5L640.4,231.7L643.1,231.9L645.8,232.1L648.5,232.3L651.2,232.6L653.9,232.9L656.5,233.2L659.2,233.6L661.9,233.9L664.6,234.4L667.3,234.8L670,235.3L672.7,235.8L675.4,236.1L678.1,236.2L680.8,236.4L683.5,236.5" fill="none" stroke="#a797db" stroke-width="3.2"/><path d="M511,237.9L513.7,237.8L516.4,237.7L519.1,237.6L521.8,237.4L524.5,237.1L527.2,236.8L529.9,236.6L532.6,236.4L535.3,236.2L538,236L540.6,235.8L543.3,235.6L546,235.4L548.7,235.2L551.4,235.1L554.1,234.9L556.8,234.8L559.5,234.7L562.2,234.6L564.9,234.5L567.6,234.4L570.3,234.3L573,234.2L575.7,234.2L578.4,234.1L581.1,234.1L583.8,234.1L586.5,234.1L589.2,234.1L591.9,234.1L594.6,234.1L597.2,234.2L599.9,234.1L602.6,234.1L605.3,234.1L608,234.1L610.7,234.1L613.4,234.1L616.1,234.1L618.8,234.2L621.5,234.2L624.2,234.3L626.9,234.4L629.6,234.5L632.3,234.6L635,234.7L637.7,234.8L640.4,234.9L643.1,235.1L645.8,235.2L648.5,235.4L651.2,235.6L653.9,235.8L656.5,236L659.2,236.2L661.9,236.4L664.6,236.6L667.3,236.8L670,237.1L672.7,237.4L675.4,237.6L678.1,237.7L680.8,237.8L683.5,237.9" fill="none" stroke="#a797db" stroke-width="3.6"/><path d="M511,239.3L513.7,239.2L516.4,239.1L519.1,239L521.8,238.9L524.5,238.9L527.2,238.8L529.9,238.8L532.6,238.7L535.3,238.7L538,238.6L540.6,238.5L543.3,238.4L546,238.4L548.7,238.3L551.4,238.2L554.1,238.1L556.8,238L559.5,237.9L562.2,237.8L564.9,237.7L567.6,237.5L570.3,237.4L573,237.3L575.7,237.1L578.4,237L581.1,236.8L583.8,236.7L586.5,236.5L589.2,236.4L591.9,236.2L594.6,236L597.2,235.8L599.9,236L602.6,236.2L605.3,236.4L608,236.5L610.7,236.7L613.4,236.8L616.1,237L618.8,237.1L621.5,237.3L624.2,237.4L626.9,237.5L629.6,237.7L632.3,237.8L635,237.9L637.7,238L640.4,238.1L643.1,238.2L645.8,238.3L648.5,238.4L651.2,238.4L653.9,238.5L656.5,238.6L659.2,238.7L661.9,238.7L664.6,238.8L667.3,238.8L670,238.9L672.7,238.9L675.4,239L678.1,239.1L680.8,239.2L683.5,239.3" fill="none" stroke="#a797db" stroke-width="3.6"/><path d="M511,241.8L513.7,241.7L516.4,241.6L519.1,241.5L521.8,241.7L524.5,242.1L527.2,242.4L529.9,242.7L532.6,243L535.3,243.2L538,243.4L540.6,243.5L543.3,243.7L546,243.8L548.7,243.8L551.4,243.8L554.1,243.8L556.8,243.8L559.5,243.7L562.2,243.6L564.9,243.4L567.6,243.2L570.3,243L573,242.8L575.7,242.5L578.4,242.2L581.1,241.8L583.8,241.4L586.5,241L589.2,240.5L591.9,240L594.6,239.5L597.2,238.8L599.9,239.5L602.6,240L605.3,240.5L608,241L610.7,241.4L613.4,241.8L616.1,242.2L618.8,242.5L621.5,242.8L624.2,243L626.9,243.2L629.6,243.4L632.3,243.6L635,243.7L637.7,243.8L640.4,243.8L643.1,243.8L645.8,243.8L648.5,243.8L651.2,243.7L653.9,243.5L656.5,243.4L659.2,243.2L661.9,243L664.6,242.7L667.3,242.4L670,242.1L672.7,241.7L675.4,241.5L678.1,241.6L680.8,241.7L683.5,241.8" fill="none" stroke="#a797db" stroke-width="2.3"/><path d="M511,243.5L513.7,243.4L516.4,243.3L519.1,243.2L521.8,243.5L524.5,244.3L527.2,244.9L529.9,245.4L532.6,245.8L535.3,246.3L538,246.6L540.6,246.9L543.3,247.2L546,247.4L548.7,247.5L551.4,247.6L554.1,247.7L556.8,247.7L559.5,247.6L562.2,247.5L564.9,247.3L567.6,247.1L570.3,246.8L573,246.5L575.7,246.1L578.4,245.6L581.1,245.1L583.8,244.6L586.5,244L589.2,243.3L591.9,242.6L594.6,241.8L597.2,240.8L599.9,241.8L602.6,242.6L605.3,243.3L608,244L610.7,244.6L613.4,245.1L616.1,245.6L618.8,246.1L621.5,246.5L624.2,246.8L626.9,247.1L629.6,247.3L632.3,247.5L635,247.6L637.7,247.7L640.4,247.7L643.1,247.6L645.8,247.5L648.5,247.4L651.2,247.2L653.9,246.9L656.5,246.6L659.2,246.3L661.9,245.8L664.6,245.4L667.3,244.9L670,244.3L672.7,243.5L675.4,243.2L678.1,243.3L680.8,243.4L683.5,243.5" fill="none" stroke="#a797db" stroke-width="2.1"/><path d="M511,245.2L513.7,245.1L516.4,245L519.1,244.9L521.8,245.4L524.5,246.4L527.2,247.3L529.9,248L532.6,248.7L535.3,249.3L538,249.8L540.6,250.3L543.3,250.7L546,251L548.7,251.3L551.4,251.4L554.1,251.5L556.8,251.6L559.5,251.5L562.2,251.4L564.9,251.2L567.6,250.9L570.3,250.6L573,250.1L575.7,249.7L578.4,249.1L581.1,248.5L583.8,247.8L586.5,247L589.2,246.1L591.9,245.2L594.6,244.2L597.2,242.8L599.9,244.2L602.6,245.2L605.3,246.1L608,247L610.7,247.8L613.4,248.5L616.1,249.1L618.8,249.7L621.5,250.1L624.2,250.6L626.9,250.9L629.6,251.2L632.3,251.4L635,251.5L637.7,251.6L640.4,251.5L643.1,251.4L645.8,251.3L648.5,251L651.2,250.7L653.9,250.3L656.5,249.8L659.2,249.3L661.9,248.7L664.6,248L667.3,247.3L670,246.4L672.7,245.4L675.4,244.9L678.1,245L680.8,245.1L683.5,245.2" fill="none" stroke="#a797db" stroke-width="2.1"/><path d="M511,246.9L513.7,246.8L516.4,246.7L519.1,246.7L521.8,247.3L524.5,248.6L527.2,249.7L529.9,250.7L532.6,251.6L535.3,252.4L538,253.1L540.6,253.7L543.3,254.2L546,254.6L548.7,255L551.4,255.2L554.1,255.4L556.8,255.5L559.5,255.4L562.2,255.3L564.9,255.1L567.6,254.8L570.3,254.3L573,253.8L575.7,253.2L578.4,252.6L581.1,251.8L583.8,250.9L586.5,250L589.2,248.9L591.9,247.8L594.6,246.5L597.2,244.8L599.9,246.5L602.6,247.8L605.3,248.9L608,250L610.7,250.9L613.4,251.8L616.1,252.6L618.8,253.2L621.5,253.8L624.2,254.3L626.9,254.8L629.6,255.1L632.3,255.3L635,255.4L637.7,255.5L640.4,255.4L643.1,255.2L645.8,255L648.5,254.6L651.2,254.2L653.9,253.7L656.5,253.1L659.2,252.4L661.9,251.6L664.6,250.7L667.3,249.7L670,248.6L672.7,247.3L675.4,246.7L678.1,246.7L680.8,246.8L683.5,246.9" fill="none" stroke="#a797db" stroke-width="2.1"/><path d="M511,248.5L513.7,248.5L516.4,248.4L519.1,248.4L521.8,249.1L524.5,250.8L527.2,252.2L529.9,253.4L532.6,254.4L535.3,255.4L538,256.3L540.6,257.1L543.3,257.7L546,258.3L548.7,258.7L551.4,259L554.1,259.3L556.8,259.4L559.5,259.3L562.2,259.2L564.9,259L567.6,258.6L570.3,258.1L573,257.5L575.7,256.8L578.4,256L581.1,255.1L583.8,254.1L586.5,253L589.2,251.8L591.9,250.4L594.6,248.8L597.2,246.8L599.9,248.8L602.6,250.4L605.3,251.8L608,253L610.7,254.1L613.4,255.1L616.1,256L618.8,256.8L621.5,257.5L624.2,258.1L626.9,258.6L629.6,259L632.3,259.2L635,259.3L637.7,259.4L640.4,259.3L643.1,259L645.8,258.7L648.5,258.3L651.2,257.7L653.9,257.1L656.5,256.3L659.2,255.4L661.9,254.4L664.6,253.4L667.3,252.2L670,250.8L672.7,249.1L675.4,248.4L678.1,248.4L680.8,248.5L683.5,248.5" fill="none" stroke="#a797db" stroke-width="2.5"/><path d="M511,250L513.7,250L516.4,249.9L519.1,249.9L521.8,250.7L524.5,252.7L527.2,254.3L529.9,255.7L532.6,256.9L535.3,258.1L538,259.1L540.6,260L543.3,260.8L546,261.4L548.7,262L551.4,262.4L554.1,262.6L556.8,262.8L559.5,262.7L562.2,262.6L564.9,262.3L567.6,261.9L570.3,261.4L573,260.8L575.7,260L578.4,259.1L581.1,258L583.8,256.9L586.5,255.6L589.2,254.2L591.9,252.6L594.6,250.9L597.2,248.5L599.9,250.9L602.6,252.6L605.3,254.2L608,255.6L610.7,256.9L613.4,258L616.1,259.1L618.8,260L621.5,260.8L624.2,261.4L626.9,261.9L629.6,262.3L632.3,262.6L635,262.7L637.7,262.8L640.4,262.6L643.1,262.4L645.8,262L648.5,261.4L651.2,260.8L653.9,260L656.5,259.1L659.2,258.1L661.9,256.9L664.6,255.7L667.3,254.3L670,252.7L672.7,250.7L675.4,249.9L678.1,249.9L680.8,250L683.5,250" fill="none" stroke="#a797db" stroke-width="4.2"/><path d="M511,197.3L513.7,197.1L516.4,197L519.1,196.8L521.8,196.7L524.5,196.5L527.2,196.4L529.9,196.3L532.6,196.2L535.3,196.1L538,196L540.6,195.9L543.3,195.8L546,195.8L548.7,195.7L551.4,195.7L554.1,195.7L556.8,195.7L559.5,195.7L562.2,195.8L564.9,195.8L567.6,195.9L570.3,196L573,196.1L575.7,196.2L578.4,196.3L581.1,196.4L583.8,196.5L586.5,196.7L589.2,196.8L591.9,197L594.6,197.1L597.2,197.3L599.9,197.1L602.6,197L605.3,196.8L608,196.7L610.7,196.5L613.4,196.4L616.1,196.3L618.8,196.2L621.5,196.1L624.2,196L626.9,195.9L629.6,195.8L632.3,195.8L635,195.7L637.7,195.7L640.4,195.7L643.1,195.7L645.8,195.7L648.5,195.8L651.2,195.8L653.9,195.9L656.5,196L659.2,196.1L661.9,196.2L664.6,196.3L667.3,196.4L670,196.5L672.7,196.7L675.4,196.8L678.1,197L680.8,197.1L683.5,197.3" fill="none" stroke="#a797db" stroke-width="2.4"/><path d="M511,200.8L513.7,200.6L516.4,200.5L519.1,200.3L521.8,200.2L524.5,200L527.2,199.9L529.9,199.8L532.6,199.7L535.3,199.6L538,199.5L540.6,199.4L543.3,199.3L546,199.3L548.7,199.2L551.4,199.2L554.1,199.2L556.8,199.2L559.5,199.2L562.2,199.3L564.9,199.3L567.6,199.4L570.3,199.5L573,199.6L575.7,199.7L578.4,199.8L581.1,199.9L583.8,200L586.5,200.2L589.2,200.3L591.9,200.5L594.6,200.6L597.2,200.8L599.9,200.6L602.6,200.5L605.3,200.3L608,200.2L610.7,200L613.4,199.9L616.1,199.8L618.8,199.7L621.5,199.6L624.2,199.5L626.9,199.4L629.6,199.3L632.3,199.3L635,199.2L637.7,199.2L640.4,199.2L643.1,199.2L645.8,199.2L648.5,199.3L651.2,199.3L653.9,199.4L656.5,199.5L659.2,199.6L661.9,199.7L664.6,199.8L667.3,199.9L670,200L672.7,200.2L675.4,200.3L678.1,200.5L680.8,200.6L683.5,200.8" fill="none" stroke="#a797db" stroke-width="2.4"/><path d="M511,204.7L513.7,204.5L516.4,204.4L519.1,204.2L521.8,204.1L524.5,203.9L527.2,203.8L529.9,203.7L532.6,203.6L535.3,203.5L538,203.4L540.6,203.3L543.3,203.2L546,203.2L548.7,203.1L551.4,203.1L554.1,203.1L556.8,203.1L559.5,203.1L562.2,203.2L564.9,203.2L567.6,203.3L570.3,203.4L573,203.5L575.7,203.6L578.4,203.7L581.1,203.8L583.8,203.9L586.5,204.1L589.2,204.2L591.9,204.4L594.6,204.5L597.2,204.7L599.9,204.5L602.6,204.4L605.3,204.2L608,204.1L610.7,203.9L613.4,203.8L616.1,203.7L618.8,203.6L621.5,203.5L624.2,203.4L626.9,203.3L629.6,203.2L632.3,203.2L635,203.1L637.7,203.1L640.4,203.1L643.1,203.1L645.8,203.1L648.5,203.2L651.2,203.2L653.9,203.3L656.5,203.4L659.2,203.5L661.9,203.6L664.6,203.7L667.3,203.8L670,203.9L672.7,204.1L675.4,204.2L678.1,204.4L680.8,204.5L683.5,204.7" fill="none" stroke="#a797db" stroke-width="2.4"/><path d="M511,208.9L513.7,208.7L516.4,208.6L519.1,208.4L521.8,208.3L524.5,208.1L527.2,208L529.9,207.9L532.6,207.8L535.3,207.7L538,207.6L540.6,207.5L543.3,207.4L546,207.4L548.7,207.3L551.4,207.3L554.1,207.3L556.8,207.3L559.5,207.3L562.2,207.4L564.9,207.4L567.6,207.5L570.3,207.6L573,207.7L575.7,207.8L578.4,207.9L581.1,208L583.8,208.1L586.5,208.3L589.2,208.4L591.9,208.6L594.6,208.7L597.2,208.9L599.9,208.7L602.6,208.6L605.3,208.4L608,208.3L610.7,208.1L613.4,208L616.1,207.9L618.8,207.8L621.5,207.7L624.2,207.6L626.9,207.5L629.6,207.4L632.3,207.4L635,207.3L637.7,207.3L640.4,207.3L643.1,207.3L645.8,207.3L648.5,207.4L651.2,207.4L653.9,207.5L656.5,207.6L659.2,207.7L661.9,207.8L664.6,207.9L667.3,208L670,208.1L672.7,208.3L675.4,208.4L678.1,208.6L680.8,208.7L683.5,208.9" fill="none" stroke="#a797db" stroke-width="2.4"/><path d="M511,213L513.7,212.8L516.4,212.7L519.1,212.5L521.8,212.4L524.5,212.2L527.2,212.1L529.9,212L532.6,211.9L535.3,211.8L538,211.7L540.6,211.6L543.3,211.5L546,211.5L548.7,211.4L551.4,211.4L554.1,211.4L556.8,211.4L559.5,211.4L562.2,211.5L564.9,211.5L567.6,211.6L570.3,211.7L573,211.8L575.7,211.9L578.4,212L581.1,212.1L583.8,212.2L586.5,212.4L589.2,212.5L591.9,212.7L594.6,212.8L597.2,213L599.9,212.8L602.6,212.7L605.3,212.5L608,212.4L610.7,212.2L613.4,212.1L616.1,212L618.8,211.9L621.5,211.8L624.2,211.7L626.9,211.6L629.6,211.5L632.3,211.5L635,211.4L637.7,211.4L640.4,211.4L643.1,211.4L645.8,211.4L648.5,211.5L651.2,211.5L653.9,211.6L656.5,211.7L659.2,211.8L661.9,211.9L664.6,212L667.3,212.1L670,212.2L672.7,212.4L675.4,212.5L678.1,212.7L680.8,212.8L683.5,213" fill="none" stroke="#a797db" stroke-width="2.4"/><path d="M511,217.4L513.7,217.5L516.4,217.6L519.1,217.7L521.8,217.8L524.5,217.9L527.2,217.9L529.9,218L532.6,218.1L535.3,218.1L538,218.2L540.6,218.2L543.3,218.3L546,218.3L548.7,218.3L551.4,218.4L554.1,218.4L556.8,218.4L559.5,218.3L562.2,218.3L564.9,218.3L567.6,218.2L570.3,218.2L573,218.1L575.7,218.1L578.4,218L581.1,217.9L583.8,217.9L586.5,217.8L589.2,217.7L591.9,217.6L594.6,217.5L597.2,217.4L599.9,217.5L602.6,217.6L605.3,217.7L608,217.8L610.7,217.9L613.4,217.9L616.1,218L618.8,218.1L621.5,218.1L624.2,218.2L626.9,218.2L629.6,218.3L632.3,218.3L635,218.3L637.7,218.4L640.4,218.4L643.1,218.4L645.8,218.3L648.5,218.3L651.2,218.3L653.9,218.2L656.5,218.2L659.2,218.1L661.9,218.1L664.6,218L667.3,217.9L670,217.9L672.7,217.8L675.4,217.7L678.1,217.6L680.8,217.5L683.5,217.4" fill="none" stroke="#a797db" stroke-width="2.4"/><path d="M511,221.7L513.7,221.8L516.4,221.9L519.1,222L521.8,222.1L524.5,222.2L527.2,222.2L529.9,222.3L532.6,222.4L535.3,222.4L538,222.5L540.6,222.5L543.3,222.6L546,222.6L548.7,222.6L551.4,222.7L554.1,222.7L556.8,222.7L559.5,222.6L562.2,222.6L564.9,222.6L567.6,222.5L570.3,222.5L573,222.4L575.7,222.4L578.4,222.3L581.1,222.2L583.8,222.2L586.5,222.1L589.2,222L591.9,221.9L594.6,221.8L597.2,221.7L599.9,221.8L602.6,221.9L605.3,222L608,222.1L610.7,222.2L613.4,222.2L616.1,222.3L618.8,222.4L621.5,222.4L624.2,222.5L626.9,222.5L629.6,222.6L632.3,222.6L635,222.6L637.7,222.7L640.4,222.7L643.1,222.7L645.8,222.6L648.5,222.6L651.2,222.6L653.9,222.5L656.5,222.5L659.2,222.4L661.9,222.4L664.6,222.3L667.3,222.2L670,222.2L672.7,222.1L675.4,222L678.1,221.9L680.8,221.8L683.5,221.7" fill="none" stroke="#a797db" stroke-width="2.4"/><path d="M511,226L513.7,226.1L516.4,226.2L519.1,226.3L521.8,226.4L524.5,226.5L527.2,226.5L529.9,226.6L532.6,226.7L535.3,226.7L538,226.8L540.6,226.8L543.3,226.9L546,226.9L548.7,226.9L551.4,227L554.1,227L556.8,227L559.5,226.9L562.2,226.9L564.9,226.9L567.6,226.8L570.3,226.8L573,226.7L575.7,226.7L578.4,226.6L581.1,226.5L583.8,226.5L586.5,226.4L589.2,226.3L591.9,226.2L594.6,226.1L597.2,226L599.9,226.1L602.6,226.2L605.3,226.3L608,226.4L610.7,226.5L613.4,226.5L616.1,226.6L618.8,226.7L621.5,226.7L624.2,226.8L626.9,226.8L629.6,226.9L632.3,226.9L635,226.9L637.7,227L640.4,227L643.1,227L645.8,226.9L648.5,226.9L651.2,226.9L653.9,226.8L656.5,226.8L659.2,226.7L661.9,226.7L664.6,226.6L667.3,226.5L670,226.5L672.7,226.4L675.4,226.3L678.1,226.2L680.8,226.1L683.5,226" fill="none" stroke="#a797db" stroke-width="2.4"/></g><rect x="511" y="23" width="172.5" height="330" fill="none" stroke="#262626" stroke-width="1"/>
<g clip-path="url(#cpd)"><rect x="50" y="411.5" width="6.4" height="329" fill="url(#d0)"/><rect x="55.4" y="411.5" width="11.8" height="329" fill="url(#d1)"/><rect x="66.2" y="411.5" width="11.8" height="329" fill="url(#d2)"/><rect x="77" y="411.5" width="11.8" height="329" fill="url(#d3)"/><rect x="87.7" y="411.5" width="11.8" height="329" fill="url(#d4)"/><rect x="98.5" y="411.5" width="11.8" height="329" fill="url(#d5)"/><rect x="109.3" y="411.5" width="11.8" height="329" fill="url(#d6)"/><rect x="120.1" y="411.5" width="11.8" height="329" fill="url(#d7)"/><rect x="130.9" y="411.5" width="11.8" height="329" fill="url(#d8)"/><rect x="141.6" y="411.5" width="11.8" height="329" fill="url(#d9)"/><rect x="152.4" y="411.5" width="11.8" height="329" fill="url(#d10)"/><rect x="163.2" y="411.5" width="11.8" height="329" fill="url(#d11)"/><rect x="174" y="411.5" width="11.8" height="329" fill="url(#d12)"/><rect x="184.8" y="411.5" width="11.8" height="329" fill="url(#d13)"/><rect x="195.5" y="411.5" width="11.8" height="329" fill="url(#d14)"/><rect x="206.3" y="411.5" width="11.8" height="329" fill="url(#d15)"/><rect x="217.1" y="411.5" width="5.4" height="329" fill="url(#d16)"/><rect x="50" y="411.5" width="172.5" height="329" fill="#a797db" mask="url(#md0)"/><rect x="50" y="411.5" width="172.5" height="329" fill="#a797db" mask="url(#md1)"/><rect x="50" y="411.5" width="172.5" height="329" fill="#a797db" mask="url(#md2)"/><rect x="50" y="411.5" width="172.5" height="329" fill="#a797db" mask="url(#md3)"/><path d="M50,483.9L52.7,483.9L55.4,483.8L58.1,483.6L60.8,483.4L63.5,483.2L66.2,482.9L68.9,482.5L71.6,482.1L74.3,481.6L77,480.9L79.6,480.1L82.3,479.3L85,478.4L87.7,477.5L90.4,476.6L93.1,475.8L95.8,475L98.5,474.2L101.2,473.4L103.9,472.5L106.6,471.8L109.3,471.1L112,470.5L114.7,470L117.4,469.6L120.1,469.3L122.8,469L125.5,468.8L128.2,468.6L130.9,468.4L133.6,468.3L136.2,468.3L138.9,468.3L141.6,468.4L144.3,468.6L147,468.8L149.7,469L152.4,469.3L155.1,469.6L157.8,470L160.5,470.5L163.2,471.1L165.9,471.8L168.6,472.5L171.3,473.4L174,474.2L176.7,475L179.4,475.8L182.1,476.6L184.8,477.5L187.5,478.4L190.2,479.3L192.9,480.1L195.5,480.9L198.2,481.6L200.9,482.1L203.6,482.5L206.3,482.9L209,483.2L211.7,483.4L214.4,483.6L217.1,483.8L219.8,483.9L222.5,483.9" fill="none" stroke="#fff" stroke-width="2.1" stroke-linejoin="round"/><path d="M50,520.3L52.7,520.3L55.4,520.3L58.1,520.4L60.8,520.5L63.5,520.5L66.2,520.6L68.9,520.8L71.6,521.1L74.3,521.3L77,521.6L79.6,522L82.3,522.6L85,523.2L87.7,523.9L90.4,524.9L93.1,526.3L95.8,527.9L98.5,529.7L101.2,531.5L103.9,533.6L106.6,535.9L109.3,538.2L112,540.3L114.7,542.2L117.4,544.1L120.1,545.8L122.8,547.1L125.5,548L128.2,548.7L130.9,549.4L133.6,549.8L136.2,549.9L138.9,549.8L141.6,549.4L144.3,548.7L147,548L149.7,547.1L152.4,545.8L155.1,544.1L157.8,542.2L160.5,540.3L163.2,538.2L165.9,535.9L168.6,533.6L171.3,531.5L174,529.7L176.7,527.9L179.4,526.3L182.1,524.9L184.8,523.9L187.5,523.2L190.2,522.6L192.9,522L195.5,521.6L198.2,521.3L200.9,521.1L203.6,520.8L206.3,520.6L209,520.5L211.7,520.5L214.4,520.4L217.1,520.3L219.8,520.3L222.5,520.3" fill="none" stroke="#fff" stroke-width="2.1" stroke-linejoin="round"/><path d="M50,646.6L52.7,646.5L55.4,646.3L58.1,646.1L60.8,645.7L63.5,645.3L66.2,644.8L68.9,644.3L71.6,643.5L74.3,642.5L77,641.3L79.6,640L82.3,638.7L85,637.2L87.7,635.4L90.4,633.5L93.1,631.5L95.8,629.7L98.5,627.9L101.2,625.9L103.9,623.8L106.6,621.7L109.3,619.5L112,617.3L114.7,615.1L117.4,612.7L120.1,610.4L122.8,608.3L125.5,606.6L128.2,605.3L130.9,604.3L133.6,603.6L136.2,603.4L138.9,603.6L141.6,604.3L144.3,605.3L147,606.6L149.7,608.3L152.4,610.4L155.1,612.7L157.8,615.1L160.5,617.3L163.2,619.5L165.9,621.7L168.6,623.8L171.3,625.9L174,627.9L176.7,629.7L179.4,631.5L182.1,633.5L184.8,635.4L187.5,637.2L190.2,638.7L192.9,640L195.5,641.3L198.2,642.5L200.9,643.5L203.6,644.3L206.3,644.8L209,645.3L211.7,645.7L214.4,646.1L217.1,646.3L219.8,646.5L222.5,646.6" fill="none" stroke="#fff" stroke-width="2.1" stroke-linejoin="round"/><path d="M50,690.8L52.7,690.7L55.4,690.6L58.1,690.3L60.8,690L63.5,689.6L66.2,689.1L68.9,688.6L71.6,688L74.3,687.3L77,686.5L79.6,685.6L82.3,684.6L85,683.6L87.7,682.6L90.4,681.6L93.1,680.6L95.8,679.6L98.5,678.5L101.2,677.4L103.9,676.3L106.6,675.3L109.3,674.3L112,673.6L114.7,673L117.4,672.6L120.1,672.2L122.8,671.9L125.5,671.6L128.2,671.4L130.9,671.3L133.6,671.2L136.2,671.2L138.9,671.2L141.6,671.3L144.3,671.4L147,671.6L149.7,671.9L152.4,672.2L155.1,672.6L157.8,673L160.5,673.6L163.2,674.3L165.9,675.3L168.6,676.3L171.3,677.4L174,678.5L176.7,679.6L179.4,680.6L182.1,681.6L184.8,682.6L187.5,683.6L190.2,684.6L192.9,685.6L195.5,686.5L198.2,687.3L200.9,688L203.6,688.6L206.3,689.1L209,689.6L211.7,690L214.4,690.3L217.1,690.6L219.8,690.7L222.5,690.8" fill="none" stroke="#fff" stroke-width="2.1" stroke-linejoin="round"/></g><rect x="50" y="411.5" width="172.5" height="329" fill="none" stroke="#262626" stroke-width="1"/>
<g clip-path="url(#cpe)"><rect x="281" y="411.5" width="6.4" height="329" fill="url(#e0)"/><rect x="286.4" y="411.5" width="11.8" height="329" fill="url(#e1)"/><rect x="297.1" y="411.5" width="11.8" height="329" fill="url(#e2)"/><rect x="307.9" y="411.5" width="11.8" height="329" fill="url(#e3)"/><rect x="318.6" y="411.5" width="11.8" height="329" fill="url(#e4)"/><rect x="329.4" y="411.5" width="11.8" height="329" fill="url(#e5)"/><rect x="340.1" y="411.5" width="11.8" height="329" fill="url(#e6)"/><rect x="350.9" y="411.5" width="11.8" height="329" fill="url(#e7)"/><rect x="361.6" y="411.5" width="11.8" height="329" fill="url(#e8)"/><rect x="372.4" y="411.5" width="11.8" height="329" fill="url(#e9)"/><rect x="383.1" y="411.5" width="11.8" height="329" fill="url(#e10)"/><rect x="393.9" y="411.5" width="11.8" height="329" fill="url(#e11)"/><rect x="404.6" y="411.5" width="11.8" height="329" fill="url(#e12)"/><rect x="415.4" y="411.5" width="11.8" height="329" fill="url(#e13)"/><rect x="426.1" y="411.5" width="11.8" height="329" fill="url(#e14)"/><rect x="436.9" y="411.5" width="11.8" height="329" fill="url(#e15)"/><rect x="447.6" y="411.5" width="5.4" height="329" fill="url(#e16)"/><rect x="281" y="411.5" width="172" height="329" fill="#a797db" mask="url(#me0)"/><rect x="281" y="411.5" width="172" height="329" fill="#a797db" mask="url(#me1)"/><path d="M281,637.3L283.7,637.2L286.4,637.1L289.1,636.9L291.8,636.6L294.4,636.3L297.1,635.9L299.8,635.5L302.5,635L305.2,634.2L307.9,633.4L310.6,632.5L313.2,631.5L315.9,630.4L318.6,629.2L321.3,627.9L324,626.5L326.7,624.9L329.4,623.1L332.1,621.3L334.8,619.7L337.4,618.1L340.1,616.6L342.8,615.2L345.5,613.8L348.2,612.5L350.9,611.3L353.6,610.3L356.2,609.7L358.9,609.1L361.6,608.6L364.3,608.3L367,608.2L369.7,608.3L372.4,608.6L375.1,609.1L377.8,609.7L380.4,610.3L383.1,611.3L385.8,612.5L388.5,613.8L391.2,615.2L393.9,616.6L396.6,618.1L399.2,619.7L401.9,621.3L404.6,623.1L407.3,624.9L410,626.5L412.7,627.9L415.4,629.2L418.1,630.4L420.8,631.5L423.4,632.5L426.1,633.4L428.8,634.2L431.5,635L434.2,635.5L436.9,635.9L439.6,636.3L442.2,636.6L444.9,636.9L447.6,637.1L450.3,637.2L453,637.3L453,645.4L450.3,645.7L447.6,646.5L444.9,647.5L442.2,648.5L439.6,649.2L436.9,649.9L434.2,650.5L431.5,651.1L428.8,651.7L426.1,652.1L423.4,652.4L420.8,652.3L418.1,651.8L415.4,650.9L412.7,649.8L410,648.6L407.3,647.2L404.6,645.3L401.9,643.3L399.2,641.2L396.6,638.8L393.9,636.4L391.2,634.1L388.5,631.9L385.8,629.6L383.1,627.4L380.4,625.4L377.8,623.7L375.1,622.4L372.4,621.3L369.7,620.6L367,620.3L364.3,620.6L361.6,621.3L358.9,622.4L356.2,623.7L353.6,625.4L350.9,627.4L348.2,629.6L345.5,631.9L342.8,634.1L340.1,636.4L337.4,638.8L334.8,641.2L332.1,643.3L329.4,645.3L326.7,647.2L324,648.6L321.3,649.8L318.6,650.9L315.9,651.8L313.2,652.3L310.6,652.4L307.9,652.1L305.2,651.7L302.5,651.1L299.8,650.5L297.1,649.9L294.4,649.2L291.8,648.5L289.1,647.5L286.4,646.5L283.7,645.7L281,645.4Z" fill="#a797db"/><path d="M281,698.6L283.7,698.5L286.4,698.3L289.1,698L291.8,697.8L294.4,697.6L297.1,697.4L299.8,697.2L302.5,697.1L305.2,696.9L307.9,696.9L310.6,696.9L313.2,697L315.9,697.3L318.6,697.6L321.3,698.1L324,698.6L326.7,699.1L329.4,699.7L332.1,700.3L334.8,700.8L337.4,701.3L340.1,701.8L342.8,702.1L345.5,702.5L348.2,702.8L350.9,703.2L353.6,703.5L356.2,703.8L358.9,704L361.6,704.2L364.3,704.4L367,704.4L369.7,704.4L372.4,704.2L375.1,704L377.8,703.8L380.4,703.5L383.1,703.2L385.8,702.8L388.5,702.5L391.2,702.1L393.9,701.8L396.6,701.3L399.2,700.8L401.9,700.3L404.6,699.7L407.3,699.1L410,698.6L412.7,698.1L415.4,697.6L418.1,697.3L420.8,697L423.4,696.9L426.1,696.9L428.8,696.9L431.5,697.1L434.2,697.2L436.9,697.4L439.6,697.6L442.2,697.8L444.9,698L447.6,698.3L450.3,698.5L453,698.6L453,715.2L450.3,715.2L447.6,715.3L444.9,715.3L442.2,715.4L439.6,715.5L436.9,715.7L434.2,715.8L431.5,715.9L428.8,716.1L426.1,716.3L423.4,716.5L420.8,716.7L418.1,717L415.4,717.3L412.7,717.6L410,717.9L407.3,718.2L404.6,718.4L401.9,718.7L399.2,718.8L396.6,719L393.9,719.2L391.2,719.4L388.5,719.5L385.8,719.7L383.1,719.8L380.4,720L377.8,720.1L375.1,720.2L372.4,720.2L369.7,720.3L367,720.3L364.3,720.3L361.6,720.2L358.9,720.2L356.2,720.1L353.6,720L350.9,719.8L348.2,719.7L345.5,719.5L342.8,719.4L340.1,719.2L337.4,719L334.8,718.8L332.1,718.7L329.4,718.4L326.7,718.2L324,717.9L321.3,717.6L318.6,717.3L315.9,717L313.2,716.7L310.6,716.5L307.9,716.3L305.2,716.1L302.5,715.9L299.8,715.8L297.1,715.7L294.4,715.5L291.8,715.4L289.1,715.3L286.4,715.3L283.7,715.2L281,715.2Z" fill="#a797db"/><path d="M281,471.3L283.7,471.4L286.4,471.8L289.1,472.2L291.8,473.1L294.4,474.3L297.1,475.7L299.8,477.2L302.5,478.9L305.2,480.8L307.9,482.7L310.6,484.7L313.2,486.8L315.9,489L318.6,491.3L321.3,493.4L324,495.2L326.7,496.7L329.4,497.9L332.1,499.2L334.8,500.4L337.4,501.6L340.1,502.8L342.8,504L345.5,505.2L348.2,506.3L350.9,507.5L353.6,508.6L356.2,509.6L358.9,510.5L361.6,511.3L364.3,512.1L367,512.8L369.7,512.1L372.4,511.3L375.1,510.5L377.8,509.6L380.4,508.6L383.1,507.5L385.8,506.3L388.5,505.2L391.2,504L393.9,502.8L396.6,501.6L399.2,500.4L401.9,499.2L404.6,497.9L407.3,496.7L410,495.2L412.7,493.4L415.4,491.3L418.1,489L420.8,486.8L423.4,484.7L426.1,482.7L428.8,480.8L431.5,478.9L434.2,477.2L436.9,475.7L439.6,474.3L442.2,473.1L444.9,472.2L447.6,471.8L450.3,471.4L453,471.3" fill="none" stroke="#fff" stroke-width="2.1" stroke-linejoin="round"/><path d="M281,637.3L283.7,637.2L286.4,637L289.1,636.7L291.8,636.4L294.4,635.9L297.1,635.5L299.8,635L302.5,634.3L305.2,633.5L307.9,632.7L310.6,631.8L313.2,630.8L315.9,629.7L318.6,628.5L321.3,627.1L324,625.3L326.7,623L329.4,620.2L332.1,617.1L334.8,613.8L337.4,610.1L340.1,606.2L342.8,602.2L345.5,598.3L348.2,594.3L350.9,590.3L353.6,586.3L356.2,582.1L358.9,578L361.6,573.7L364.3,569.3L367,564.8L369.7,569.3L372.4,573.7L375.1,578L377.8,582.1L380.4,586.3L383.1,590.3L385.8,594.3L388.5,598.3L391.2,602.2L393.9,606.2L396.6,610.1L399.2,613.8L401.9,617.1L404.6,620.2L407.3,623L410,625.3L412.7,627.1L415.4,628.5L418.1,629.7L420.8,630.8L423.4,631.8L426.1,632.7L428.8,633.5L431.5,634.3L434.2,635L436.9,635.5L439.6,635.9L442.2,636.4L444.9,636.7L447.6,637L450.3,637.2L453,637.3" fill="none" stroke="#fff" stroke-width="2.1" stroke-linejoin="round"/><path d="M340.1,529.5L342.8,532.7L345.5,536L348.2,539.4L350.9,542.9L353.6,546.4L356.2,550L358.9,553.6L361.6,557.3L364.3,561L367,564.8" fill="none" stroke="#fff" stroke-width="2.1" stroke-linejoin="round"/><path d="M367,564.8L369.7,561L372.4,557.3L375.1,553.6L377.8,550L380.4,546.4L383.1,542.9L385.8,539.4L388.5,536L391.2,532.7L393.9,529.5" fill="none" stroke="#fff" stroke-width="2.1" stroke-linejoin="round"/><path d="M281,683.6L283.7,683.2L286.4,682.4L289.1,681.2L291.8,680L294.4,678.3L297.1,676.5L299.8,674.5L302.5,672.3L305.2,669.9L307.9,667.4L310.6,664.7L313.2,661.6L315.9,658.4L318.6,655.2L321.3,652.4L324,649.7L326.7,647L329.4,644.3L332.1,641.4L334.8,638.5L337.4,635.7L340.1,633.3L342.8,631.2" fill="none" stroke="#fff" stroke-width="2.1" stroke-linejoin="round"/><path d="M391.2,631.2L393.9,633.3L396.6,635.7L399.2,638.5L401.9,641.4L404.6,644.3L407.3,647L410,649.7L412.7,652.4L415.4,655.2L418.1,658.4L420.8,661.6L423.4,664.7L426.1,667.4L428.8,669.9L431.5,672.3L434.2,674.5L436.9,676.5L439.6,678.3L442.2,680L444.9,681.2L447.6,682.4L450.3,683.2L453,683.6" fill="none" stroke="#fff" stroke-width="2.1" stroke-linejoin="round"/></g><rect x="281" y="411.5" width="172" height="329" fill="none" stroke="#262626" stroke-width="1"/>
<g clip-path="url(#cpf)"><rect x="511" y="411.5" width="6.4" height="329" fill="url(#f0)"/><rect x="516.4" y="411.5" width="11.8" height="329" fill="url(#f1)"/><rect x="527.2" y="411.5" width="11.8" height="329" fill="url(#f2)"/><rect x="538" y="411.5" width="11.8" height="329" fill="url(#f3)"/><rect x="548.7" y="411.5" width="11.8" height="329" fill="url(#f4)"/><rect x="559.5" y="411.5" width="11.8" height="329" fill="url(#f5)"/><rect x="570.3" y="411.5" width="11.8" height="329" fill="url(#f6)"/><rect x="581.1" y="411.5" width="11.8" height="329" fill="url(#f7)"/><rect x="591.9" y="411.5" width="11.8" height="329" fill="url(#f8)"/><rect x="602.6" y="411.5" width="11.8" height="329" fill="url(#f9)"/><rect x="613.4" y="411.5" width="11.8" height="329" fill="url(#f10)"/><rect x="624.2" y="411.5" width="11.8" height="329" fill="url(#f11)"/><rect x="635" y="411.5" width="11.8" height="329" fill="url(#f12)"/><rect x="645.8" y="411.5" width="11.8" height="329" fill="url(#f13)"/><rect x="656.5" y="411.5" width="11.8" height="329" fill="url(#f14)"/><rect x="667.3" y="411.5" width="11.8" height="329" fill="url(#f15)"/><rect x="678.1" y="411.5" width="5.4" height="329" fill="url(#f16)"/><path d="M511,434.1L513.7,434.1L516.4,434.1L519.1,434L521.8,434L524.5,433.9L527.2,433.8L529.9,433.7L532.6,433.6L535.3,433.4L538,433.2L540.6,432.9L543.3,432.5L546,432L548.7,431.6L551.4,431.1L554.1,430.6L556.8,430.1L559.5,429.4L562.2,428.7L564.9,428L567.6,427.3L570.3,426.7L573,426.1L575.7,425.6L578.4,425.2L581.1,424.8L583.8,424.5L586.5,424.2L589.2,424L591.9,423.8L594.6,423.6L597.2,423.6L599.9,423.6L602.6,423.8L605.3,424L608,424.2L610.7,424.5L613.4,424.8L616.1,425.2L618.8,425.6L621.5,426.1L624.2,426.7L626.9,427.3L629.6,428L632.3,428.7L635,429.4L637.7,430.1L640.4,430.6L643.1,431.1L645.8,431.6L648.5,432L651.2,432.5L653.9,432.9L656.5,433.2L659.2,433.4L661.9,433.6L664.6,433.7L667.3,433.8L670,433.9L672.7,434L675.4,434L678.1,434.1L680.8,434.1L683.5,434.1L683.5,452.5L680.8,452.5L678.1,452.6L675.4,452.7L672.7,452.9L670,453L667.3,453.2L664.6,453.3L661.9,453.4L659.2,453.4L656.5,453.5L653.9,453.6L651.2,453.6L648.5,453.7L645.8,453.7L643.1,453.6L640.4,453.2L637.7,452.6L635,451.7L632.3,450.9L629.6,449.9L626.9,448.8L624.2,447.4L621.5,446.1L618.8,444.8L616.1,443.7L613.4,442.9L610.7,442.1L608,441.4L605.3,440.8L602.6,440.3L599.9,440L597.2,439.9L594.6,440L591.9,440.3L589.2,440.8L586.5,441.4L583.8,442.1L581.1,442.9L578.4,443.7L575.7,444.8L573,446.1L570.3,447.4L567.6,448.8L564.9,449.9L562.2,450.9L559.5,451.7L556.8,452.6L554.1,453.2L551.4,453.6L548.7,453.7L546,453.7L543.3,453.6L540.6,453.6L538,453.5L535.3,453.4L532.6,453.4L529.9,453.3L527.2,453.2L524.5,453L521.8,452.9L519.1,452.7L516.4,452.6L513.7,452.5L511,452.5Z" fill="#a797db"/><rect x="511" y="411.5" width="172.5" height="329" fill="#a797db" mask="url(#mf1)"/><path d="M511,621.5L513.7,621.4L516.4,621.2L519.1,620.9L521.8,620.6L524.5,620.2L527.2,619.9L529.9,619.5L532.6,619.1L535.3,618.6L538,618.1L540.6,617.5L543.3,616.7L546,615.8L548.7,614.7L551.4,613.5L554.1,612.2L556.8,610.7L559.5,609.3L562.2,607.8L564.9,606.2L567.6,604.4L570.3,602.5L573,600.7L575.7,599.2L578.4,598.1L581.1,597.3L583.8,596.6L586.5,596L589.2,595.6L591.9,595.3L594.6,595.1L597.2,595L599.9,595.1L602.6,595.3L605.3,595.6L608,596L610.7,596.6L613.4,597.3L616.1,598.1L618.8,599.2L621.5,600.7L624.2,602.5L626.9,604.4L629.6,606.2L632.3,607.8L635,609.3L637.7,610.7L640.4,612.2L643.1,613.5L645.8,614.7L648.5,615.8L651.2,616.7L653.9,617.5L656.5,618.1L659.2,618.6L661.9,619.1L664.6,619.5L667.3,619.9L670,620.2L672.7,620.6L675.4,620.9L678.1,621.2L680.8,621.4L683.5,621.5L683.5,629.4L680.8,629.9L678.1,631L675.4,632.3L672.7,633.4L670,634.5L667.3,635.6L664.6,636.6L661.9,637.7L659.2,638.5L656.5,639L653.9,639.2L651.2,639L648.5,638.3L645.8,637.5L643.1,636.1L640.4,634.5L637.7,632.7L635,630.6L632.3,628.7L629.6,626.8L626.9,624.9L624.2,622.9L621.5,620.9L618.8,618.7L616.1,616.2L613.4,613.4L610.7,611.2L608,609.5L605.3,608.3L602.6,607.5L599.9,606.9L597.2,606.7L594.6,606.9L591.9,607.5L589.2,608.3L586.5,609.5L583.8,611.2L581.1,613.4L578.4,616.2L575.7,618.7L573,620.9L570.3,622.9L567.6,624.9L564.9,626.8L562.2,628.7L559.5,630.6L556.8,632.7L554.1,634.5L551.4,636.1L548.7,637.5L546,638.3L543.3,639L540.6,639.2L538,639L535.3,638.5L532.6,637.7L529.9,636.6L527.2,635.6L524.5,634.5L521.8,633.4L519.1,632.3L516.4,631L513.7,629.9L511,629.4Z" fill="#a797db"/><path d="M511,693.8L513.7,693.6L516.4,693.1L519.1,692.5L521.8,691.9L524.5,691.4L527.2,691L529.9,690.6L532.6,690.2L535.3,689.8L538,689.6L540.6,689.5L543.3,689.6L546,689.7L548.7,689.8L551.4,690L554.1,690.2L556.8,690.4L559.5,690.6L562.2,690.8L564.9,691L567.6,691.2L570.3,691.4L573,691.6L575.7,691.8L578.4,692.1L581.1,692.3L583.8,692.6L586.5,692.8L589.2,693L591.9,693.2L594.6,693.3L597.2,693.3L599.9,693.3L602.6,693.2L605.3,693L608,692.8L610.7,692.6L613.4,692.3L616.1,692.1L618.8,691.8L621.5,691.6L624.2,691.4L626.9,691.2L629.6,691L632.3,690.8L635,690.6L637.7,690.4L640.4,690.2L643.1,690L645.8,689.8L648.5,689.7L651.2,689.6L653.9,689.5L656.5,689.6L659.2,689.8L661.9,690.2L664.6,690.6L667.3,691L670,691.4L672.7,691.9L675.4,692.5L678.1,693.1L680.8,693.6L683.5,693.8L683.5,706.9L680.8,706.9L678.1,706.9L675.4,706.9L672.7,706.9L670,706.9L667.3,706.9L664.6,706.9L661.9,706.9L659.2,706.9L656.5,706.9L653.9,706.9L651.2,706.9L648.5,706.9L645.8,706.9L643.1,706.9L640.4,706.9L637.7,706.9L635,706.9L632.3,707L629.6,707L626.9,707.1L624.2,707.1L621.5,707.2L618.8,707.2L616.1,707.3L613.4,707.4L610.7,707.4L608,707.5L605.3,707.5L602.6,707.6L599.9,707.6L597.2,707.6L594.6,707.6L591.9,707.6L589.2,707.5L586.5,707.5L583.8,707.4L581.1,707.4L578.4,707.3L575.7,707.2L573,707.2L570.3,707.1L567.6,707.1L564.9,707L562.2,707L559.5,706.9L556.8,706.9L554.1,706.9L551.4,706.9L548.7,706.9L546,706.9L543.3,706.9L540.6,706.9L538,706.9L535.3,706.9L532.6,706.9L529.9,706.9L527.2,706.9L524.5,706.9L521.8,706.9L519.1,706.9L516.4,706.9L513.7,706.9L511,706.9Z" fill="#a797db"/><path d="M511,475.8L513.7,475.9L516.4,476.1L519.1,476.5L521.8,477.3L524.5,478.4L527.2,479.6L529.9,480.9L532.6,482.2L535.3,483.8L538,485.5L540.6,487.2L543.3,489.1L546,491.2L548.7,493.4L551.4,495.7L554.1,498.1L556.8,500.5L559.5,503.1L562.2,505.9L564.9,508.6L567.6,511.3L570.3,514.1L573,516.8L575.7,519.2L578.4,521.1L581.1,522.5L583.8,523.6L586.5,524.7L589.2,525.7L591.9,526.8L594.6,527.8L597.2,528.8L599.9,527.8L602.6,526.8L605.3,525.7L608,524.7L610.7,523.6L613.4,522.5L616.1,521.1L618.8,519.2L621.5,516.8L624.2,514.1L626.9,511.3L629.6,508.6L632.3,505.9L635,503.1L637.7,500.5L640.4,498.1L643.1,495.7L645.8,493.4L648.5,491.2L651.2,489.1L653.9,487.2L656.5,485.5L659.2,483.8L661.9,482.2L664.6,480.9L667.3,479.6L670,478.4L672.7,477.3L675.4,476.5L678.1,476.1L680.8,475.9L683.5,475.8" fill="none" stroke="#fff" stroke-width="2.1" stroke-linejoin="round"/><path d="M511,572.5L513.7,572.2L516.4,571.5L519.1,570.7L521.8,569.7L524.5,568.7L527.2,567.5L529.9,566.2L532.6,565L535.3,563.8L538,562.5L540.6,561.3L543.3,560L546,558.6L548.7,557.2L551.4,555.7L554.1,554.2L556.8,552.6L559.5,551L562.2,549.3L564.9,547.6L567.6,545.8L570.3,544.1L573,542.6L575.7,541.2L578.4,540.3L581.1,540.4L583.8,541.9L586.5,544.1L589.2,546.3L591.9,548.7L594.6,551.4L597.2,554.2L599.9,551.4L602.6,548.7L605.3,546.3L608,544.1L610.7,541.9L613.4,540.4L616.1,540.3L618.8,541.2L621.5,542.6L624.2,544.1L626.9,545.8L629.6,547.6L632.3,549.3L635,551L637.7,552.6L640.4,554.2L643.1,555.7L645.8,557.2L648.5,558.6L651.2,560L653.9,561.3L656.5,562.5L659.2,563.8L661.9,565L664.6,566.2L667.3,567.5L670,568.7L672.7,569.7L675.4,570.7L678.1,571.5L680.8,572.2L683.5,572.5" fill="none" stroke="#fff" stroke-width="2.1" stroke-linejoin="round"/><path d="M511,606.4L513.7,606.8L516.4,607.8L519.1,609.1L521.8,610.5L524.5,611.7L527.2,613L529.9,614.4L532.6,615.8L535.3,617L538,617.9L540.6,618.1L543.3,617.5L546,616.5L548.7,615.3L551.4,613.9L554.1,612.3L556.8,610.6L559.5,608.9L562.2,607.1L564.9,605.3L567.6,603.4L570.3,601.4L573,599.2L575.7,596.8L578.4,594.1L581.1,591L583.8,587.6L586.5,584.4L589.2,581.3L591.9,578.7L594.6,576.7L597.2,575.5L599.9,576.7L602.6,578.7L605.3,581.3L608,584.4L610.7,587.6L613.4,591L616.1,594.1L618.8,596.8L621.5,599.2L624.2,601.4L626.9,603.4L629.6,605.3L632.3,607.1L635,608.9L637.7,610.6L640.4,612.3L643.1,613.9L645.8,615.3L648.5,616.5L651.2,617.5L653.9,618.1L656.5,617.9L659.2,617L661.9,615.8L664.6,614.4L667.3,613L670,611.7L672.7,610.5L675.4,609.1L678.1,607.8L680.8,606.8L683.5,606.4" fill="none" stroke="#fff" stroke-width="2.1" stroke-linejoin="round"/><path d="M511,680.7L513.7,680.5L516.4,680.1L519.1,679.6L521.8,678.8L524.5,677.7L527.2,676.5L529.9,674.6L532.6,672.1L535.3,669.5L538,666.7L540.6,663.7L543.3,660.5L546,657.2L548.7,653.9L551.4,650.5L554.1,647L556.8,643.4L559.5,639.9L562.2,636.3L564.9,632.6L567.6,629L570.3,625.7L573,622.7L575.7,619.9L578.4,617.1L581.1,614.3L583.8,612L586.5,610.1L589.2,608.8L591.9,608L594.6,607.4L597.2,607.2L599.9,607.4L602.6,608L605.3,608.8L608,610.1L610.7,612L613.4,614.3L616.1,617.1L618.8,619.9L621.5,622.7L624.2,625.7L626.9,629L629.6,632.6L632.3,636.3L635,639.9L637.7,643.4L640.4,647L643.1,650.5L645.8,653.9L648.5,657.2L651.2,660.5L653.9,663.7L656.5,666.7L659.2,669.5L661.9,672.1L664.6,674.6L667.3,676.5L670,677.7L672.7,678.8L675.4,679.6L678.1,680.1L680.8,680.5L683.5,680.7" fill="none" stroke="#fff" stroke-width="2.1" stroke-linejoin="round"/></g><path d="M511,411.5V740.5H683.5" fill="none" stroke="#262626" stroke-width="1"/>
<text x="0.6" y="21.4" class="pl" textLength="14.5" lengthAdjust="spacingAndGlyphs">a</text><text x="224.2" y="20.7" class="pl" textLength="17" lengthAdjust="spacingAndGlyphs">b</text><text x="458.2" y="21.4" class="pl" textLength="13.3" lengthAdjust="spacingAndGlyphs">c</text><text x="-1.8" y="411.2" class="pl" textLength="17" lengthAdjust="spacingAndGlyphs">d</text><text x="226.8" y="411.2" class="pl" textLength="15.6" lengthAdjust="spacingAndGlyphs">e</text><text x="461" y="410.7" class="pl" textLength="11.2" lengthAdjust="spacingAndGlyphs">f</text><text x="271" y="35" class="t" text-anchor="end" >9.4</text><text x="271" y="200.5" class="t" text-anchor="end" >8.7</text><text x="271" y="359" class="t" text-anchor="end" >8.0</text><path d="M281,188.3h2.6M453,188.3h-2.6M367,23v2.6M367,353v-2.6" stroke="#262626" stroke-width="0.8" fill="none"/><text transform="translate(263,108) rotate(-90)" class="t" style="font-size:17.3px" text-anchor="middle" textLength="126.5" lengthAdjust="spacingAndGlyphs">Frequency(kHz)</text><text x="278.7" y="376.8" class="t" text-anchor="start" >-π</text><text x="367.4" y="376.8" class="t" text-anchor="middle" >0</text><text x="444" y="376.8" class="t" text-anchor="start" >π</text><text x="394.5" y="376.8" class="t" style="font-style:italic;font-size:18.5px">k<tspan dy="7.6" style="font-size:18.5px">x</tspan></text><text x="501" y="35" class="t" text-anchor="end" >9.5</text><text x="501" y="200.5" class="t" text-anchor="end" >8.6</text><text x="501" y="359" class="t" text-anchor="end" >7.8</text><path d="M511,197.7h2.6M683.5,197.7h-2.6M597.2,23v2.6M597.2,353v-2.6" stroke="#262626" stroke-width="0.8" fill="none"/><text transform="translate(493,108) rotate(-90)" class="t" style="font-size:17.3px" text-anchor="middle" textLength="126.5" lengthAdjust="spacingAndGlyphs">Frequency(kHz)</text><text x="508.7" y="376.8" class="t" text-anchor="start" >-π</text><text x="597.6" y="376.8" class="t" text-anchor="middle" >0</text><text x="674.5" y="376.8" class="t" text-anchor="start" >π</text><text x="624.5" y="376.8" class="t" style="font-style:italic;font-size:18.5px">k<tspan dy="7.6" style="font-size:18.5px">x</tspan></text><text x="44.3" y="421.9" class="t" text-anchor="end" >9.2</text><text x="44.3" y="586.8" class="t" text-anchor="end" >8.6</text><text x="44.3" y="746.5" class="t" text-anchor="end" >8.0</text><path d="M50,576h2.6M222.5,576h-2.6M136.2,411.5v2.6M136.2,740.5v-2.6" stroke="#262626" stroke-width="0.8" fill="none"/><text transform="translate(35.5,496.5) rotate(-90)" class="t" style="font-size:17.3px" text-anchor="middle" textLength="126.5" lengthAdjust="spacingAndGlyphs">Frequency(kHz)</text><text x="45.3" y="764.3" class="t" text-anchor="start" >-π</text><text x="134.2" y="764.3" class="t" text-anchor="middle" >0</text><text x="211.1" y="764.3" class="t" text-anchor="start" >π</text><text x="163" y="764.3" class="t" style="font-style:italic;font-size:18.5px">k<tspan dy="7.6" style="font-size:18.5px">x</tspan></text><text x="271.4" y="421.7" class="t" text-anchor="end" >9.3</text><text x="271.4" y="587" class="t" text-anchor="end" >8.6</text><text x="271.4" y="746.5" class="t" text-anchor="end" >7.9</text><path d="M281,576h2.6M453,576h-2.6M367,411.5v2.6M367,740.5v-2.6" stroke="#262626" stroke-width="0.8" fill="none"/><text transform="translate(263,496.5) rotate(-90)" class="t" style="font-size:17.3px" text-anchor="middle" textLength="126.5" lengthAdjust="spacingAndGlyphs">Frequency(kHz)</text><text x="278.7" y="764.3" class="t" text-anchor="start" >-π</text><text x="365.4" y="764.3" class="t" text-anchor="middle" >0</text><text x="444" y="764.3" class="t" text-anchor="start" >π</text><text x="400.5" y="764.3" class="t" style="font-style:italic;font-size:18.5px">k<tspan dy="7.6" style="font-size:18.5px">x</tspan></text><text x="500.9" y="421.7" class="t" text-anchor="end" >9.4</text><text x="500.9" y="587" class="t" text-anchor="end" >8.6</text><text x="500.9" y="746.5" class="t" text-anchor="end" >7.8</text><path d="M511,576h2.6M683.5,576h-2.6M597.2,411.5v2.6M597.2,740.5v-2.6" stroke="#262626" stroke-width="0.8" fill="none"/><text transform="translate(493,496.5) rotate(-90)" class="t" style="font-size:17.3px" text-anchor="middle" textLength="126.5" lengthAdjust="spacingAndGlyphs">Frequency(kHz)</text><text x="508.7" y="764.3" class="t" text-anchor="start" >-π</text><text x="597.6" y="764.3" class="t" text-anchor="middle" >0</text><text x="674.5" y="764.3" class="t" text-anchor="start" >π</text><text x="622.8" y="764.3" class="t" style="font-style:italic;font-size:18.5px">k<tspan dy="7.6" style="font-size:18.5px">x</tspan></text><rect x="64.3" y="372" width="128.6" height="12.4" fill="url(#cb)" stroke="#555" stroke-width="0.5"/><text x="48.5" y="383.7" class="t" text-anchor="start" style="font-size:17.5px;fill:#231f20">0</text><text x="199" y="383.7" class="t" text-anchor="start" style="font-size:17.5px;fill:#231f20" textLength="35" lengthAdjust="spacingAndGlyphs">max</text><text x="69.6" y="364.3" class="t" text-anchor="start" style="font-size:17.5px;fill:#231f20" textLength="117.5" lengthAdjust="spacingAndGlyphs">Intensity (a.u.)</text><rect x="68" y="112.2" width="116.4" height="116.4" fill="#d1d2d4"/><path d="M184.39,112.21A82.3,82.3 0 0 0 68.01,112.21" fill="none" stroke="#45b3b9" stroke-width="2"/><path d="M68.01,112.21A82.3,82.3 0 0 0 68.01,228.59" fill="none" stroke="#e8774d" stroke-width="2"/><path d="M68.01,228.59A82.3,82.3 0 0 0 184.39,228.59" fill="none" stroke="#45b3b9" stroke-width="2"/><path d="M184.39,228.59A82.3,82.3 0 0 0 184.39,112.21" fill="none" stroke="#e8774d" stroke-width="2"/><path d="M68,112.2H184.4 M68,228.6H184.4" stroke="#e8774d" stroke-width="2.1" stroke-dasharray="6.5,3.6" fill="none"/><path d="M68,112.2V228.6 M184.4,112.2V228.6" stroke="#45b3b9" stroke-width="2.1" stroke-dasharray="6.5,3.6" fill="none"/><rect x="34.6" y="79.7" width="181.5" height="180.4" fill="none" stroke="#111" stroke-width="1.4"/><circle cx="137.7" cy="88.9" r="2.9" fill="#45b3b9"/><circle cx="137.7" cy="111.7" r="2.9" fill="#45b3b9"/><circle cx="147.7" cy="158.4" r="2.9" fill="#45b3b9"/><circle cx="184" cy="158.4" r="2.9" fill="#45b3b9"/><circle cx="198.5" cy="158.4" r="2.9" fill="#45b3b9"/><text x="38.6" y="99.6" class="s" style="font-size:16px" text-anchor="start" textLength="31.2" lengthAdjust="spacingAndGlyphs" >(0,0)</text><text x="143.7" y="90.9" class="s" style="font-size:17.5px" text-anchor="start" textLength="8" lengthAdjust="spacingAndGlyphs" >c</text><text x="102.4" y="106" class="s" style="font-size:16px" text-anchor="start" textLength="42" lengthAdjust="spacingAndGlyphs" >(1/2,0)</text><text x="142.7" y="126.5" class="s" style="font-size:17.5px" text-anchor="start" textLength="9" lengthAdjust="spacingAndGlyphs" >b</text><text x="130.3" y="156.7" class="s" style="font-size:17.5px" text-anchor="start" textLength="9.5" lengthAdjust="spacingAndGlyphs" >d</text><text x="166.9" y="156.7" class="s" style="font-size:17.5px" text-anchor="start" textLength="8.5" lengthAdjust="spacingAndGlyphs" >e</text><text x="194" y="150.7" class="s" style="font-size:17.5px" text-anchor="start" textLength="5" lengthAdjust="spacingAndGlyphs" >f</text><text x="97.4" y="177.5" class="s" style="font-size:16px" text-anchor="start" textLength="58.8" lengthAdjust="spacingAndGlyphs" >(1/2, 1/2)</text><text transform="translate(60.5,169.3) rotate(-90)" class="s" style="font-size:16px" text-anchor="middle" textLength="42" lengthAdjust="spacingAndGlyphs">(0,1/2)</text><text transform="translate(199.5,184.2) rotate(-90)" class="s" style="font-size:16px" text-anchor="middle" textLength="42" lengthAdjust="spacingAndGlyphs">(0,1/2)</text><text x="104.8" y="244.7" class="s" style="font-size:16px" text-anchor="start" textLength="42" lengthAdjust="spacingAndGlyphs" >(1/2,0)</text><text x="8" y="91.5" class="s" style="font-size:17px" text-anchor="start" textLength="20.8" lengthAdjust="spacingAndGlyphs" >1.5</text><text x="20.3" y="180.6" class="s" style="font-size:17px" text-anchor="start" textLength="9.3" lengthAdjust="spacingAndGlyphs" >0</text><text x="1.2" y="262.5" class="s" style="font-size:17px" text-anchor="start" textLength="28.3" lengthAdjust="spacingAndGlyphs" >-1.5</text><text x="20.5" y="281.6" class="s" style="font-size:17px" text-anchor="start" textLength="27.5" lengthAdjust="spacingAndGlyphs" >-1.5</text><text x="114.6" y="281.6" class="s" style="font-size:17px" text-anchor="start" textLength="9.2" lengthAdjust="spacingAndGlyphs" >0</text><text x="198" y="281.6" class="s" style="font-size:17px" text-anchor="start" textLength="20.5" lengthAdjust="spacingAndGlyphs" >1.5</text><text x="13" y="121.5" class="s" style="font-style:italic;font-size:18px">γ<tspan dy="4" style="font-size:11px">y</tspan></text><path d="M11,129.8H29.5" stroke="#231f20" stroke-width="1"/><text x="12.5" y="148" class="s" style="font-style:italic;font-size:18px">λ<tspan dy="4" style="font-size:11px">y</tspan></text><text x="146.5" y="281.6" class="s" style="font-style:italic;font-size:18px" textLength="32.5" lengthAdjust="spacingAndGlyphs">γ<tspan dy="4" style="font-size:11px">x</tspan><tspan dy="-4">/λ</tspan><tspan dy="4" style="font-size:11px">x</tspan></text>
</svg>
</body></html>
